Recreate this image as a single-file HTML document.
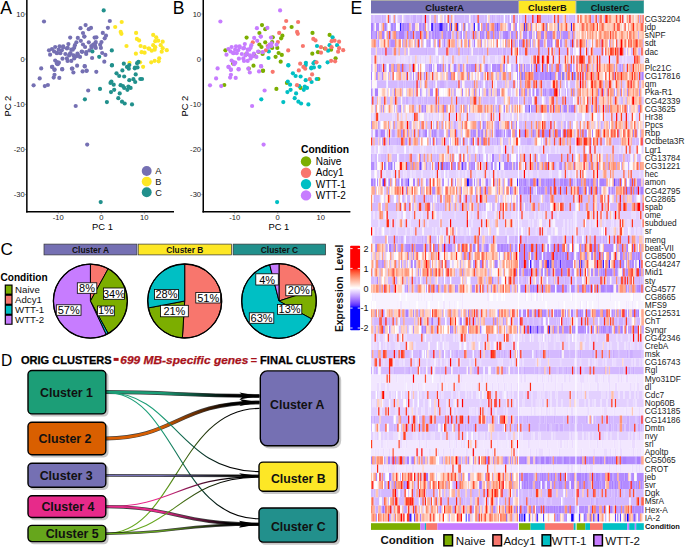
<!DOCTYPE html><html><head><meta charset="utf-8"><style>html,body{margin:0;padding:0;background:#fff;width:685px;height:547px;overflow:hidden;}svg{display:block}</style></head><body>
<svg width="685" height="547" viewBox="0 0 685 547" font-family="'Liberation Sans', sans-serif">
<rect width="685" height="547" fill="#fff"/>
<g>
<line x1="26.85" y1="0" x2="26.85" y2="212.5" stroke="#000" stroke-width="1.5"/>
<line x1="26.10" y1="211.8" x2="174.00" y2="211.8" stroke="#000" stroke-width="1.5"/>
<line x1="25.20" y1="14.00" x2="26.10" y2="14.00" stroke="#333" stroke-width="0.6"/>
<text x="24.70" y="16.70" font-size="7.6" fill="#1a1a1a" text-anchor="end">10</text>
<line x1="25.20" y1="59.10" x2="26.10" y2="59.10" stroke="#333" stroke-width="0.6"/>
<text x="24.70" y="61.80" font-size="7.6" fill="#1a1a1a" text-anchor="end">0</text>
<line x1="25.20" y1="104.30" x2="26.10" y2="104.30" stroke="#333" stroke-width="0.6"/>
<text x="24.70" y="107.00" font-size="7.6" fill="#1a1a1a" text-anchor="end">-10</text>
<line x1="25.20" y1="149.40" x2="26.10" y2="149.40" stroke="#333" stroke-width="0.6"/>
<text x="24.70" y="152.10" font-size="7.6" fill="#1a1a1a" text-anchor="end">-20</text>
<line x1="25.20" y1="194.60" x2="26.10" y2="194.60" stroke="#333" stroke-width="0.6"/>
<text x="24.70" y="197.30" font-size="7.6" fill="#1a1a1a" text-anchor="end">-30</text>
<line x1="58.30" y1="212.5" x2="58.30" y2="213.5" stroke="#333" stroke-width="0.6"/>
<text x="58.30" y="219.9" font-size="7.6" fill="#1a1a1a" text-anchor="middle">-10</text>
<line x1="101.30" y1="212.5" x2="101.30" y2="213.5" stroke="#333" stroke-width="0.6"/>
<text x="101.30" y="219.9" font-size="7.6" fill="#1a1a1a" text-anchor="middle">0</text>
<line x1="144.30" y1="212.5" x2="144.30" y2="213.5" stroke="#333" stroke-width="0.6"/>
<text x="144.30" y="219.9" font-size="7.6" fill="#1a1a1a" text-anchor="middle">10</text>
<text x="102.50" y="229.8" font-size="9.4" fill="#000" text-anchor="middle">PC 1</text>
<text transform="translate(11.40 106.1) rotate(-90)" font-size="9.4" fill="#000" text-anchor="middle">PC 2</text>
<text x="0.20" y="14" font-size="17.6" fill="#000">A</text>
</g>
<g>
<line x1="203.25" y1="0" x2="203.25" y2="212.5" stroke="#000" stroke-width="1.5"/>
<line x1="202.50" y1="211.8" x2="350.40" y2="211.8" stroke="#000" stroke-width="1.5"/>
<line x1="201.60" y1="14.00" x2="202.50" y2="14.00" stroke="#333" stroke-width="0.6"/>
<text x="201.10" y="16.70" font-size="7.6" fill="#1a1a1a" text-anchor="end">10</text>
<line x1="201.60" y1="59.10" x2="202.50" y2="59.10" stroke="#333" stroke-width="0.6"/>
<text x="201.10" y="61.80" font-size="7.6" fill="#1a1a1a" text-anchor="end">0</text>
<line x1="201.60" y1="104.30" x2="202.50" y2="104.30" stroke="#333" stroke-width="0.6"/>
<text x="201.10" y="107.00" font-size="7.6" fill="#1a1a1a" text-anchor="end">-10</text>
<line x1="201.60" y1="149.40" x2="202.50" y2="149.40" stroke="#333" stroke-width="0.6"/>
<text x="201.10" y="152.10" font-size="7.6" fill="#1a1a1a" text-anchor="end">-20</text>
<line x1="201.60" y1="194.60" x2="202.50" y2="194.60" stroke="#333" stroke-width="0.6"/>
<text x="201.10" y="197.30" font-size="7.6" fill="#1a1a1a" text-anchor="end">-30</text>
<line x1="234.70" y1="212.5" x2="234.70" y2="213.5" stroke="#333" stroke-width="0.6"/>
<text x="234.70" y="219.9" font-size="7.6" fill="#1a1a1a" text-anchor="middle">-10</text>
<line x1="277.70" y1="212.5" x2="277.70" y2="213.5" stroke="#333" stroke-width="0.6"/>
<text x="277.70" y="219.9" font-size="7.6" fill="#1a1a1a" text-anchor="middle">0</text>
<line x1="320.70" y1="212.5" x2="320.70" y2="213.5" stroke="#333" stroke-width="0.6"/>
<text x="320.70" y="219.9" font-size="7.6" fill="#1a1a1a" text-anchor="middle">10</text>
<text x="278.90" y="229.8" font-size="9.4" fill="#000" text-anchor="middle">PC 1</text>
<text transform="translate(187.80 106.1) rotate(-90)" font-size="9.4" fill="#000" text-anchor="middle">PC 2</text>
<text x="172.80" y="14" font-size="17.6" fill="#000">B</text>
</g>
<g>
<circle cx="44.0" cy="21.5" r="2.1" fill="#7570b3"/>
<circle cx="80.5" cy="28.2" r="2.1" fill="#7570b3"/>
<circle cx="85.6" cy="25.1" r="2.1" fill="#7570b3"/>
<circle cx="88.8" cy="29.2" r="2.1" fill="#7570b3"/>
<circle cx="91.0" cy="27.9" r="2.1" fill="#7570b3"/>
<circle cx="83.0" cy="33.0" r="2.1" fill="#7570b3"/>
<circle cx="84.3" cy="36.6" r="2.1" fill="#7570b3"/>
<circle cx="109.8" cy="21.0" r="2.1" fill="#7570b3"/>
<circle cx="107.9" cy="27.8" r="2.1" fill="#7570b3"/>
<circle cx="102.8" cy="32.9" r="2.1" fill="#7570b3"/>
<circle cx="106.0" cy="35.7" r="2.1" fill="#7570b3"/>
<circle cx="104.7" cy="38.3" r="2.1" fill="#7570b3"/>
<circle cx="96.4" cy="37.3" r="2.1" fill="#7570b3"/>
<circle cx="95.8" cy="42.1" r="2.1" fill="#7570b3"/>
<circle cx="101.5" cy="42.1" r="2.1" fill="#7570b3"/>
<circle cx="100.2" cy="44.7" r="2.1" fill="#7570b3"/>
<circle cx="95.1" cy="46.0" r="2.1" fill="#7570b3"/>
<circle cx="91.3" cy="46.0" r="2.1" fill="#7570b3"/>
<circle cx="100.9" cy="47.9" r="2.1" fill="#7570b3"/>
<circle cx="95.8" cy="47.9" r="2.1" fill="#7570b3"/>
<circle cx="102.2" cy="53.0" r="2.1" fill="#7570b3"/>
<circle cx="105.4" cy="54.9" r="2.1" fill="#7570b3"/>
<circle cx="92.1" cy="58.0" r="2.1" fill="#7570b3"/>
<circle cx="104.3" cy="61.7" r="2.1" fill="#7570b3"/>
<circle cx="96.3" cy="71.8" r="2.1" fill="#7570b3"/>
<circle cx="70.2" cy="37.6" r="2.1" fill="#7570b3"/>
<circle cx="77.8" cy="37.9" r="2.1" fill="#7570b3"/>
<circle cx="84.4" cy="36.5" r="2.1" fill="#7570b3"/>
<circle cx="94.6" cy="37.6" r="2.1" fill="#7570b3"/>
<circle cx="88.8" cy="42.3" r="2.1" fill="#7570b3"/>
<circle cx="76.4" cy="42.3" r="2.1" fill="#7570b3"/>
<circle cx="80.8" cy="40.8" r="2.1" fill="#7570b3"/>
<circle cx="83.0" cy="44.5" r="2.1" fill="#7570b3"/>
<circle cx="85.1" cy="47.0" r="2.1" fill="#7570b3"/>
<circle cx="74.9" cy="45.2" r="2.1" fill="#7570b3"/>
<circle cx="74.2" cy="47.8" r="2.1" fill="#7570b3"/>
<circle cx="68.4" cy="44.1" r="2.1" fill="#7570b3"/>
<circle cx="66.9" cy="48.5" r="2.1" fill="#7570b3"/>
<circle cx="55.2" cy="47.0" r="2.1" fill="#7570b3"/>
<circle cx="59.6" cy="46.3" r="2.1" fill="#7570b3"/>
<circle cx="63.2" cy="46.3" r="2.1" fill="#7570b3"/>
<circle cx="49.0" cy="50.3" r="2.1" fill="#7570b3"/>
<circle cx="54.1" cy="51.4" r="2.1" fill="#7570b3"/>
<circle cx="57.0" cy="53.2" r="2.1" fill="#7570b3"/>
<circle cx="60.3" cy="53.2" r="2.1" fill="#7570b3"/>
<circle cx="61.8" cy="50.3" r="2.1" fill="#7570b3"/>
<circle cx="65.4" cy="54.0" r="2.1" fill="#7570b3"/>
<circle cx="71.3" cy="49.6" r="2.1" fill="#7570b3"/>
<circle cx="70.5" cy="53.2" r="2.1" fill="#7570b3"/>
<circle cx="69.1" cy="55.4" r="2.1" fill="#7570b3"/>
<circle cx="73.5" cy="55.4" r="2.1" fill="#7570b3"/>
<circle cx="76.4" cy="56.2" r="2.1" fill="#7570b3"/>
<circle cx="80.0" cy="56.9" r="2.1" fill="#7570b3"/>
<circle cx="74.2" cy="58.4" r="2.1" fill="#7570b3"/>
<circle cx="82.2" cy="51.8" r="2.1" fill="#7570b3"/>
<circle cx="86.2" cy="54.0" r="2.1" fill="#7570b3"/>
<circle cx="89.5" cy="50.3" r="2.1" fill="#7570b3"/>
<circle cx="91.7" cy="47.4" r="2.1" fill="#7570b3"/>
<circle cx="93.2" cy="44.5" r="2.1" fill="#7570b3"/>
<circle cx="50.1" cy="54.7" r="2.1" fill="#7570b3"/>
<circle cx="62.5" cy="58.7" r="2.1" fill="#7570b3"/>
<circle cx="66.9" cy="58.4" r="2.1" fill="#7570b3"/>
<circle cx="67.6" cy="60.9" r="2.1" fill="#7570b3"/>
<circle cx="71.3" cy="60.9" r="2.1" fill="#7570b3"/>
<circle cx="55.2" cy="60.5" r="2.1" fill="#7570b3"/>
<circle cx="57.0" cy="62.0" r="2.1" fill="#7570b3"/>
<circle cx="58.9" cy="62.7" r="2.1" fill="#7570b3"/>
<circle cx="57.8" cy="64.2" r="2.1" fill="#7570b3"/>
<circle cx="52.3" cy="66.8" r="2.1" fill="#7570b3"/>
<circle cx="54.5" cy="69.3" r="2.1" fill="#7570b3"/>
<circle cx="62.2" cy="69.0" r="2.1" fill="#7570b3"/>
<circle cx="72.4" cy="68.6" r="2.1" fill="#7570b3"/>
<circle cx="77.1" cy="65.7" r="2.1" fill="#7570b3"/>
<circle cx="84.8" cy="66.4" r="2.1" fill="#7570b3"/>
<circle cx="58.7" cy="49.7" r="2.1" fill="#7570b3"/>
<circle cx="72.8" cy="49.7" r="2.1" fill="#7570b3"/>
<circle cx="81.7" cy="51.6" r="2.1" fill="#7570b3"/>
<circle cx="86.2" cy="52.2" r="2.1" fill="#7570b3"/>
<circle cx="56.8" cy="52.9" r="2.1" fill="#7570b3"/>
<circle cx="95.2" cy="43.3" r="2.1" fill="#7570b3"/>
<circle cx="78.1" cy="55.4" r="2.1" fill="#7570b3"/>
<circle cx="69.8" cy="54.2" r="2.1" fill="#7570b3"/>
<circle cx="57.0" cy="63.7" r="2.1" fill="#7570b3"/>
<circle cx="56.7" cy="63.1" r="2.1" fill="#7570b3"/>
<circle cx="67.7" cy="47.8" r="2.1" fill="#7570b3"/>
<circle cx="63.2" cy="47.5" r="2.1" fill="#7570b3"/>
<circle cx="52.0" cy="49.0" r="2.1" fill="#7570b3"/>
<circle cx="77.5" cy="53.5" r="2.1" fill="#7570b3"/>
<circle cx="41.2" cy="68.4" r="2.1" fill="#7570b3"/>
<circle cx="52.0" cy="66.9" r="2.1" fill="#7570b3"/>
<circle cx="54.5" cy="70.0" r="2.1" fill="#7570b3"/>
<circle cx="62.2" cy="69.4" r="2.1" fill="#7570b3"/>
<circle cx="71.9" cy="68.7" r="2.1" fill="#7570b3"/>
<circle cx="73.4" cy="72.5" r="2.1" fill="#7570b3"/>
<circle cx="82.6" cy="71.4" r="2.1" fill="#7570b3"/>
<circle cx="86.7" cy="70.7" r="2.1" fill="#7570b3"/>
<circle cx="39.7" cy="78.4" r="2.1" fill="#7570b3"/>
<circle cx="54.5" cy="74.8" r="2.1" fill="#7570b3"/>
<circle cx="53.7" cy="77.6" r="2.1" fill="#7570b3"/>
<circle cx="59.3" cy="77.9" r="2.1" fill="#7570b3"/>
<circle cx="33.6" cy="85.3" r="2.1" fill="#7570b3"/>
<circle cx="44.8" cy="86.1" r="2.1" fill="#7570b3"/>
<circle cx="47.9" cy="85.0" r="2.1" fill="#7570b3"/>
<circle cx="88.2" cy="90.5" r="2.1" fill="#7570b3"/>
<circle cx="75.7" cy="106.0" r="2.1" fill="#7570b3"/>
<circle cx="87.2" cy="144.6" r="2.1" fill="#7570b3"/>
<circle cx="84.6" cy="66.1" r="2.1" fill="#7570b3"/>
<circle cx="86.5" cy="70.8" r="2.1" fill="#7570b3"/>
<circle cx="121.7" cy="22.0" r="2.1" fill="#fde725"/>
<circle cx="115.2" cy="27.0" r="2.1" fill="#fde725"/>
<circle cx="120.7" cy="31.9" r="2.1" fill="#fde725"/>
<circle cx="121.4" cy="33.8" r="2.1" fill="#fde725"/>
<circle cx="126.5" cy="46.0" r="2.1" fill="#fde725"/>
<circle cx="136.1" cy="32.9" r="2.1" fill="#fde725"/>
<circle cx="136.9" cy="38.9" r="2.1" fill="#fde725"/>
<circle cx="139.1" cy="40.4" r="2.1" fill="#fde725"/>
<circle cx="153.2" cy="34.9" r="2.1" fill="#fde725"/>
<circle cx="156.2" cy="37.3" r="2.1" fill="#fde725"/>
<circle cx="155.2" cy="41.2" r="2.1" fill="#fde725"/>
<circle cx="158.2" cy="40.7" r="2.1" fill="#fde725"/>
<circle cx="162.7" cy="41.7" r="2.1" fill="#fde725"/>
<circle cx="140.6" cy="46.0" r="2.1" fill="#fde725"/>
<circle cx="144.6" cy="47.2" r="2.1" fill="#fde725"/>
<circle cx="149.1" cy="48.7" r="2.1" fill="#fde725"/>
<circle cx="151.7" cy="50.7" r="2.1" fill="#fde725"/>
<circle cx="153.2" cy="45.2" r="2.1" fill="#fde725"/>
<circle cx="155.2" cy="47.2" r="2.1" fill="#fde725"/>
<circle cx="154.7" cy="49.7" r="2.1" fill="#fde725"/>
<circle cx="160.7" cy="45.2" r="2.1" fill="#fde725"/>
<circle cx="162.7" cy="48.2" r="2.1" fill="#fde725"/>
<circle cx="166.8" cy="50.2" r="2.1" fill="#fde725"/>
<circle cx="161.7" cy="51.7" r="2.1" fill="#fde725"/>
<circle cx="141.6" cy="52.2" r="2.1" fill="#fde725"/>
<circle cx="144.6" cy="52.7" r="2.1" fill="#fde725"/>
<circle cx="135.9" cy="53.7" r="2.1" fill="#fde725"/>
<circle cx="129.5" cy="62.8" r="2.1" fill="#fde725"/>
<circle cx="140.1" cy="62.3" r="2.1" fill="#fde725"/>
<circle cx="143.1" cy="66.8" r="2.1" fill="#fde725"/>
<circle cx="151.2" cy="62.3" r="2.1" fill="#fde725"/>
<circle cx="154.7" cy="60.8" r="2.1" fill="#fde725"/>
<circle cx="159.2" cy="58.3" r="2.1" fill="#fde725"/>
<circle cx="158.7" cy="61.3" r="2.1" fill="#fde725"/>
<circle cx="148.5" cy="48.5" r="2.1" fill="#fde725"/>
<circle cx="103.7" cy="10.4" r="2.1" fill="#21908c"/>
<circle cx="111.8" cy="50.4" r="2.1" fill="#21908c"/>
<circle cx="92.4" cy="51.4" r="2.1" fill="#21908c"/>
<circle cx="99.2" cy="56.8" r="2.1" fill="#21908c"/>
<circle cx="100.0" cy="88.9" r="2.1" fill="#21908c"/>
<circle cx="111.9" cy="65.5" r="2.1" fill="#21908c"/>
<circle cx="123.8" cy="63.7" r="2.1" fill="#21908c"/>
<circle cx="127.0" cy="66.9" r="2.1" fill="#21908c"/>
<circle cx="129.3" cy="65.1" r="2.1" fill="#21908c"/>
<circle cx="128.8" cy="68.7" r="2.1" fill="#21908c"/>
<circle cx="122.4" cy="70.4" r="2.1" fill="#21908c"/>
<circle cx="137.1" cy="63.2" r="2.1" fill="#21908c"/>
<circle cx="138.4" cy="61.9" r="2.1" fill="#21908c"/>
<circle cx="134.8" cy="68.3" r="2.1" fill="#21908c"/>
<circle cx="137.5" cy="67.4" r="2.1" fill="#21908c"/>
<circle cx="116.5" cy="73.3" r="2.1" fill="#21908c"/>
<circle cx="119.2" cy="76.0" r="2.1" fill="#21908c"/>
<circle cx="124.2" cy="76.5" r="2.1" fill="#21908c"/>
<circle cx="135.7" cy="74.4" r="2.1" fill="#21908c"/>
<circle cx="129.3" cy="80.2" r="2.1" fill="#21908c"/>
<circle cx="133.4" cy="79.2" r="2.1" fill="#21908c"/>
<circle cx="135.2" cy="82.0" r="2.1" fill="#21908c"/>
<circle cx="140.3" cy="79.0" r="2.1" fill="#21908c"/>
<circle cx="142.0" cy="79.0" r="2.1" fill="#21908c"/>
<circle cx="111.4" cy="81.5" r="2.1" fill="#21908c"/>
<circle cx="110.5" cy="82.9" r="2.1" fill="#21908c"/>
<circle cx="113.7" cy="84.7" r="2.1" fill="#21908c"/>
<circle cx="120.6" cy="85.2" r="2.1" fill="#21908c"/>
<circle cx="122.9" cy="86.1" r="2.1" fill="#21908c"/>
<circle cx="124.2" cy="87.9" r="2.1" fill="#21908c"/>
<circle cx="128.4" cy="86.6" r="2.1" fill="#21908c"/>
<circle cx="130.6" cy="87.9" r="2.1" fill="#21908c"/>
<circle cx="127.4" cy="89.8" r="2.1" fill="#21908c"/>
<circle cx="114.2" cy="89.8" r="2.1" fill="#21908c"/>
<circle cx="111.0" cy="92.1" r="2.1" fill="#21908c"/>
<circle cx="119.7" cy="93.4" r="2.1" fill="#21908c"/>
<circle cx="118.3" cy="98.2" r="2.1" fill="#21908c"/>
<circle cx="106.9" cy="102.1" r="2.1" fill="#21908c"/>
<circle cx="122.0" cy="101.7" r="2.1" fill="#21908c"/>
<circle cx="124.7" cy="103.5" r="2.1" fill="#21908c"/>
<circle cx="132.0" cy="104.4" r="2.1" fill="#21908c"/>
<circle cx="84.9" cy="99.3" r="2.1" fill="#21908c"/>
<circle cx="100.7" cy="202.1" r="2.1" fill="#21908c"/>
<circle cx="112.0" cy="65.1" r="2.1" fill="#21908c"/>
<circle cx="135.0" cy="67.7" r="2.1" fill="#21908c"/>
</g><g>
<circle cx="262.0" cy="25.1" r="2.1" fill="#7cae00"/>
<circle cx="265.2" cy="29.2" r="2.1" fill="#7cae00"/>
<circle cx="259.4" cy="33.0" r="2.1" fill="#7cae00"/>
<circle cx="282.4" cy="35.7" r="2.1" fill="#7cae00"/>
<circle cx="281.1" cy="38.3" r="2.1" fill="#7cae00"/>
<circle cx="272.8" cy="37.3" r="2.1" fill="#7cae00"/>
<circle cx="272.2" cy="42.1" r="2.1" fill="#7cae00"/>
<circle cx="277.3" cy="47.9" r="2.1" fill="#7cae00"/>
<circle cx="272.2" cy="47.9" r="2.1" fill="#7cae00"/>
<circle cx="278.6" cy="53.0" r="2.1" fill="#7cae00"/>
<circle cx="281.8" cy="54.9" r="2.1" fill="#7cae00"/>
<circle cx="280.7" cy="61.7" r="2.1" fill="#7cae00"/>
<circle cx="246.6" cy="37.6" r="2.1" fill="#7cae00"/>
<circle cx="265.2" cy="42.3" r="2.1" fill="#7cae00"/>
<circle cx="259.4" cy="44.5" r="2.1" fill="#7cae00"/>
<circle cx="261.5" cy="47.0" r="2.1" fill="#7cae00"/>
<circle cx="225.4" cy="50.3" r="2.1" fill="#7cae00"/>
<circle cx="258.6" cy="51.8" r="2.1" fill="#7cae00"/>
<circle cx="262.6" cy="54.0" r="2.1" fill="#7cae00"/>
<circle cx="248.8" cy="68.6" r="2.1" fill="#7cae00"/>
<circle cx="253.5" cy="65.7" r="2.1" fill="#7cae00"/>
<circle cx="254.5" cy="55.4" r="2.1" fill="#7cae00"/>
<circle cx="246.2" cy="54.2" r="2.1" fill="#7cae00"/>
<circle cx="233.4" cy="63.7" r="2.1" fill="#7cae00"/>
<circle cx="233.1" cy="63.1" r="2.1" fill="#7cae00"/>
<circle cx="263.1" cy="70.7" r="2.1" fill="#7cae00"/>
<circle cx="224.3" cy="85.0" r="2.1" fill="#7cae00"/>
<circle cx="262.9" cy="70.8" r="2.1" fill="#7cae00"/>
<circle cx="275.6" cy="56.8" r="2.1" fill="#7cae00"/>
<circle cx="276.4" cy="88.9" r="2.1" fill="#7cae00"/>
<circle cx="318.4" cy="79.0" r="2.1" fill="#7cae00"/>
<circle cx="286.9" cy="82.9" r="2.1" fill="#7cae00"/>
<circle cx="300.6" cy="87.9" r="2.1" fill="#7cae00"/>
<circle cx="291.6" cy="27.0" r="2.1" fill="#7cae00"/>
<circle cx="312.5" cy="32.9" r="2.1" fill="#7cae00"/>
<circle cx="329.6" cy="34.9" r="2.1" fill="#7cae00"/>
<circle cx="331.1" cy="49.7" r="2.1" fill="#7cae00"/>
<circle cx="318.0" cy="52.2" r="2.1" fill="#7cae00"/>
<circle cx="312.3" cy="53.7" r="2.1" fill="#7cae00"/>
<circle cx="335.6" cy="58.3" r="2.1" fill="#7cae00"/>
<circle cx="324.9" cy="48.5" r="2.1" fill="#7cae00"/>
<circle cx="268.5" cy="58.0" r="2.1" fill="#00bfc4"/>
<circle cx="268.8" cy="51.4" r="2.1" fill="#00bfc4"/>
<circle cx="288.3" cy="65.5" r="2.1" fill="#00bfc4"/>
<circle cx="305.7" cy="65.1" r="2.1" fill="#00bfc4"/>
<circle cx="313.5" cy="63.2" r="2.1" fill="#00bfc4"/>
<circle cx="314.8" cy="61.9" r="2.1" fill="#00bfc4"/>
<circle cx="311.2" cy="68.3" r="2.1" fill="#00bfc4"/>
<circle cx="313.9" cy="67.4" r="2.1" fill="#00bfc4"/>
<circle cx="292.9" cy="73.3" r="2.1" fill="#00bfc4"/>
<circle cx="295.6" cy="76.0" r="2.1" fill="#00bfc4"/>
<circle cx="300.6" cy="76.5" r="2.1" fill="#00bfc4"/>
<circle cx="305.7" cy="80.2" r="2.1" fill="#00bfc4"/>
<circle cx="311.6" cy="82.0" r="2.1" fill="#00bfc4"/>
<circle cx="316.7" cy="79.0" r="2.1" fill="#00bfc4"/>
<circle cx="287.8" cy="81.5" r="2.1" fill="#00bfc4"/>
<circle cx="290.1" cy="84.7" r="2.1" fill="#00bfc4"/>
<circle cx="299.3" cy="86.1" r="2.1" fill="#00bfc4"/>
<circle cx="304.8" cy="86.6" r="2.1" fill="#00bfc4"/>
<circle cx="307.0" cy="87.9" r="2.1" fill="#00bfc4"/>
<circle cx="303.8" cy="89.8" r="2.1" fill="#00bfc4"/>
<circle cx="290.6" cy="89.8" r="2.1" fill="#00bfc4"/>
<circle cx="287.4" cy="92.1" r="2.1" fill="#00bfc4"/>
<circle cx="296.1" cy="93.4" r="2.1" fill="#00bfc4"/>
<circle cx="294.7" cy="98.2" r="2.1" fill="#00bfc4"/>
<circle cx="283.3" cy="102.1" r="2.1" fill="#00bfc4"/>
<circle cx="298.4" cy="101.7" r="2.1" fill="#00bfc4"/>
<circle cx="301.1" cy="103.5" r="2.1" fill="#00bfc4"/>
<circle cx="308.4" cy="104.4" r="2.1" fill="#00bfc4"/>
<circle cx="261.3" cy="99.3" r="2.1" fill="#00bfc4"/>
<circle cx="277.1" cy="202.1" r="2.1" fill="#00bfc4"/>
<circle cx="288.4" cy="65.1" r="2.1" fill="#00bfc4"/>
<circle cx="311.4" cy="67.7" r="2.1" fill="#00bfc4"/>
<circle cx="332.6" cy="37.3" r="2.1" fill="#00bfc4"/>
<circle cx="317.0" cy="46.0" r="2.1" fill="#00bfc4"/>
<circle cx="328.1" cy="50.7" r="2.1" fill="#00bfc4"/>
<circle cx="329.6" cy="45.2" r="2.1" fill="#00bfc4"/>
<circle cx="337.1" cy="45.2" r="2.1" fill="#00bfc4"/>
<circle cx="305.9" cy="62.8" r="2.1" fill="#00bfc4"/>
<circle cx="319.5" cy="66.8" r="2.1" fill="#00bfc4"/>
<circle cx="327.6" cy="62.3" r="2.1" fill="#00bfc4"/>
<circle cx="286.2" cy="21.0" r="2.1" fill="#f8766d"/>
<circle cx="284.3" cy="27.8" r="2.1" fill="#f8766d"/>
<circle cx="279.2" cy="32.9" r="2.1" fill="#f8766d"/>
<circle cx="277.9" cy="42.1" r="2.1" fill="#f8766d"/>
<circle cx="267.7" cy="46.0" r="2.1" fill="#f8766d"/>
<circle cx="272.7" cy="71.8" r="2.1" fill="#f8766d"/>
<circle cx="252.8" cy="42.3" r="2.1" fill="#f8766d"/>
<circle cx="265.9" cy="50.3" r="2.1" fill="#f8766d"/>
<circle cx="288.2" cy="50.4" r="2.1" fill="#f8766d"/>
<circle cx="300.2" cy="63.7" r="2.1" fill="#f8766d"/>
<circle cx="303.4" cy="66.9" r="2.1" fill="#f8766d"/>
<circle cx="305.2" cy="68.7" r="2.1" fill="#f8766d"/>
<circle cx="298.8" cy="70.4" r="2.1" fill="#f8766d"/>
<circle cx="312.1" cy="74.4" r="2.1" fill="#f8766d"/>
<circle cx="309.8" cy="79.2" r="2.1" fill="#f8766d"/>
<circle cx="297.0" cy="85.2" r="2.1" fill="#f8766d"/>
<circle cx="298.1" cy="22.0" r="2.1" fill="#f8766d"/>
<circle cx="297.1" cy="31.9" r="2.1" fill="#f8766d"/>
<circle cx="297.8" cy="33.8" r="2.1" fill="#f8766d"/>
<circle cx="302.9" cy="46.0" r="2.1" fill="#f8766d"/>
<circle cx="313.3" cy="38.9" r="2.1" fill="#f8766d"/>
<circle cx="315.5" cy="40.4" r="2.1" fill="#f8766d"/>
<circle cx="331.6" cy="41.2" r="2.1" fill="#f8766d"/>
<circle cx="334.6" cy="40.7" r="2.1" fill="#f8766d"/>
<circle cx="339.1" cy="41.7" r="2.1" fill="#f8766d"/>
<circle cx="321.0" cy="47.2" r="2.1" fill="#f8766d"/>
<circle cx="325.5" cy="48.7" r="2.1" fill="#f8766d"/>
<circle cx="331.6" cy="47.2" r="2.1" fill="#f8766d"/>
<circle cx="339.1" cy="48.2" r="2.1" fill="#f8766d"/>
<circle cx="343.2" cy="50.2" r="2.1" fill="#f8766d"/>
<circle cx="338.1" cy="51.7" r="2.1" fill="#f8766d"/>
<circle cx="321.0" cy="52.7" r="2.1" fill="#f8766d"/>
<circle cx="316.5" cy="62.3" r="2.1" fill="#f8766d"/>
<circle cx="331.1" cy="60.8" r="2.1" fill="#f8766d"/>
<circle cx="335.1" cy="61.3" r="2.1" fill="#f8766d"/>
<circle cx="220.4" cy="21.5" r="2.1" fill="#c77cff"/>
<circle cx="256.9" cy="28.2" r="2.1" fill="#c77cff"/>
<circle cx="267.4" cy="27.9" r="2.1" fill="#c77cff"/>
<circle cx="260.7" cy="36.6" r="2.1" fill="#c77cff"/>
<circle cx="276.6" cy="44.7" r="2.1" fill="#c77cff"/>
<circle cx="271.5" cy="46.0" r="2.1" fill="#c77cff"/>
<circle cx="254.2" cy="37.9" r="2.1" fill="#c77cff"/>
<circle cx="260.8" cy="36.5" r="2.1" fill="#c77cff"/>
<circle cx="271.0" cy="37.6" r="2.1" fill="#c77cff"/>
<circle cx="257.2" cy="40.8" r="2.1" fill="#c77cff"/>
<circle cx="251.3" cy="45.2" r="2.1" fill="#c77cff"/>
<circle cx="250.6" cy="47.8" r="2.1" fill="#c77cff"/>
<circle cx="244.8" cy="44.1" r="2.1" fill="#c77cff"/>
<circle cx="243.3" cy="48.5" r="2.1" fill="#c77cff"/>
<circle cx="231.6" cy="47.0" r="2.1" fill="#c77cff"/>
<circle cx="236.0" cy="46.3" r="2.1" fill="#c77cff"/>
<circle cx="239.6" cy="46.3" r="2.1" fill="#c77cff"/>
<circle cx="230.5" cy="51.4" r="2.1" fill="#c77cff"/>
<circle cx="233.4" cy="53.2" r="2.1" fill="#c77cff"/>
<circle cx="236.7" cy="53.2" r="2.1" fill="#c77cff"/>
<circle cx="238.2" cy="50.3" r="2.1" fill="#c77cff"/>
<circle cx="241.8" cy="54.0" r="2.1" fill="#c77cff"/>
<circle cx="247.7" cy="49.6" r="2.1" fill="#c77cff"/>
<circle cx="246.9" cy="53.2" r="2.1" fill="#c77cff"/>
<circle cx="245.5" cy="55.4" r="2.1" fill="#c77cff"/>
<circle cx="249.9" cy="55.4" r="2.1" fill="#c77cff"/>
<circle cx="252.8" cy="56.2" r="2.1" fill="#c77cff"/>
<circle cx="256.4" cy="56.9" r="2.1" fill="#c77cff"/>
<circle cx="250.6" cy="58.4" r="2.1" fill="#c77cff"/>
<circle cx="268.1" cy="47.4" r="2.1" fill="#c77cff"/>
<circle cx="269.6" cy="44.5" r="2.1" fill="#c77cff"/>
<circle cx="226.5" cy="54.7" r="2.1" fill="#c77cff"/>
<circle cx="238.9" cy="58.7" r="2.1" fill="#c77cff"/>
<circle cx="243.3" cy="58.4" r="2.1" fill="#c77cff"/>
<circle cx="244.0" cy="60.9" r="2.1" fill="#c77cff"/>
<circle cx="247.7" cy="60.9" r="2.1" fill="#c77cff"/>
<circle cx="231.6" cy="60.5" r="2.1" fill="#c77cff"/>
<circle cx="233.4" cy="62.0" r="2.1" fill="#c77cff"/>
<circle cx="235.3" cy="62.7" r="2.1" fill="#c77cff"/>
<circle cx="234.2" cy="64.2" r="2.1" fill="#c77cff"/>
<circle cx="228.7" cy="66.8" r="2.1" fill="#c77cff"/>
<circle cx="230.9" cy="69.3" r="2.1" fill="#c77cff"/>
<circle cx="238.6" cy="69.0" r="2.1" fill="#c77cff"/>
<circle cx="261.2" cy="66.4" r="2.1" fill="#c77cff"/>
<circle cx="235.1" cy="49.7" r="2.1" fill="#c77cff"/>
<circle cx="249.2" cy="49.7" r="2.1" fill="#c77cff"/>
<circle cx="258.1" cy="51.6" r="2.1" fill="#c77cff"/>
<circle cx="262.6" cy="52.2" r="2.1" fill="#c77cff"/>
<circle cx="233.2" cy="52.9" r="2.1" fill="#c77cff"/>
<circle cx="271.6" cy="43.3" r="2.1" fill="#c77cff"/>
<circle cx="244.1" cy="47.8" r="2.1" fill="#c77cff"/>
<circle cx="239.6" cy="47.5" r="2.1" fill="#c77cff"/>
<circle cx="228.4" cy="49.0" r="2.1" fill="#c77cff"/>
<circle cx="253.9" cy="53.5" r="2.1" fill="#c77cff"/>
<circle cx="217.6" cy="68.4" r="2.1" fill="#c77cff"/>
<circle cx="228.4" cy="66.9" r="2.1" fill="#c77cff"/>
<circle cx="230.9" cy="70.0" r="2.1" fill="#c77cff"/>
<circle cx="238.6" cy="69.4" r="2.1" fill="#c77cff"/>
<circle cx="248.3" cy="68.7" r="2.1" fill="#c77cff"/>
<circle cx="249.8" cy="72.5" r="2.1" fill="#c77cff"/>
<circle cx="259.0" cy="71.4" r="2.1" fill="#c77cff"/>
<circle cx="216.1" cy="78.4" r="2.1" fill="#c77cff"/>
<circle cx="230.9" cy="74.8" r="2.1" fill="#c77cff"/>
<circle cx="230.1" cy="77.6" r="2.1" fill="#c77cff"/>
<circle cx="235.7" cy="77.9" r="2.1" fill="#c77cff"/>
<circle cx="210.0" cy="85.3" r="2.1" fill="#c77cff"/>
<circle cx="221.2" cy="86.1" r="2.1" fill="#c77cff"/>
<circle cx="264.6" cy="90.5" r="2.1" fill="#c77cff"/>
<circle cx="252.1" cy="106.0" r="2.1" fill="#c77cff"/>
<circle cx="263.6" cy="144.6" r="2.1" fill="#c77cff"/>
<circle cx="261.0" cy="66.1" r="2.1" fill="#c77cff"/>
<circle cx="280.1" cy="10.4" r="2.1" fill="#c77cff"/>
</g>
<circle cx="146.7" cy="171.0" r="4.95" fill="#7570b3"/>
<text x="155.3" y="174.3" font-size="9.2" fill="#111">A</text>
<circle cx="146.7" cy="181.6" r="4.95" fill="#fde725"/>
<text x="155.3" y="184.9" font-size="9.2" fill="#111">B</text>
<circle cx="146.7" cy="192.2" r="4.95" fill="#21908c"/>
<text x="155.3" y="195.5" font-size="9.2" fill="#111">C</text>
<text x="301" y="152.6" font-size="10.3" font-weight="bold" fill="#000">Condition</text>
<circle cx="306" cy="161.4" r="5.2" fill="#7cae00"/>
<text x="315.8" y="165.0" font-size="10" fill="#000">Naive</text>
<circle cx="306" cy="172.7" r="5.2" fill="#f8766d"/>
<text x="315.8" y="176.3" font-size="10" fill="#000">Adcy1</text>
<circle cx="306" cy="184.1" r="5.2" fill="#00bfc4"/>
<text x="315.8" y="187.7" font-size="10" fill="#000">WTT-1</text>
<circle cx="306" cy="195.4" r="5.2" fill="#c77cff"/>
<text x="315.8" y="199.0" font-size="10" fill="#000">WTT-2</text>
<text x="0.5" y="255" font-size="17.2" fill="#000">C</text>
<rect x="44.0" y="244.1" width="92.9" height="10.8" fill="#7570b3" stroke="#333" stroke-width="0.7"/>
<text x="90.5" y="252.6" font-size="8.4" font-weight="bold" text-anchor="middle" fill="#111">Cluster A</text>
<rect x="138.2" y="244.1" width="93.3" height="10.8" fill="#fde725" stroke="#333" stroke-width="0.7"/>
<text x="184.8" y="252.6" font-size="8.4" font-weight="bold" text-anchor="middle" fill="#111">Cluster B</text>
<rect x="233.1" y="244.1" width="92.5" height="10.8" fill="#21908c" stroke="#333" stroke-width="0.7"/>
<text x="279.4" y="252.6" font-size="8.4" font-weight="bold" text-anchor="middle" fill="#111">Cluster C</text>
<text x="0.5" y="281" font-size="10.1" font-weight="bold" fill="#000">Condition</text>
<rect x="4.7" y="284.5" width="7.9" height="40.3" fill="#000"/>
<rect x="5.9" y="285.7" width="5.5" height="7.9" fill="#7cae00"/>
<text x="15" y="293.2" font-size="9.7" fill="#111">Naive</text>
<rect x="5.9" y="295.8" width="5.5" height="7.9" fill="#f8766d"/>
<text x="15" y="303.2" font-size="9.7" fill="#111">Adcy1</text>
<rect x="5.9" y="305.8" width="5.5" height="7.9" fill="#00bfc4"/>
<text x="15" y="313.3" font-size="9.7" fill="#111">WTT-1</text>
<rect x="5.9" y="315.8" width="5.5" height="7.9" fill="#c77cff"/>
<text x="15" y="323.3" font-size="9.7" fill="#111">WTT-2</text>
<path d="M90.40 301.10 L90.40 264.10 A37.00 37.00 0 0 1 108.22 268.68 Z" fill="#f8766d" stroke="#000" stroke-width="1" stroke-linejoin="round"/>
<path d="M90.40 301.10 L108.22 268.68 A37.00 37.00 0 0 1 108.22 333.52 Z" fill="#7cae00" stroke="#000" stroke-width="1" stroke-linejoin="round"/>
<path d="M90.40 301.10 L108.22 333.52 A37.00 37.00 0 0 1 106.15 334.58 Z" fill="#00bfc4" stroke="#000" stroke-width="1" stroke-linejoin="round"/>
<path d="M90.40 301.10 L106.15 334.58 A37.00 37.00 0 1 1 90.40 264.10 Z" fill="#c77cff" stroke="#000" stroke-width="1" stroke-linejoin="round"/>
<circle cx="90.40" cy="301.10" r="37.00" fill="none" stroke="#000" stroke-width="1.3"/>
<rect x="77.3" y="282.8" width="19.5" height="10.5" fill="#fff" stroke="#000" stroke-width="0.8"/>
<text x="87.0" y="291.8" font-size="11" text-anchor="middle" fill="#000">8%</text>
<rect x="103.5" y="288.0" width="21.0" height="11.3" fill="#fff" stroke="#000" stroke-width="0.8"/>
<text x="114.0" y="297.8" font-size="11" text-anchor="middle" fill="#000">34%</text>
<rect x="97.5" y="306.0" width="16.8" height="9.8" fill="#fff" stroke="#000" stroke-width="0.8"/>
<text x="105.9" y="314.3" font-size="11" text-anchor="middle" fill="#000">1%</text>
<rect x="56.3" y="304.8" width="24.7" height="10.5" fill="#fff" stroke="#000" stroke-width="0.8"/>
<text x="68.7" y="313.8" font-size="11" text-anchor="middle" fill="#000">57%</text>
<path d="M184.70 301.00 L184.70 264.00 A37.00 37.00 0 1 1 182.38 337.93 Z" fill="#f8766d" stroke="#000" stroke-width="1" stroke-linejoin="round"/>
<path d="M184.70 301.00 L182.38 337.93 A37.00 37.00 0 0 1 148.36 307.93 Z" fill="#7cae00" stroke="#000" stroke-width="1" stroke-linejoin="round"/>
<path d="M184.70 301.00 L148.36 307.93 A37.00 37.00 0 0 1 184.70 264.00 Z" fill="#00bfc4" stroke="#000" stroke-width="1" stroke-linejoin="round"/>
<circle cx="184.70" cy="301.00" r="37.00" fill="none" stroke="#000" stroke-width="1.3"/>
<rect x="154.5" y="289.5" width="24.0" height="9.8" fill="#fff" stroke="#000" stroke-width="0.8"/>
<text x="166.5" y="297.8" font-size="11" text-anchor="middle" fill="#000">28%</text>
<rect x="195.8" y="292.5" width="24.7" height="10.5" fill="#fff" stroke="#000" stroke-width="0.8"/>
<text x="208.2" y="301.5" font-size="11" text-anchor="middle" fill="#000">51%</text>
<rect x="160.5" y="305.3" width="27.8" height="11.5" fill="#fff" stroke="#000" stroke-width="0.8"/>
<text x="174.4" y="315.3" font-size="11" text-anchor="middle" fill="#000">21%</text>
<path d="M279.00 301.00 L279.00 263.70 A37.30 37.30 0 0 1 314.47 289.47 Z" fill="#f8766d" stroke="#000" stroke-width="1" stroke-linejoin="round"/>
<path d="M279.00 301.00 L314.47 289.47 A37.30 37.30 0 0 1 311.69 318.97 Z" fill="#7cae00" stroke="#000" stroke-width="1" stroke-linejoin="round"/>
<path d="M279.00 301.00 L311.69 318.97 A37.30 37.30 0 1 1 269.72 264.87 Z" fill="#00bfc4" stroke="#000" stroke-width="1" stroke-linejoin="round"/>
<path d="M279.00 301.00 L269.72 264.87 A37.30 37.30 0 0 1 279.00 263.70 Z" fill="#c77cff" stroke="#000" stroke-width="1" stroke-linejoin="round"/>
<circle cx="279.00" cy="301.00" r="37.30" fill="none" stroke="#000" stroke-width="1.3"/>
<rect x="255.8" y="273.8" width="22.5" height="11.2" fill="#fff" stroke="#000" stroke-width="0.8"/>
<text x="267.1" y="283.5" font-size="11" text-anchor="middle" fill="#000">4%</text>
<rect x="285.8" y="285.0" width="25.9" height="10.8" fill="#fff" stroke="#000" stroke-width="0.8"/>
<text x="298.8" y="294.3" font-size="11" text-anchor="middle" fill="#000">20%</text>
<rect x="277.5" y="304.5" width="24.3" height="9.8" fill="#fff" stroke="#000" stroke-width="0.8"/>
<text x="289.6" y="312.8" font-size="11" text-anchor="middle" fill="#000">13%</text>
<rect x="249.3" y="312.8" width="24.5" height="10.5" fill="#fff" stroke="#000" stroke-width="0.8"/>
<text x="261.6" y="321.8" font-size="11" text-anchor="middle" fill="#000">63%</text>
<defs><linearGradient id="cbar" x1="0" y1="245.8" x2="0" y2="330.3" gradientUnits="userSpaceOnUse">
<stop offset="0" stop-color="#ff0000"/>
<stop offset="0.2675" stop-color="#ff0000"/>
<stop offset="0.2907" stop-color="#ff3e22"/>
<stop offset="0.3138" stop-color="#ff5b3a"/>
<stop offset="0.3370" stop-color="#ff7352"/>
<stop offset="0.3602" stop-color="#ff8969"/>
<stop offset="0.3834" stop-color="#ff9e81"/>
<stop offset="0.4066" stop-color="#ffb299"/>
<stop offset="0.4298" stop-color="#ffc6b2"/>
<stop offset="0.4530" stop-color="#ffd9cb"/>
<stop offset="0.4762" stop-color="#ffece5"/>
<stop offset="0.4994" stop-color="#ffffff"/>
<stop offset="0.5226" stop-color="#f2e7ff"/>
<stop offset="0.5458" stop-color="#e3d0ff"/>
<stop offset="0.5690" stop-color="#d4b9ff"/>
<stop offset="0.5922" stop-color="#c4a2ff"/>
<stop offset="0.6154" stop-color="#b38bff"/>
<stop offset="0.6386" stop-color="#a074ff"/>
<stop offset="0.6618" stop-color="#8a5dff"/>
<stop offset="0.6850" stop-color="#7145ff"/>
<stop offset="0.7082" stop-color="#502bff"/>
<stop offset="0.7314" stop-color="#0000ff"/>
<stop offset="1" stop-color="#0000ff"/>
</linearGradient></defs>
<rect x="350.2" y="245.8" width="9.9" height="84.5" rx="0.8" fill="url(#cbar)"/>
<line x1="350.2" y1="248.6" x2="352.6" y2="248.6" stroke="#fff" stroke-width="0.9"/>
<line x1="357.7" y1="248.6" x2="360.1" y2="248.6" stroke="#fff" stroke-width="0.9"/>
<text x="368.6" y="251.8" font-size="9" fill="#111" text-anchor="end">2</text>
<line x1="350.2" y1="268.4" x2="352.6" y2="268.4" stroke="#fff" stroke-width="0.9"/>
<line x1="357.7" y1="268.4" x2="360.1" y2="268.4" stroke="#fff" stroke-width="0.9"/>
<text x="368.6" y="271.6" font-size="9" fill="#111" text-anchor="end">1</text>
<line x1="350.2" y1="288.3" x2="352.6" y2="288.3" stroke="#fff" stroke-width="0.9"/>
<line x1="357.7" y1="288.3" x2="360.1" y2="288.3" stroke="#fff" stroke-width="0.9"/>
<text x="368.6" y="291.5" font-size="9" fill="#111" text-anchor="end">0</text>
<line x1="350.2" y1="308.1" x2="352.6" y2="308.1" stroke="#fff" stroke-width="0.9"/>
<line x1="357.7" y1="308.1" x2="360.1" y2="308.1" stroke="#fff" stroke-width="0.9"/>
<text x="368.6" y="311.3" font-size="9" fill="#111" text-anchor="end">-1</text>
<line x1="350.2" y1="328.0" x2="352.6" y2="328.0" stroke="#fff" stroke-width="0.9"/>
<line x1="357.7" y1="328.0" x2="360.1" y2="328.0" stroke="#fff" stroke-width="0.9"/>
<text x="368.6" y="331.2" font-size="9" fill="#111" text-anchor="end">-2</text>
<text transform="translate(342.6 288.3) rotate(-90)" font-size="10.3" font-weight="bold" text-anchor="middle" fill="#111" xml:space="preserve">Expression  Level</text>
<text x="1" y="365.6" font-size="15.6" fill="#000">D</text>
<text x="21" y="363.6" font-size="10.2" font-weight="bold" fill="#000" stroke="#000" stroke-width="0.25" textLength="90.7" lengthAdjust="spacingAndGlyphs">ORIG CLUSTERS</text>
<rect x="113.6" y="357.9" width="5" height="3" fill="#a8121a"/>
<text x="120.3" y="363.6" font-size="10.2" font-weight="bold" font-style="italic" fill="#a8121a" stroke="#a8121a" stroke-width="0.25" textLength="128.1" lengthAdjust="spacingAndGlyphs">699 MB-specific genes</text>
<text x="250.6" y="363.8" font-size="11.5" font-weight="bold" fill="#a8121a">=</text>
<text x="260.1" y="363.6" font-size="10.2" font-weight="bold" fill="#000" stroke="#000" stroke-width="0.25" textLength="95.4" lengthAdjust="spacingAndGlyphs">FINAL CLUSTERS</text>
<defs><filter id="sh" x="-10%" y="-10%" width="130%" height="140%"><feGaussianBlur in="SourceAlpha" stdDeviation="0.7"/><feOffset dx="1.5" dy="1.5"/><feComponentTransfer><feFuncA type="linear" slope="0.22"/></feComponentTransfer><feMerge><feMergeNode/><feMergeNode in="SourceGraphic"/></feMerge></filter></defs>
<defs>
<linearGradient id="g0" x1="106.0" y1="0" x2="259.5" y2="0" gradientUnits="userSpaceOnUse"><stop offset="0" stop-color="#1b9e77"/><stop offset="0.35" stop-color="#1b9e77"/><stop offset="0.8" stop-color="#000"/><stop offset="1" stop-color="#000"/></linearGradient>
<linearGradient id="g1" x1="106.0" y1="0" x2="259.5" y2="0" gradientUnits="userSpaceOnUse"><stop offset="0" stop-color="#d95f02"/><stop offset="0.35" stop-color="#d95f02"/><stop offset="0.8" stop-color="#000"/><stop offset="1" stop-color="#000"/></linearGradient>
<linearGradient id="g2" x1="106.0" y1="0" x2="259.5" y2="0" gradientUnits="userSpaceOnUse"><stop offset="0" stop-color="#66a61e"/><stop offset="0.35" stop-color="#66a61e"/><stop offset="0.8" stop-color="#000"/><stop offset="1" stop-color="#000"/></linearGradient>
<linearGradient id="g3" x1="106.0" y1="0" x2="259.0" y2="0" gradientUnits="userSpaceOnUse"><stop offset="0" stop-color="#1b9e77"/><stop offset="0.35" stop-color="#1b9e77"/><stop offset="0.8" stop-color="#000"/><stop offset="1" stop-color="#000"/></linearGradient>
<linearGradient id="g4" x1="106.0" y1="0" x2="259.0" y2="0" gradientUnits="userSpaceOnUse"><stop offset="0" stop-color="#1b9e77"/><stop offset="0.35" stop-color="#1b9e77"/><stop offset="0.8" stop-color="#000"/><stop offset="1" stop-color="#000"/></linearGradient>
<linearGradient id="g5" x1="106.0" y1="0" x2="259.0" y2="0" gradientUnits="userSpaceOnUse"><stop offset="0" stop-color="#7570b3"/><stop offset="0.35" stop-color="#7570b3"/><stop offset="0.8" stop-color="#000"/><stop offset="1" stop-color="#000"/></linearGradient>
<linearGradient id="g6" x1="106.0" y1="0" x2="259.0" y2="0" gradientUnits="userSpaceOnUse"><stop offset="0" stop-color="#e7298a"/><stop offset="0.35" stop-color="#e7298a"/><stop offset="0.8" stop-color="#000"/><stop offset="1" stop-color="#000"/></linearGradient>
<linearGradient id="g7" x1="106.0" y1="0" x2="259.0" y2="0" gradientUnits="userSpaceOnUse"><stop offset="0" stop-color="#e7298a"/><stop offset="0.35" stop-color="#e7298a"/><stop offset="0.8" stop-color="#000"/><stop offset="1" stop-color="#000"/></linearGradient>
<linearGradient id="g8" x1="106.0" y1="0" x2="259.0" y2="0" gradientUnits="userSpaceOnUse"><stop offset="0" stop-color="#66a61e"/><stop offset="0.35" stop-color="#66a61e"/><stop offset="0.8" stop-color="#000"/><stop offset="1" stop-color="#000"/></linearGradient>
<linearGradient id="g9" x1="106.0" y1="0" x2="259.0" y2="0" gradientUnits="userSpaceOnUse"><stop offset="0" stop-color="#66a61e"/><stop offset="0.35" stop-color="#66a61e"/><stop offset="0.8" stop-color="#000"/><stop offset="1" stop-color="#000"/></linearGradient>
</defs>
<path d="M106.0 392.0 C175.1 392.0 178.1 396.0 259.5 396.0" fill="none" stroke="#000" stroke-opacity="0.75" stroke-width="4.0"/>
<path d="M106.0 392.0 C175.1 392.0 178.1 396.0 259.5 396.0" fill="none" stroke="url(#g0)" stroke-width="2.6"/>
<path d="M259.5 396.0 L239.5 392.5 L243.5 396.0 L239.5 399.5 Z" fill="#000"/>
<path d="M106.0 438.4 C175.1 438.4 178.1 402.4 259.5 402.4" fill="none" stroke="#000" stroke-opacity="0.75" stroke-width="4.0"/>
<path d="M106.0 438.4 C175.1 438.4 178.1 402.4 259.5 402.4" fill="none" stroke="url(#g1)" stroke-width="2.6"/>
<path d="M259.5 402.4 L239.5 398.9 L243.5 402.4 L239.5 405.9 Z" fill="#000"/>
<path d="M106.0 533.6 C175.1 533.6 178.1 408.4 259.5 408.4" fill="none" stroke="url(#g2)" stroke-width="1.1"/>
<path d="M106.0 392.5 C174.9 392.5 177.9 471.6 259.0 471.6" fill="none" stroke="url(#g3)" stroke-width="1.1"/>
<path d="M106.0 392.5 C174.9 392.5 177.9 518.8 259.0 518.8" fill="none" stroke="url(#g4)" stroke-width="1.1"/>
<path d="M106.0 475.4 C174.9 475.4 177.9 475.9 259.0 475.9" fill="none" stroke="#000" stroke-opacity="0.75" stroke-width="2.8"/>
<path d="M106.0 475.4 C174.9 475.4 177.9 475.9 259.0 475.9" fill="none" stroke="url(#g5)" stroke-width="1.4"/>
<path d="M259.0 475.9 L239.0 473.3 L243.0 475.9 L239.0 478.5 Z" fill="#000"/>
<path d="M106.0 506.6 C174.9 506.6 177.9 476.6 259.0 476.6" fill="none" stroke="url(#g6)" stroke-width="1.1"/>
<path d="M106.0 506.6 C174.9 506.6 177.9 524.2 259.0 524.2" fill="none" stroke="#000" stroke-opacity="0.75" stroke-width="3.4"/>
<path d="M106.0 506.6 C174.9 506.6 177.9 524.2 259.0 524.2" fill="none" stroke="url(#g7)" stroke-width="2.0"/>
<path d="M259.0 524.2 L239.0 520.7 L243.0 524.2 L239.0 527.7 Z" fill="#000"/>
<path d="M106.0 533.6 C174.9 533.6 177.9 477.2 259.0 477.2" fill="none" stroke="url(#g8)" stroke-width="1.1"/>
<path d="M106.0 533.6 C174.9 533.6 177.9 524.4 259.0 524.4" fill="none" stroke="#000" stroke-opacity="0.75" stroke-width="2.6"/>
<path d="M106.0 533.6 C174.9 533.6 177.9 524.4 259.0 524.4" fill="none" stroke="url(#g9)" stroke-width="1.2"/>
<path d="M259.0 524.4 L239.0 521.8 L243.0 524.4 L239.0 527.0 Z" fill="#000"/>
<rect x="28" y="370.5" width="77.8" height="43.4" rx="4" fill="#1b9e77" stroke="#000" stroke-width="1.4" filter="url(#sh)"/>
<text x="66.5" y="396.6" font-size="12.4" font-weight="bold" text-anchor="middle" fill="#111">Cluster 1</text>
<rect x="28" y="422.2" width="77.8" height="32.6" rx="4" fill="#d95f02" stroke="#000" stroke-width="1.4" filter="url(#sh)"/>
<text x="65.0" y="442.9" font-size="12.4" font-weight="bold" text-anchor="middle" fill="#111">Cluster 2</text>
<rect x="28" y="463.2" width="77.8" height="24.1" rx="4" fill="#7570b3" stroke="#000" stroke-width="1.4" filter="url(#sh)"/>
<text x="66.2" y="479.6" font-size="12.4" font-weight="bold" text-anchor="middle" fill="#111">Cluster 3</text>
<rect x="28" y="495.8" width="77.8" height="21.7" rx="4" fill="#e7298a" stroke="#000" stroke-width="1.4" filter="url(#sh)"/>
<text x="67.9" y="511.0" font-size="12.4" font-weight="bold" text-anchor="middle" fill="#111">Cluster 4</text>
<rect x="28" y="525.4" width="77.8" height="16.2" rx="4" fill="#66a61e" stroke="#000" stroke-width="1.4" filter="url(#sh)"/>
<text x="72.2" y="537.9" font-size="12.4" font-weight="bold" text-anchor="middle" fill="#111">Cluster 5</text>
<rect x="260.3" y="370.9" width="78.2" height="74.9" rx="7" fill="#7570b3" stroke="#000" stroke-width="1.4" filter="url(#sh)"/>
<text x="297.2" y="408.6" font-size="12.3" font-weight="bold" text-anchor="middle" fill="#111">Cluster A</text>
<rect x="259.0" y="462.1" width="78.2" height="29.1" rx="4" fill="#fde725" stroke="#000" stroke-width="1.4" filter="url(#sh)"/>
<text x="298.3" y="482.7" font-size="12.3" font-weight="bold" text-anchor="middle" fill="#111">Cluster B</text>
<rect x="259.0" y="508.0" width="78.2" height="34.1" rx="4" fill="#21908c" stroke="#000" stroke-width="1.4" filter="url(#sh)"/>
<text x="298.3" y="531.0" font-size="12.3" font-weight="bold" text-anchor="middle" fill="#111">Cluster C</text>
<text x="350.6" y="13.7" font-size="17.6" fill="#000">E</text>
<rect x="371" y="0" width="273" height="1.1" fill="#aaa"/>
<rect x="371.0" y="1" width="147.2" height="12.4" fill="#7570b3"/>
<text x="444.6" y="10.9" font-size="9.3" font-weight="bold" text-anchor="middle" fill="#111">ClusterA</text>
<rect x="519.0" y="1" width="56.6" height="12.4" fill="#fde725"/>
<text x="547.3" y="10.9" font-size="9.3" font-weight="bold" text-anchor="middle" fill="#111">ClusterB</text>
<rect x="576.2" y="1" width="67.6" height="12.4" fill="#21908c"/>
<text x="610.0" y="10.9" font-size="9.3" font-weight="bold" text-anchor="middle" fill="#111">ClusterC</text>
<rect x="518.2" y="0" width="0.8" height="13.4" fill="#999"/><rect x="575.6" y="0" width="0.6" height="13.4" fill="#999"/>
<svg x="371.00" y="14.7" width="147.20" height="507.1" viewBox="0 0 123 62" preserveAspectRatio="none">
<path fill="#0000ff" d="M24 1h1v1h-1zM67 1h1v1h-1zM72 1h1v1h-1zM58 18h1v1h-1zM80 20h1v1h-1zM79 61h1v1h-1z"/>
<path fill="#381bff" d="M51 1h1v1h-1zM57 1h3v1h-3zM78 1h1v1h-1zM86 1h1v1h-1zM89 1h1v1h-1zM107 18h1v1h-1zM81 20h1v1h-1zM32 61h2v1h-2z"/>
<path fill="#502bff" d="M17 1h1v1h-1zM63 1h1v1h-1zM17 18h1v1h-1zM119 18h1v1h-1zM31 20h1v1h-1zM122 20h1v1h-1zM36 61h1v1h-1z"/>
<path fill="#6239ff" d="M12 1h1v1h-1zM27 1h1v1h-1zM50 1h1v1h-1zM105 1h1v1h-1zM11 18h1v1h-1zM41 18h1v1h-1zM76 18h1v1h-1zM10 20h1v1h-1zM113 61h1v1h-1z"/>
<path fill="#a074ff" d="M37 3h1v1h-1zM120 3h1v1h-1zM44 7h1v1h-1zM48 7h1v1h-1zM100 9h1v1h-1zM105 9h1v1h-1zM8 11h1v1h-1zM24 11h1v1h-1zM18 13h1v1h-1zM54 15h1v1h-1zM102 17h1v1h-1zM29 21h1v1h-1zM75 21h1v1h-1zM116 21h1v1h-1zM74 30h1v1h-1zM92 30h1v1h-1zM39 31h1v1h-1zM121 31h1v1h-1zM7 33h1v1h-1zM28 33h1v1h-1zM100 33h1v1h-1zM29 36h1v1h-1zM73 36h1v1h-1zM42 37h1v1h-1zM51 37h1v1h-1zM53 38h1v1h-1zM19 54h1v1h-1zM38 54h1v1h-1zM74 54h1v1h-1zM85 54h1v1h-1zM97 54h1v1h-1zM114 54h1v1h-1zM118 54h1v1h-1zM46 56h2v1h-2zM117 56h1v1h-1zM63 57h1v1h-1zM91 57h1v1h-1zM10 60h1v1h-1zM68 60h1v1h-1zM112 60h1v1h-1zM122 60h1v1h-1zM41 61h1v1h-1zM82 61h1v1h-1zM89 61h1v1h-1z"/>
<path fill="#aa80ff" d="M0 1h2v1h-2zM11 1h1v1h-1zM18 1h1v1h-1zM30 1h2v1h-2zM36 1h1v1h-1zM41 1h1v1h-1zM43 1h2v1h-2zM53 1h2v1h-2zM62 1h1v1h-1zM65 1h1v1h-1zM90 1h1v1h-1zM97 1h2v1h-2zM103 1h2v1h-2zM115 1h1v1h-1zM0 2h1v1h-1zM2 2h1v1h-1zM4 2h1v1h-1zM9 2h2v1h-2zM16 2h1v1h-1zM21 2h1v1h-1zM23 2h5v1h-5zM31 2h1v1h-1zM44 2h2v1h-2zM53 2h2v1h-2zM57 2h1v1h-1zM63 2h1v1h-1zM66 2h1v1h-1zM75 2h1v1h-1zM77 2h1v1h-1zM91 2h1v1h-1zM96 2h1v1h-1zM100 2h1v1h-1zM105 2h1v1h-1zM112 2h3v1h-3zM119 2h1v1h-1zM6 3h1v1h-1zM40 3h1v1h-1zM47 3h1v1h-1zM56 3h1v1h-1zM81 3h1v1h-1zM86 3h1v1h-1zM92 3h1v1h-1zM113 3h1v1h-1zM118 3h1v1h-1zM5 6h1v1h-1zM8 6h1v1h-1zM12 6h1v1h-1zM19 6h1v1h-1zM25 6h1v1h-1zM27 6h1v1h-1zM34 6h1v1h-1zM50 6h1v1h-1zM55 6h1v1h-1zM57 6h2v1h-2zM62 6h1v1h-1zM65 6h1v1h-1zM69 6h2v1h-2zM80 6h1v1h-1zM82 6h1v1h-1zM96 6h1v1h-1zM99 6h1v1h-1zM105 6h1v1h-1zM107 6h1v1h-1zM121 6h2v1h-2zM0 7h1v1h-1zM9 7h1v1h-1zM33 7h1v1h-1zM66 7h1v1h-1zM80 7h1v1h-1zM82 7h1v1h-1zM93 7h1v1h-1zM99 7h1v1h-1zM104 7h1v1h-1zM114 7h1v1h-1zM3 9h3v1h-3zM19 9h1v1h-1zM76 9h1v1h-1zM82 9h1v1h-1zM86 9h1v1h-1zM90 9h1v1h-1zM97 9h1v1h-1zM23 11h1v1h-1zM27 11h1v1h-1zM42 11h2v1h-2zM45 11h1v1h-1zM61 11h2v1h-2zM78 11h1v1h-1zM104 11h1v1h-1zM111 11h1v1h-1zM118 11h1v1h-1zM6 13h1v1h-1zM32 13h1v1h-1zM89 13h1v1h-1zM93 13h2v1h-2zM104 13h1v1h-1zM106 13h1v1h-1zM118 13h1v1h-1zM121 13h1v1h-1zM4 14h1v1h-1zM8 14h2v1h-2zM18 14h1v1h-1zM25 14h1v1h-1zM33 14h1v1h-1zM43 14h1v1h-1zM45 14h2v1h-2zM48 14h1v1h-1zM51 14h1v1h-1zM58 14h1v1h-1zM64 14h1v1h-1zM71 14h1v1h-1zM85 14h1v1h-1zM87 14h1v1h-1zM89 14h2v1h-2zM92 14h2v1h-2zM95 14h1v1h-1zM104 14h3v1h-3zM109 14h1v1h-1zM113 14h1v1h-1zM7 15h1v1h-1zM15 15h1v1h-1zM29 15h1v1h-1zM49 15h1v1h-1zM74 15h1v1h-1zM83 15h2v1h-2zM92 15h2v1h-2zM41 17h1v1h-1zM90 17h1v1h-1zM101 17h1v1h-1zM110 17h1v1h-1zM14 18h1v1h-1zM16 18h1v1h-1zM19 18h1v1h-1zM30 18h1v1h-1zM32 18h1v1h-1zM34 18h1v1h-1zM37 18h1v1h-1zM40 18h1v1h-1zM42 18h1v1h-1zM60 18h1v1h-1zM62 18h3v1h-3zM78 18h2v1h-2zM82 18h1v1h-1zM86 18h1v1h-1zM104 18h1v1h-1zM112 18h3v1h-3zM0 20h2v1h-2zM17 20h1v1h-1zM21 20h1v1h-1zM29 20h1v1h-1zM35 20h2v1h-2zM38 20h1v1h-1zM46 20h1v1h-1zM59 20h1v1h-1zM64 20h1v1h-1zM68 20h1v1h-1zM82 20h3v1h-3zM91 20h1v1h-1zM96 20h2v1h-2zM99 20h1v1h-1zM105 20h1v1h-1zM114 20h2v1h-2zM92 21h1v1h-1zM4 28h1v1h-1zM12 28h1v1h-1zM15 28h2v1h-2zM18 28h1v1h-1zM20 28h1v1h-1zM23 28h1v1h-1zM28 28h1v1h-1zM31 28h2v1h-2zM35 28h1v1h-1zM46 28h1v1h-1zM53 28h2v1h-2zM59 28h1v1h-1zM62 28h1v1h-1zM64 28h2v1h-2zM85 28h2v1h-2zM94 28h1v1h-1zM96 28h2v1h-2zM106 28h1v1h-1zM108 28h3v1h-3zM113 28h2v1h-2zM118 28h1v1h-1zM31 29h1v1h-1zM77 29h1v1h-1zM7 30h1v1h-1zM28 30h1v1h-1zM33 30h2v1h-2zM63 30h1v1h-1zM83 30h1v1h-1zM91 30h1v1h-1zM103 30h3v1h-3zM7 32h1v1h-1zM101 32h1v1h-1zM17 33h1v1h-1zM38 33h1v1h-1zM49 33h1v1h-1zM55 33h1v1h-1zM59 33h1v1h-1zM70 33h1v1h-1zM72 33h1v1h-1zM3 36h1v1h-1zM7 36h1v1h-1zM30 36h1v1h-1zM37 36h1v1h-1zM81 36h1v1h-1zM83 36h1v1h-1zM74 37h2v1h-2zM110 37h1v1h-1zM10 38h1v1h-1zM42 38h2v1h-2zM45 38h1v1h-1zM66 38h1v1h-1zM91 38h1v1h-1zM0 54h1v1h-1zM11 54h1v1h-1zM14 54h2v1h-2zM17 54h1v1h-1zM22 54h1v1h-1zM26 54h1v1h-1zM30 54h2v1h-2zM34 54h2v1h-2zM44 54h1v1h-1zM59 54h1v1h-1zM81 54h1v1h-1zM89 54h1v1h-1zM96 54h1v1h-1zM102 54h1v1h-1zM112 54h2v1h-2zM4 56h1v1h-1zM15 56h2v1h-2zM73 56h1v1h-1zM75 56h1v1h-1zM82 56h1v1h-1zM12 57h1v1h-1zM15 57h1v1h-1zM17 57h1v1h-1zM20 57h1v1h-1zM27 57h2v1h-2zM48 57h1v1h-1zM73 57h1v1h-1zM90 57h1v1h-1zM92 57h1v1h-1zM118 57h1v1h-1zM28 60h1v1h-1zM84 60h1v1h-1zM99 60h1v1h-1zM15 61h1v1h-1zM81 61h1v1h-1z"/>
<path fill="#b38bff" d="M2 1h1v1h-1zM4 1h3v1h-3zM19 1h2v1h-2zM25 1h2v1h-2zM28 1h2v1h-2zM34 1h2v1h-2zM40 1h1v1h-1zM42 1h1v1h-1zM52 1h1v1h-1zM55 1h2v1h-2zM60 1h2v1h-2zM85 1h1v1h-1zM93 1h3v1h-3zM106 1h2v1h-2zM114 1h1v1h-1zM116 1h1v1h-1zM120 1h2v1h-2zM1 2h1v1h-1zM3 2h1v1h-1zM6 2h1v1h-1zM14 2h1v1h-1zM22 2h1v1h-1zM28 2h1v1h-1zM32 2h3v1h-3zM37 2h4v1h-4zM43 2h1v1h-1zM48 2h2v1h-2zM51 2h2v1h-2zM55 2h2v1h-2zM58 2h1v1h-1zM60 2h3v1h-3zM64 2h2v1h-2zM71 2h1v1h-1zM74 2h1v1h-1zM78 2h1v1h-1zM86 2h1v1h-1zM88 2h1v1h-1zM92 2h3v1h-3zM99 2h1v1h-1zM101 2h1v1h-1zM103 2h2v1h-2zM106 2h1v1h-1zM108 2h1v1h-1zM110 2h2v1h-2zM115 2h1v1h-1zM117 2h2v1h-2zM120 2h1v1h-1zM122 2h1v1h-1zM16 3h4v1h-4zM26 3h1v1h-1zM28 3h1v1h-1zM43 3h1v1h-1zM52 3h1v1h-1zM61 3h1v1h-1zM6 6h2v1h-2zM11 6h1v1h-1zM15 6h2v1h-2zM21 6h1v1h-1zM24 6h1v1h-1zM28 6h1v1h-1zM39 6h1v1h-1zM48 6h2v1h-2zM52 6h1v1h-1zM56 6h1v1h-1zM59 6h1v1h-1zM64 6h1v1h-1zM74 6h2v1h-2zM79 6h1v1h-1zM83 6h4v1h-4zM90 6h1v1h-1zM95 6h1v1h-1zM97 6h1v1h-1zM101 6h4v1h-4zM106 6h1v1h-1zM110 6h2v1h-2zM113 6h1v1h-1zM4 7h1v1h-1zM29 7h1v1h-1zM35 7h1v1h-1zM64 7h1v1h-1zM73 7h1v1h-1zM108 7h1v1h-1zM122 7h1v1h-1zM0 9h1v1h-1zM41 9h1v1h-1zM49 9h3v1h-3zM56 9h1v1h-1zM69 9h1v1h-1zM93 9h1v1h-1zM107 9h1v1h-1zM3 11h1v1h-1zM10 11h1v1h-1zM22 11h1v1h-1zM56 11h1v1h-1zM71 11h1v1h-1zM73 11h1v1h-1zM79 11h1v1h-1zM82 11h1v1h-1zM94 11h1v1h-1zM102 11h1v1h-1zM0 13h1v1h-1zM33 13h1v1h-1zM54 13h1v1h-1zM57 13h1v1h-1zM90 13h1v1h-1zM95 13h1v1h-1zM105 13h1v1h-1zM115 13h1v1h-1zM3 14h1v1h-1zM5 14h1v1h-1zM7 14h1v1h-1zM10 14h2v1h-2zM13 14h1v1h-1zM17 14h1v1h-1zM26 14h1v1h-1zM30 14h1v1h-1zM40 14h1v1h-1zM44 14h1v1h-1zM52 14h3v1h-3zM57 14h1v1h-1zM59 14h1v1h-1zM65 14h1v1h-1zM83 14h2v1h-2zM86 14h1v1h-1zM103 14h1v1h-1zM107 14h2v1h-2zM111 14h1v1h-1zM114 14h3v1h-3zM120 14h2v1h-2zM23 15h1v1h-1zM28 15h1v1h-1zM78 15h1v1h-1zM105 15h1v1h-1zM0 18h3v1h-3zM12 18h1v1h-1zM15 18h1v1h-1zM31 18h1v1h-1zM46 18h1v1h-1zM49 18h1v1h-1zM53 18h3v1h-3zM61 18h1v1h-1zM65 18h1v1h-1zM68 18h3v1h-3zM72 18h1v1h-1zM75 18h1v1h-1zM77 18h1v1h-1zM83 18h3v1h-3zM94 18h1v1h-1zM97 18h1v1h-1zM100 18h2v1h-2zM103 18h1v1h-1zM111 18h1v1h-1zM115 18h3v1h-3zM121 18h2v1h-2zM2 20h2v1h-2zM5 20h1v1h-1zM9 20h1v1h-1zM12 20h1v1h-1zM15 20h1v1h-1zM22 20h2v1h-2zM25 20h2v1h-2zM28 20h1v1h-1zM30 20h1v1h-1zM40 20h1v1h-1zM47 20h1v1h-1zM60 20h1v1h-1zM70 20h1v1h-1zM86 20h1v1h-1zM88 20h1v1h-1zM90 20h1v1h-1zM103 20h1v1h-1zM110 20h1v1h-1zM3 21h1v1h-1zM41 21h1v1h-1zM43 21h1v1h-1zM51 21h3v1h-3zM87 21h1v1h-1zM93 21h1v1h-1zM96 21h2v1h-2zM105 21h1v1h-1zM110 21h1v1h-1zM118 21h1v1h-1zM3 28h1v1h-1zM13 28h1v1h-1zM17 28h1v1h-1zM22 28h1v1h-1zM24 28h1v1h-1zM29 28h2v1h-2zM33 28h1v1h-1zM37 28h7v1h-7zM47 28h1v1h-1zM55 28h1v1h-1zM60 28h1v1h-1zM63 28h1v1h-1zM66 28h2v1h-2zM69 28h1v1h-1zM72 28h1v1h-1zM75 28h1v1h-1zM82 28h1v1h-1zM90 28h2v1h-2zM95 28h1v1h-1zM98 28h1v1h-1zM105 28h1v1h-1zM107 28h1v1h-1zM111 28h2v1h-2zM115 28h1v1h-1zM117 28h1v1h-1zM120 28h2v1h-2zM33 29h1v1h-1zM35 29h1v1h-1zM81 29h1v1h-1zM6 30h1v1h-1zM9 30h1v1h-1zM36 30h2v1h-2zM49 30h1v1h-1zM58 30h1v1h-1zM64 30h1v1h-1zM85 30h1v1h-1zM7 31h1v1h-1zM51 31h1v1h-1zM76 31h1v1h-1zM98 31h1v1h-1zM5 32h1v1h-1zM21 32h1v1h-1zM30 33h1v1h-1zM37 33h1v1h-1zM46 33h1v1h-1zM54 33h1v1h-1zM64 33h1v1h-1zM84 33h3v1h-3zM90 33h1v1h-1zM94 33h1v1h-1zM35 36h1v1h-1zM59 36h1v1h-1zM79 36h1v1h-1zM106 36h1v1h-1zM115 36h1v1h-1zM89 37h1v1h-1zM103 37h2v1h-2zM3 38h1v1h-1zM11 38h1v1h-1zM15 38h1v1h-1zM35 38h1v1h-1zM44 38h1v1h-1zM67 38h2v1h-2zM81 38h1v1h-1zM113 38h1v1h-1zM3 54h1v1h-1zM21 54h1v1h-1zM33 54h1v1h-1zM43 54h1v1h-1zM47 54h1v1h-1zM73 54h1v1h-1zM110 54h1v1h-1zM116 54h1v1h-1zM42 56h1v1h-1zM81 56h1v1h-1zM95 56h1v1h-1zM11 57h1v1h-1zM18 57h1v1h-1zM29 57h1v1h-1zM68 57h1v1h-1zM99 57h1v1h-1zM9 60h1v1h-1zM36 60h1v1h-1zM57 60h2v1h-2zM69 60h1v1h-1zM74 60h1v1h-1zM85 60h1v1h-1zM90 60h1v1h-1zM93 60h1v1h-1zM102 60h2v1h-2zM119 60h2v1h-2zM4 61h1v1h-1z"/>
<path fill="#bc97ff" d="M48 3h2v1h-2zM5 7h1v1h-1zM65 7h1v1h-1zM67 9h1v1h-1zM96 9h1v1h-1zM106 9h1v1h-1zM44 11h1v1h-1zM53 11h1v1h-1zM106 11h1v1h-1zM115 11h1v1h-1zM52 13h1v1h-1zM103 13h1v1h-1zM119 13h1v1h-1zM9 15h1v1h-1zM64 15h1v1h-1zM110 15h1v1h-1zM14 21h1v1h-1zM117 21h1v1h-1zM3 29h1v1h-1zM80 29h1v1h-1zM84 29h1v1h-1zM107 29h1v1h-1zM116 29h1v1h-1zM8 30h1v1h-1zM10 30h1v1h-1zM25 30h1v1h-1zM68 30h1v1h-1zM86 30h1v1h-1zM88 32h1v1h-1zM18 33h1v1h-1zM58 33h1v1h-1zM71 33h1v1h-1zM105 33h1v1h-1zM119 33h1v1h-1zM122 33h1v1h-1zM10 36h1v1h-1zM28 36h1v1h-1zM40 36h1v1h-1zM89 36h1v1h-1zM50 37h1v1h-1zM6 38h1v1h-1zM122 38h1v1h-1zM28 54h1v1h-1zM111 54h1v1h-1zM38 56h1v1h-1zM36 57h1v1h-1zM47 57h1v1h-1zM72 57h1v1h-1zM11 60h1v1h-1zM27 60h1v1h-1zM29 60h1v1h-1zM79 60h1v1h-1zM104 60h1v1h-1z"/>
<path fill="#c4a2ff" d="M69 1h1v1h-1zM82 1h1v1h-1zM80 2h1v1h-1zM118 6h1v1h-1zM48 13h1v1h-1zM19 14h1v1h-1zM100 14h1v1h-1zM12 30h1v1h-1zM67 36h1v1h-1zM24 56h1v1h-1zM16 61h1v1h-1z"/>
<path fill="#ccadff" d="M2 0h1v1h-1zM9 0h1v1h-1zM15 0h1v1h-1zM23 0h1v1h-1zM28 0h1v1h-1zM32 0h1v1h-1zM35 0h3v1h-3zM41 0h2v1h-2zM44 0h1v1h-1zM54 0h1v1h-1zM62 0h1v1h-1zM65 0h1v1h-1zM70 0h1v1h-1zM77 0h1v1h-1zM85 0h2v1h-2zM95 0h1v1h-1zM101 0h1v1h-1zM104 0h1v1h-1zM107 0h1v1h-1zM114 0h2v1h-2zM122 0h1v1h-1zM81 1h1v1h-1zM11 2h1v1h-1zM29 2h1v1h-1zM36 2h1v1h-1zM69 2h1v1h-1zM73 2h1v1h-1zM81 2h2v1h-2zM15 3h1v1h-1zM31 3h1v1h-1zM55 3h1v1h-1zM63 3h1v1h-1zM71 3h1v1h-1zM104 3h1v1h-1zM108 3h1v1h-1zM122 3h1v1h-1zM9 4h1v1h-1zM13 4h5v1h-5zM22 4h1v1h-1zM29 4h1v1h-1zM46 4h1v1h-1zM69 4h1v1h-1zM71 4h2v1h-2zM76 4h1v1h-1zM81 4h1v1h-1zM83 4h1v1h-1zM90 4h1v1h-1zM92 4h2v1h-2zM106 4h1v1h-1zM110 4h3v1h-3zM0 6h1v1h-1zM20 6h1v1h-1zM29 6h1v1h-1zM46 6h2v1h-2zM71 6h1v1h-1zM81 6h1v1h-1zM94 6h1v1h-1zM7 7h1v1h-1zM14 7h1v1h-1zM16 7h1v1h-1zM32 7h1v1h-1zM37 7h2v1h-2zM42 7h1v1h-1zM52 7h1v1h-1zM92 7h1v1h-1zM107 7h1v1h-1zM113 7h1v1h-1zM22 8h1v1h-1zM26 8h1v1h-1zM29 8h1v1h-1zM35 8h1v1h-1zM37 8h1v1h-1zM40 8h1v1h-1zM47 8h1v1h-1zM51 8h1v1h-1zM57 8h4v1h-4zM62 8h1v1h-1zM64 8h1v1h-1zM71 8h1v1h-1zM75 8h1v1h-1zM84 8h2v1h-2zM91 8h1v1h-1zM93 8h1v1h-1zM96 8h2v1h-2zM110 8h1v1h-1zM113 8h1v1h-1zM120 8h1v1h-1zM1 9h1v1h-1zM16 9h1v1h-1zM26 9h1v1h-1zM35 9h1v1h-1zM37 9h1v1h-1zM42 9h1v1h-1zM46 9h1v1h-1zM70 9h1v1h-1zM88 9h1v1h-1zM98 9h1v1h-1zM0 10h1v1h-1zM2 10h1v1h-1zM29 10h2v1h-2zM32 10h1v1h-1zM34 10h2v1h-2zM37 10h1v1h-1zM39 10h1v1h-1zM41 10h1v1h-1zM44 10h1v1h-1zM46 10h1v1h-1zM60 10h1v1h-1zM69 10h1v1h-1zM75 10h1v1h-1zM78 10h1v1h-1zM80 10h1v1h-1zM88 10h1v1h-1zM92 10h1v1h-1zM98 10h1v1h-1zM105 10h1v1h-1zM109 10h1v1h-1zM117 10h2v1h-2zM19 11h1v1h-1zM7 13h1v1h-1zM41 13h1v1h-1zM47 13h1v1h-1zM49 13h1v1h-1zM58 13h1v1h-1zM69 13h2v1h-2zM88 13h1v1h-1zM1 14h1v1h-1zM35 14h1v1h-1zM41 14h1v1h-1zM60 14h1v1h-1zM72 14h1v1h-1zM91 14h1v1h-1zM1 15h1v1h-1zM21 15h2v1h-2zM51 15h1v1h-1zM55 15h1v1h-1zM101 15h1v1h-1zM0 17h1v1h-1zM2 17h1v1h-1zM7 17h1v1h-1zM11 17h2v1h-2zM21 17h1v1h-1zM23 17h1v1h-1zM28 17h1v1h-1zM31 17h1v1h-1zM38 17h1v1h-1zM55 17h1v1h-1zM73 17h1v1h-1zM78 17h1v1h-1zM80 17h1v1h-1zM99 17h1v1h-1zM109 17h1v1h-1zM112 17h1v1h-1zM116 17h1v1h-1zM122 17h1v1h-1zM4 18h1v1h-1zM48 18h1v1h-1zM93 18h1v1h-1zM98 18h1v1h-1zM14 20h1v1h-1zM12 21h1v1h-1zM59 21h1v1h-1zM2 22h2v1h-2zM7 22h1v1h-1zM16 22h1v1h-1zM18 22h1v1h-1zM26 22h2v1h-2zM37 22h1v1h-1zM39 22h1v1h-1zM46 22h1v1h-1zM49 22h1v1h-1zM53 22h1v1h-1zM55 22h1v1h-1zM57 22h1v1h-1zM84 22h1v1h-1zM93 22h1v1h-1zM109 22h1v1h-1zM122 22h1v1h-1zM53 23h1v1h-1zM56 23h1v1h-1zM60 23h1v1h-1zM66 23h1v1h-1zM69 23h1v1h-1zM74 23h2v1h-2zM78 23h1v1h-1zM90 23h2v1h-2zM94 23h2v1h-2zM99 23h1v1h-1zM102 23h1v1h-1zM107 23h1v1h-1zM114 23h1v1h-1zM2 27h1v1h-1zM14 27h1v1h-1zM20 27h3v1h-3zM25 27h2v1h-2zM32 27h1v1h-1zM34 27h1v1h-1zM37 27h1v1h-1zM42 27h2v1h-2zM45 27h2v1h-2zM56 27h1v1h-1zM61 27h1v1h-1zM68 27h1v1h-1zM71 27h1v1h-1zM77 27h1v1h-1zM79 27h1v1h-1zM82 27h1v1h-1zM90 27h1v1h-1zM97 27h1v1h-1zM100 27h2v1h-2zM105 27h1v1h-1zM112 27h2v1h-2zM115 27h1v1h-1zM120 27h2v1h-2zM27 28h1v1h-1zM68 28h1v1h-1zM87 28h1v1h-1zM92 28h1v1h-1zM7 29h1v1h-1zM17 29h1v1h-1zM57 29h1v1h-1zM76 29h1v1h-1zM110 29h1v1h-1zM16 30h1v1h-1zM21 30h1v1h-1zM27 30h1v1h-1zM96 30h2v1h-2zM41 31h1v1h-1zM78 31h1v1h-1zM110 31h1v1h-1zM3 32h1v1h-1zM27 32h1v1h-1zM33 32h1v1h-1zM36 32h2v1h-2zM39 32h2v1h-2zM43 32h2v1h-2zM48 32h1v1h-1zM52 32h1v1h-1zM57 32h1v1h-1zM59 32h1v1h-1zM62 32h1v1h-1zM79 32h1v1h-1zM102 32h1v1h-1zM105 32h1v1h-1zM108 32h1v1h-1zM10 33h1v1h-1zM16 33h1v1h-1zM29 33h1v1h-1zM32 33h1v1h-1zM53 33h1v1h-1zM60 33h1v1h-1zM116 33h1v1h-1zM18 36h1v1h-1zM31 36h1v1h-1zM39 36h1v1h-1zM44 36h1v1h-1zM49 36h1v1h-1zM1 37h1v1h-1zM10 37h2v1h-2zM15 37h1v1h-1zM24 37h1v1h-1zM26 37h1v1h-1zM37 37h1v1h-1zM53 37h1v1h-1zM55 37h1v1h-1zM86 37h2v1h-2zM101 37h1v1h-1zM112 37h1v1h-1zM49 38h1v1h-1zM106 38h1v1h-1zM5 41h1v1h-1zM8 41h1v1h-1zM21 41h1v1h-1zM32 41h1v1h-1zM40 41h2v1h-2zM49 41h1v1h-1zM54 41h1v1h-1zM59 41h2v1h-2zM63 41h1v1h-1zM69 41h1v1h-1zM71 41h2v1h-2zM88 41h1v1h-1zM93 41h1v1h-1zM98 41h1v1h-1zM104 41h1v1h-1zM107 41h1v1h-1zM111 41h1v1h-1zM113 41h1v1h-1zM117 41h1v1h-1zM0 43h1v1h-1zM4 43h1v1h-1zM8 43h1v1h-1zM17 43h1v1h-1zM19 43h1v1h-1zM28 43h1v1h-1zM31 43h2v1h-2zM34 43h1v1h-1zM43 43h1v1h-1zM51 43h1v1h-1zM54 43h1v1h-1zM57 43h1v1h-1zM66 43h1v1h-1zM72 43h1v1h-1zM81 43h1v1h-1zM84 43h1v1h-1zM86 43h3v1h-3zM95 43h1v1h-1zM102 43h2v1h-2zM107 43h1v1h-1zM110 43h3v1h-3zM119 43h1v1h-1zM0 49h1v1h-1zM2 49h2v1h-2zM22 49h1v1h-1zM25 49h1v1h-1zM33 49h1v1h-1zM38 49h1v1h-1zM45 49h1v1h-1zM63 49h1v1h-1zM66 49h1v1h-1zM70 49h1v1h-1zM77 49h1v1h-1zM80 49h1v1h-1zM82 49h1v1h-1zM88 49h1v1h-1zM97 49h1v1h-1zM105 49h1v1h-1zM107 49h1v1h-1zM120 49h1v1h-1zM122 49h1v1h-1zM11 50h1v1h-1zM19 50h1v1h-1zM21 50h1v1h-1zM28 50h1v1h-1zM31 50h1v1h-1zM38 50h1v1h-1zM41 50h2v1h-2zM54 50h1v1h-1zM64 50h1v1h-1zM70 50h1v1h-1zM78 50h2v1h-2zM81 50h1v1h-1zM85 50h2v1h-2zM89 50h1v1h-1zM110 50h1v1h-1zM115 50h1v1h-1zM119 50h3v1h-3zM29 54h1v1h-1zM57 54h1v1h-1zM76 54h1v1h-1zM80 54h1v1h-1zM104 54h1v1h-1zM121 54h1v1h-1zM10 56h2v1h-2zM17 56h1v1h-1zM69 57h2v1h-2zM1 58h1v1h-1zM8 58h1v1h-1zM17 58h1v1h-1zM25 58h1v1h-1zM35 58h2v1h-2zM46 58h1v1h-1zM53 58h1v1h-1zM64 58h1v1h-1zM71 58h1v1h-1zM75 58h1v1h-1zM84 58h2v1h-2zM96 58h1v1h-1zM114 58h1v1h-1zM119 58h1v1h-1zM121 58h2v1h-2zM3 59h1v1h-1zM59 59h1v1h-1zM73 59h1v1h-1zM75 59h2v1h-2zM79 59h1v1h-1zM82 59h1v1h-1zM85 59h1v1h-1zM93 59h1v1h-1zM98 59h1v1h-1zM104 59h2v1h-2zM109 59h1v1h-1zM116 59h1v1h-1zM4 60h2v1h-2zM8 60h1v1h-1zM17 60h1v1h-1zM33 60h1v1h-1zM43 60h1v1h-1zM19 61h1v1h-1zM65 61h1v1h-1zM118 61h1v1h-1z"/>
<path fill="#d4b9ff" d="M0 0h2v1h-2zM3 0h6v1h-6zM10 0h3v1h-3zM16 0h1v1h-1zM18 0h1v1h-1zM20 0h1v1h-1zM22 0h1v1h-1zM24 0h2v1h-2zM27 0h1v1h-1zM29 0h3v1h-3zM33 0h2v1h-2zM38 0h3v1h-3zM43 0h1v1h-1zM46 0h3v1h-3zM50 0h3v1h-3zM55 0h1v1h-1zM59 0h1v1h-1zM61 0h1v1h-1zM66 0h1v1h-1zM69 0h1v1h-1zM71 0h6v1h-6zM78 0h4v1h-4zM83 0h2v1h-2zM87 0h2v1h-2zM90 0h5v1h-5zM96 0h1v1h-1zM99 0h2v1h-2zM102 0h2v1h-2zM105 0h2v1h-2zM108 0h3v1h-3zM112 0h2v1h-2zM117 0h2v1h-2zM120 0h2v1h-2zM8 1h1v1h-1zM13 1h1v1h-1zM16 1h1v1h-1zM47 1h2v1h-2zM73 1h1v1h-1zM75 1h1v1h-1zM50 2h1v1h-1zM70 2h1v1h-1zM83 2h2v1h-2zM89 2h1v1h-1zM109 2h1v1h-1zM4 3h2v1h-2zM46 3h1v1h-1zM59 3h2v1h-2zM62 3h1v1h-1zM70 3h1v1h-1zM73 3h1v1h-1zM76 3h1v1h-1zM97 3h1v1h-1zM121 3h1v1h-1zM0 4h4v1h-4zM5 4h4v1h-4zM10 4h2v1h-2zM18 4h1v1h-1zM21 4h1v1h-1zM24 4h4v1h-4zM30 4h1v1h-1zM32 4h14v1h-14zM47 4h7v1h-7zM56 4h7v1h-7zM65 4h4v1h-4zM70 4h1v1h-1zM74 4h2v1h-2zM77 4h4v1h-4zM82 4h1v1h-1zM85 4h5v1h-5zM91 4h1v1h-1zM94 4h3v1h-3zM98 4h8v1h-8zM107 4h3v1h-3zM113 4h4v1h-4zM118 4h1v1h-1zM30 6h2v1h-2zM33 6h1v1h-1zM45 6h1v1h-1zM72 6h1v1h-1zM76 6h1v1h-1zM98 6h1v1h-1zM117 6h1v1h-1zM120 6h1v1h-1zM8 7h1v1h-1zM45 7h1v1h-1zM59 7h1v1h-1zM87 7h1v1h-1zM118 7h1v1h-1zM0 8h1v1h-1zM5 8h8v1h-8zM14 8h8v1h-8zM23 8h3v1h-3zM27 8h2v1h-2zM30 8h5v1h-5zM36 8h1v1h-1zM39 8h1v1h-1zM42 8h1v1h-1zM44 8h1v1h-1zM48 8h3v1h-3zM52 8h2v1h-2zM55 8h2v1h-2zM61 8h1v1h-1zM63 8h1v1h-1zM65 8h6v1h-6zM72 8h1v1h-1zM74 8h1v1h-1zM78 8h6v1h-6zM87 8h1v1h-1zM89 8h2v1h-2zM92 8h1v1h-1zM95 8h1v1h-1zM98 8h3v1h-3zM103 8h1v1h-1zM105 8h5v1h-5zM111 8h1v1h-1zM115 8h4v1h-4zM122 8h1v1h-1zM13 9h1v1h-1zM17 9h1v1h-1zM103 9h1v1h-1zM114 9h2v1h-2zM118 9h1v1h-1zM3 10h2v1h-2zM8 10h3v1h-3zM13 10h3v1h-3zM18 10h2v1h-2zM22 10h3v1h-3zM26 10h3v1h-3zM31 10h1v1h-1zM33 10h1v1h-1zM36 10h1v1h-1zM38 10h1v1h-1zM40 10h1v1h-1zM42 10h2v1h-2zM45 10h1v1h-1zM47 10h7v1h-7zM55 10h1v1h-1zM57 10h3v1h-3zM61 10h6v1h-6zM68 10h1v1h-1zM70 10h1v1h-1zM72 10h3v1h-3zM76 10h2v1h-2zM79 10h1v1h-1zM81 10h2v1h-2zM84 10h1v1h-1zM89 10h1v1h-1zM93 10h5v1h-5zM99 10h5v1h-5zM106 10h3v1h-3zM110 10h1v1h-1zM116 10h1v1h-1zM119 10h4v1h-4zM36 11h2v1h-2zM70 11h1v1h-1zM105 11h1v1h-1zM15 13h1v1h-1zM20 13h2v1h-2zM28 13h1v1h-1zM37 13h1v1h-1zM60 13h1v1h-1zM66 13h1v1h-1zM68 13h1v1h-1zM75 13h1v1h-1zM108 13h1v1h-1zM6 14h1v1h-1zM37 14h1v1h-1zM42 14h1v1h-1zM50 14h1v1h-1zM74 14h1v1h-1zM98 14h1v1h-1zM110 14h1v1h-1zM3 15h3v1h-3zM12 15h2v1h-2zM16 15h5v1h-5zM24 15h1v1h-1zM30 15h1v1h-1zM33 15h2v1h-2zM39 15h2v1h-2zM48 15h1v1h-1zM56 15h3v1h-3zM62 15h2v1h-2zM66 15h1v1h-1zM73 15h1v1h-1zM76 15h1v1h-1zM79 15h2v1h-2zM82 15h1v1h-1zM87 15h2v1h-2zM90 15h1v1h-1zM97 15h1v1h-1zM99 15h2v1h-2zM102 15h3v1h-3zM106 15h2v1h-2zM111 15h4v1h-4zM116 15h1v1h-1zM1 17h1v1h-1zM3 17h2v1h-2zM6 17h1v1h-1zM8 17h3v1h-3zM13 17h1v1h-1zM17 17h4v1h-4zM24 17h4v1h-4zM29 17h2v1h-2zM34 17h4v1h-4zM42 17h2v1h-2zM45 17h2v1h-2zM48 17h1v1h-1zM51 17h4v1h-4zM56 17h1v1h-1zM62 17h1v1h-1zM64 17h1v1h-1zM67 17h1v1h-1zM69 17h1v1h-1zM75 17h1v1h-1zM81 17h1v1h-1zM83 17h4v1h-4zM88 17h2v1h-2zM91 17h3v1h-3zM96 17h2v1h-2zM103 17h4v1h-4zM108 17h1v1h-1zM111 17h1v1h-1zM113 17h1v1h-1zM115 17h1v1h-1zM121 17h1v1h-1zM3 18h1v1h-1zM47 18h1v1h-1zM88 18h1v1h-1zM99 18h1v1h-1zM27 20h1v1h-1zM48 20h1v1h-1zM95 20h1v1h-1zM109 20h1v1h-1zM11 21h1v1h-1zM72 21h1v1h-1zM4 22h3v1h-3zM11 22h1v1h-1zM17 22h1v1h-1zM21 22h2v1h-2zM28 22h1v1h-1zM30 22h3v1h-3zM35 22h1v1h-1zM38 22h1v1h-1zM40 22h4v1h-4zM45 22h1v1h-1zM47 22h2v1h-2zM50 22h2v1h-2zM56 22h1v1h-1zM60 22h2v1h-2zM67 22h2v1h-2zM72 22h2v1h-2zM75 22h1v1h-1zM77 22h2v1h-2zM80 22h3v1h-3zM85 22h3v1h-3zM90 22h1v1h-1zM97 22h7v1h-7zM106 22h1v1h-1zM108 22h1v1h-1zM114 22h1v1h-1zM117 22h1v1h-1zM121 22h1v1h-1zM1 23h5v1h-5zM9 23h3v1h-3zM14 23h7v1h-7zM22 23h1v1h-1zM25 23h1v1h-1zM29 23h3v1h-3zM34 23h2v1h-2zM38 23h2v1h-2zM42 23h3v1h-3zM49 23h1v1h-1zM51 23h1v1h-1zM54 23h2v1h-2zM57 23h3v1h-3zM61 23h1v1h-1zM63 23h1v1h-1zM68 23h1v1h-1zM71 23h1v1h-1zM73 23h1v1h-1zM80 23h2v1h-2zM86 23h3v1h-3zM92 23h2v1h-2zM101 23h1v1h-1zM103 23h1v1h-1zM105 23h2v1h-2zM115 23h1v1h-1zM117 23h2v1h-2zM121 23h2v1h-2zM1 27h1v1h-1zM3 27h9v1h-9zM15 27h4v1h-4zM23 27h2v1h-2zM27 27h1v1h-1zM29 27h3v1h-3zM33 27h1v1h-1zM35 27h2v1h-2zM38 27h4v1h-4zM44 27h1v1h-1zM50 27h5v1h-5zM62 27h1v1h-1zM64 27h1v1h-1zM66 27h2v1h-2zM70 27h1v1h-1zM72 27h5v1h-5zM78 27h1v1h-1zM80 27h2v1h-2zM83 27h3v1h-3zM88 27h1v1h-1zM91 27h2v1h-2zM95 27h2v1h-2zM98 27h2v1h-2zM104 27h1v1h-1zM106 27h6v1h-6zM116 27h4v1h-4zM122 27h1v1h-1zM48 28h1v1h-1zM50 28h1v1h-1zM10 29h1v1h-1zM12 29h1v1h-1zM53 29h1v1h-1zM3 30h1v1h-1zM30 30h1v1h-1zM42 30h1v1h-1zM54 30h1v1h-1zM65 30h1v1h-1zM77 30h1v1h-1zM108 30h1v1h-1zM1 31h1v1h-1zM37 31h1v1h-1zM71 31h1v1h-1zM73 31h1v1h-1zM87 31h1v1h-1zM0 32h3v1h-3zM4 32h1v1h-1zM12 32h1v1h-1zM14 32h4v1h-4zM20 32h1v1h-1zM29 32h2v1h-2zM32 32h1v1h-1zM35 32h1v1h-1zM38 32h1v1h-1zM42 32h1v1h-1zM45 32h1v1h-1zM47 32h1v1h-1zM50 32h2v1h-2zM53 32h1v1h-1zM56 32h1v1h-1zM58 32h1v1h-1zM60 32h1v1h-1zM63 32h3v1h-3zM67 32h8v1h-8zM77 32h1v1h-1zM83 32h5v1h-5zM94 32h2v1h-2zM97 32h1v1h-1zM103 32h2v1h-2zM107 32h1v1h-1zM114 32h1v1h-1zM118 32h1v1h-1zM120 32h3v1h-3zM33 33h1v1h-1zM36 33h1v1h-1zM96 33h1v1h-1zM98 33h1v1h-1zM117 33h1v1h-1zM11 36h1v1h-1zM25 36h1v1h-1zM62 36h1v1h-1zM74 36h1v1h-1zM87 36h1v1h-1zM91 36h1v1h-1zM105 36h1v1h-1zM2 37h5v1h-5zM9 37h1v1h-1zM13 37h2v1h-2zM16 37h2v1h-2zM19 37h2v1h-2zM22 37h1v1h-1zM25 37h1v1h-1zM28 37h8v1h-8zM38 37h1v1h-1zM43 37h1v1h-1zM48 37h2v1h-2zM52 37h1v1h-1zM54 37h1v1h-1zM58 37h4v1h-4zM63 37h3v1h-3zM73 37h1v1h-1zM77 37h2v1h-2zM81 37h1v1h-1zM83 37h2v1h-2zM91 37h1v1h-1zM95 37h6v1h-6zM106 37h1v1h-1zM108 37h1v1h-1zM111 37h1v1h-1zM116 37h1v1h-1zM119 37h4v1h-4zM2 38h1v1h-1zM16 38h1v1h-1zM23 38h2v1h-2zM30 38h1v1h-1zM54 38h1v1h-1zM71 38h1v1h-1zM0 41h1v1h-1zM2 41h3v1h-3zM9 41h1v1h-1zM13 41h6v1h-6zM20 41h1v1h-1zM22 41h1v1h-1zM24 41h1v1h-1zM28 41h4v1h-4zM33 41h1v1h-1zM35 41h5v1h-5zM42 41h1v1h-1zM44 41h1v1h-1zM46 41h1v1h-1zM48 41h1v1h-1zM50 41h2v1h-2zM53 41h1v1h-1zM55 41h2v1h-2zM58 41h1v1h-1zM62 41h1v1h-1zM64 41h2v1h-2zM67 41h2v1h-2zM70 41h1v1h-1zM73 41h5v1h-5zM80 41h5v1h-5zM86 41h2v1h-2zM89 41h2v1h-2zM92 41h1v1h-1zM95 41h3v1h-3zM99 41h1v1h-1zM105 41h2v1h-2zM108 41h3v1h-3zM112 41h1v1h-1zM114 41h2v1h-2zM118 41h2v1h-2zM122 41h1v1h-1zM2 43h2v1h-2zM5 43h1v1h-1zM9 43h6v1h-6zM16 43h1v1h-1zM18 43h1v1h-1zM20 43h8v1h-8zM29 43h2v1h-2zM33 43h1v1h-1zM35 43h4v1h-4zM41 43h2v1h-2zM44 43h2v1h-2zM47 43h3v1h-3zM53 43h1v1h-1zM55 43h2v1h-2zM58 43h4v1h-4zM63 43h3v1h-3zM68 43h4v1h-4zM73 43h7v1h-7zM82 43h1v1h-1zM85 43h1v1h-1zM90 43h4v1h-4zM96 43h2v1h-2zM100 43h2v1h-2zM104 43h1v1h-1zM113 43h2v1h-2zM116 43h3v1h-3zM120 43h3v1h-3zM1 49h1v1h-1zM4 49h3v1h-3zM8 49h11v1h-11zM21 49h1v1h-1zM26 49h5v1h-5zM34 49h1v1h-1zM37 49h1v1h-1zM40 49h3v1h-3zM46 49h3v1h-3zM52 49h1v1h-1zM54 49h8v1h-8zM65 49h1v1h-1zM68 49h2v1h-2zM72 49h2v1h-2zM78 49h2v1h-2zM83 49h5v1h-5zM89 49h1v1h-1zM96 49h1v1h-1zM98 49h3v1h-3zM103 49h2v1h-2zM114 49h3v1h-3zM119 49h1v1h-1zM121 49h1v1h-1zM0 50h1v1h-1zM3 50h1v1h-1zM7 50h4v1h-4zM15 50h4v1h-4zM20 50h1v1h-1zM25 50h1v1h-1zM32 50h2v1h-2zM37 50h1v1h-1zM39 50h1v1h-1zM45 50h1v1h-1zM48 50h6v1h-6zM55 50h1v1h-1zM58 50h2v1h-2zM63 50h1v1h-1zM65 50h3v1h-3zM71 50h2v1h-2zM74 50h4v1h-4zM80 50h1v1h-1zM82 50h3v1h-3zM88 50h1v1h-1zM90 50h8v1h-8zM103 50h7v1h-7zM113 50h2v1h-2zM117 50h2v1h-2zM12 54h1v1h-1zM16 54h1v1h-1zM58 54h1v1h-1zM61 54h1v1h-1zM66 54h1v1h-1zM77 54h2v1h-2zM8 56h1v1h-1zM54 56h1v1h-1zM102 56h1v1h-1zM38 57h1v1h-1zM96 57h1v1h-1zM0 58h1v1h-1zM2 58h2v1h-2zM6 58h2v1h-2zM9 58h8v1h-8zM21 58h2v1h-2zM24 58h1v1h-1zM26 58h2v1h-2zM31 58h1v1h-1zM37 58h1v1h-1zM39 58h1v1h-1zM47 58h5v1h-5zM54 58h2v1h-2zM59 58h2v1h-2zM62 58h2v1h-2zM70 58h1v1h-1zM74 58h1v1h-1zM76 58h3v1h-3zM80 58h3v1h-3zM86 58h4v1h-4zM91 58h3v1h-3zM95 58h1v1h-1zM110 58h4v1h-4zM118 58h1v1h-1zM2 59h1v1h-1zM4 59h3v1h-3zM9 59h2v1h-2zM14 59h1v1h-1zM19 59h1v1h-1zM23 59h5v1h-5zM36 59h4v1h-4zM41 59h2v1h-2zM44 59h1v1h-1zM49 59h1v1h-1zM52 59h1v1h-1zM55 59h1v1h-1zM60 59h4v1h-4zM65 59h6v1h-6zM72 59h1v1h-1zM77 59h2v1h-2zM80 59h2v1h-2zM84 59h1v1h-1zM86 59h1v1h-1zM90 59h3v1h-3zM94 59h1v1h-1zM97 59h1v1h-1zM103 59h1v1h-1zM107 59h2v1h-2zM110 59h2v1h-2zM113 59h2v1h-2zM117 59h2v1h-2zM3 60h1v1h-1zM39 60h1v1h-1zM49 60h1v1h-1zM56 60h1v1h-1zM84 61h1v1h-1zM119 61h1v1h-1z"/>
<path fill="#dcc4ff" d="M33 1h1v1h-1zM76 1h1v1h-1zM83 1h1v1h-1zM17 2h1v1h-1zM67 2h1v1h-1zM95 2h1v1h-1zM84 3h2v1h-2zM94 3h1v1h-1zM1 6h1v1h-1zM61 6h1v1h-1zM68 6h1v1h-1zM88 6h1v1h-1zM119 6h1v1h-1zM17 7h1v1h-1zM25 7h1v1h-1zM91 7h1v1h-1zM117 7h1v1h-1zM29 9h1v1h-1zM47 9h1v1h-1zM116 9h1v1h-1zM119 9h1v1h-1zM39 11h1v1h-1zM72 11h1v1h-1zM110 11h1v1h-1zM45 13h1v1h-1zM71 13h2v1h-2zM0 14h1v1h-1zM20 14h2v1h-2zM32 14h1v1h-1zM38 14h1v1h-1zM55 14h2v1h-2zM73 14h1v1h-1zM76 14h1v1h-1zM108 18h1v1h-1zM120 18h1v1h-1zM41 20h1v1h-1zM43 20h1v1h-1zM74 20h1v1h-1zM98 20h1v1h-1zM118 20h1v1h-1zM27 21h1v1h-1zM57 28h1v1h-1zM84 28h1v1h-1zM119 28h1v1h-1zM122 28h1v1h-1zM0 29h1v1h-1zM49 29h1v1h-1zM22 30h1v1h-1zM13 31h1v1h-1zM60 31h1v1h-1zM70 31h1v1h-1zM72 31h1v1h-1zM97 31h1v1h-1zM100 31h1v1h-1zM95 33h1v1h-1zM63 36h1v1h-1zM97 36h2v1h-2zM120 36h1v1h-1zM28 38h1v1h-1zM31 38h1v1h-1zM92 38h1v1h-1zM41 54h1v1h-1zM100 54h1v1h-1zM111 56h1v1h-1zM115 56h1v1h-1zM37 57h1v1h-1zM18 60h1v1h-1z"/>
<path fill="#e3d0ff" d="M0 5h2v1h-2zM5 5h1v1h-1zM7 5h2v1h-2zM10 5h11v1h-11zM22 5h1v1h-1zM24 5h1v1h-1zM28 5h1v1h-1zM31 5h2v1h-2zM34 5h3v1h-3zM38 5h2v1h-2zM41 5h1v1h-1zM43 5h1v1h-1zM45 5h1v1h-1zM50 5h2v1h-2zM54 5h3v1h-3zM59 5h1v1h-1zM62 5h1v1h-1zM64 5h3v1h-3zM69 5h2v1h-2zM72 5h3v1h-3zM76 5h4v1h-4zM81 5h8v1h-8zM90 5h3v1h-3zM95 5h3v1h-3zM99 5h5v1h-5zM106 5h3v1h-3zM112 5h2v1h-2zM115 5h1v1h-1zM117 5h4v1h-4zM122 5h1v1h-1zM0 12h1v1h-1zM2 12h2v1h-2zM7 12h11v1h-11zM20 12h2v1h-2zM24 12h1v1h-1zM26 12h1v1h-1zM28 12h1v1h-1zM32 12h1v1h-1zM34 12h2v1h-2zM44 12h3v1h-3zM48 12h2v1h-2zM51 12h1v1h-1zM53 12h1v1h-1zM56 12h1v1h-1zM58 12h1v1h-1zM61 12h3v1h-3zM66 12h5v1h-5zM75 12h3v1h-3zM79 12h1v1h-1zM81 12h6v1h-6zM88 12h1v1h-1zM90 12h1v1h-1zM92 12h3v1h-3zM97 12h3v1h-3zM101 12h1v1h-1zM104 12h3v1h-3zM108 12h1v1h-1zM110 12h2v1h-2zM113 12h1v1h-1zM116 12h2v1h-2zM119 12h3v1h-3zM0 16h3v1h-3zM4 16h2v1h-2zM8 16h1v1h-1zM10 16h4v1h-4zM15 16h4v1h-4zM21 16h7v1h-7zM29 16h3v1h-3zM33 16h1v1h-1zM35 16h6v1h-6zM42 16h1v1h-1zM44 16h1v1h-1zM46 16h5v1h-5zM52 16h2v1h-2zM55 16h8v1h-8zM65 16h4v1h-4zM71 16h2v1h-2zM74 16h6v1h-6zM81 16h3v1h-3zM85 16h2v1h-2zM89 16h4v1h-4zM95 16h8v1h-8zM104 16h1v1h-1zM106 16h3v1h-3zM110 16h2v1h-2zM113 16h3v1h-3zM117 16h1v1h-1zM119 16h4v1h-4zM0 19h3v1h-3zM5 19h2v1h-2zM9 19h1v1h-1zM12 19h5v1h-5zM18 19h2v1h-2zM21 19h1v1h-1zM24 19h3v1h-3zM30 19h3v1h-3zM34 19h1v1h-1zM37 19h5v1h-5zM43 19h7v1h-7zM51 19h1v1h-1zM53 19h2v1h-2zM58 19h3v1h-3zM62 19h2v1h-2zM65 19h6v1h-6zM72 19h1v1h-1zM74 19h2v1h-2zM77 19h2v1h-2zM80 19h3v1h-3zM84 19h4v1h-4zM89 19h1v1h-1zM93 19h2v1h-2zM96 19h1v1h-1zM98 19h2v1h-2zM101 19h1v1h-1zM103 19h1v1h-1zM105 19h2v1h-2zM108 19h3v1h-3zM112 19h11v1h-11zM0 24h2v1h-2zM3 24h2v1h-2zM6 24h1v1h-1zM10 24h1v1h-1zM14 24h8v1h-8zM23 24h1v1h-1zM25 24h2v1h-2zM29 24h4v1h-4zM34 24h2v1h-2zM41 24h1v1h-1zM43 24h4v1h-4zM48 24h1v1h-1zM50 24h1v1h-1zM55 24h2v1h-2zM59 24h11v1h-11zM71 24h9v1h-9zM83 24h2v1h-2zM86 24h3v1h-3zM90 24h3v1h-3zM94 24h1v1h-1zM97 24h6v1h-6zM104 24h1v1h-1zM106 24h1v1h-1zM108 24h2v1h-2zM112 24h5v1h-5zM121 24h1v1h-1zM0 25h6v1h-6zM7 25h6v1h-6zM15 25h2v1h-2zM19 25h2v1h-2zM22 25h1v1h-1zM27 25h2v1h-2zM30 25h1v1h-1zM33 25h7v1h-7zM42 25h2v1h-2zM45 25h2v1h-2zM48 25h9v1h-9zM59 25h6v1h-6zM67 25h13v1h-13zM82 25h2v1h-2zM85 25h7v1h-7zM94 25h2v1h-2zM99 25h2v1h-2zM102 25h2v1h-2zM107 25h5v1h-5zM118 25h1v1h-1zM120 25h1v1h-1zM122 25h1v1h-1zM3 26h2v1h-2zM6 26h3v1h-3zM11 26h4v1h-4zM16 26h5v1h-5zM22 26h7v1h-7zM30 26h3v1h-3zM35 26h2v1h-2zM38 26h5v1h-5zM44 26h7v1h-7zM52 26h2v1h-2zM55 26h3v1h-3zM59 26h1v1h-1zM62 26h1v1h-1zM64 26h1v1h-1zM69 26h2v1h-2zM72 26h3v1h-3zM77 26h3v1h-3zM81 26h1v1h-1zM83 26h7v1h-7zM92 26h3v1h-3zM97 26h1v1h-1zM100 26h5v1h-5zM107 26h5v1h-5zM113 26h7v1h-7zM121 26h2v1h-2zM1 39h1v1h-1zM4 39h2v1h-2zM7 39h3v1h-3zM15 39h4v1h-4zM20 39h2v1h-2zM27 39h1v1h-1zM30 39h12v1h-12zM43 39h2v1h-2zM46 39h4v1h-4zM51 39h7v1h-7zM59 39h2v1h-2zM62 39h7v1h-7zM70 39h1v1h-1zM72 39h1v1h-1zM74 39h1v1h-1zM79 39h2v1h-2zM82 39h1v1h-1zM84 39h2v1h-2zM87 39h2v1h-2zM92 39h5v1h-5zM98 39h7v1h-7zM106 39h5v1h-5zM115 39h2v1h-2zM118 39h1v1h-1zM120 39h1v1h-1zM1 40h1v1h-1zM5 40h2v1h-2zM8 40h2v1h-2zM11 40h1v1h-1zM13 40h2v1h-2zM16 40h4v1h-4zM22 40h1v1h-1zM24 40h5v1h-5zM35 40h1v1h-1zM37 40h11v1h-11zM49 40h6v1h-6zM57 40h3v1h-3zM63 40h1v1h-1zM65 40h9v1h-9zM76 40h1v1h-1zM80 40h2v1h-2zM83 40h1v1h-1zM87 40h3v1h-3zM91 40h3v1h-3zM96 40h1v1h-1zM100 40h2v1h-2zM106 40h1v1h-1zM112 40h6v1h-6zM120 40h1v1h-1zM1 42h2v1h-2zM5 42h2v1h-2zM8 42h2v1h-2zM11 42h4v1h-4zM20 42h4v1h-4zM26 42h1v1h-1zM28 42h5v1h-5zM34 42h3v1h-3zM38 42h2v1h-2zM41 42h5v1h-5zM47 42h3v1h-3zM52 42h1v1h-1zM54 42h1v1h-1zM56 42h2v1h-2zM59 42h2v1h-2zM62 42h1v1h-1zM64 42h2v1h-2zM67 42h4v1h-4zM72 42h1v1h-1zM75 42h7v1h-7zM83 42h3v1h-3zM88 42h3v1h-3zM92 42h14v1h-14zM110 42h6v1h-6zM117 42h1v1h-1zM119 42h2v1h-2zM0 46h4v1h-4zM5 46h1v1h-1zM7 46h2v1h-2zM11 46h1v1h-1zM15 46h2v1h-2zM20 46h1v1h-1zM22 46h3v1h-3zM26 46h1v1h-1zM28 46h3v1h-3zM33 46h2v1h-2zM36 46h3v1h-3zM40 46h1v1h-1zM42 46h3v1h-3zM46 46h1v1h-1zM48 46h7v1h-7zM57 46h2v1h-2zM61 46h6v1h-6zM68 46h3v1h-3zM72 46h1v1h-1zM74 46h5v1h-5zM80 46h1v1h-1zM82 46h2v1h-2zM85 46h3v1h-3zM89 46h1v1h-1zM91 46h2v1h-2zM94 46h1v1h-1zM100 46h2v1h-2zM103 46h1v1h-1zM105 46h1v1h-1zM107 46h3v1h-3zM113 46h2v1h-2zM117 46h1v1h-1zM119 46h3v1h-3zM0 47h1v1h-1zM2 47h1v1h-1zM4 47h1v1h-1zM7 47h1v1h-1zM11 47h4v1h-4zM16 47h3v1h-3zM20 47h2v1h-2zM23 47h4v1h-4zM29 47h1v1h-1zM32 47h3v1h-3zM36 47h3v1h-3zM40 47h4v1h-4zM45 47h3v1h-3zM50 47h3v1h-3zM54 47h2v1h-2zM57 47h6v1h-6zM64 47h1v1h-1zM66 47h3v1h-3zM71 47h1v1h-1zM75 47h1v1h-1zM77 47h14v1h-14zM92 47h5v1h-5zM99 47h1v1h-1zM101 47h1v1h-1zM105 47h2v1h-2zM108 47h5v1h-5zM115 47h2v1h-2zM118 47h2v1h-2zM121 47h2v1h-2zM0 48h5v1h-5zM7 48h1v1h-1zM9 48h3v1h-3zM16 48h4v1h-4zM24 48h5v1h-5zM30 48h2v1h-2zM33 48h1v1h-1zM36 48h2v1h-2zM39 48h3v1h-3zM43 48h1v1h-1zM45 48h3v1h-3zM50 48h3v1h-3zM55 48h2v1h-2zM58 48h5v1h-5zM65 48h1v1h-1zM67 48h1v1h-1zM69 48h2v1h-2zM72 48h10v1h-10zM83 48h1v1h-1zM87 48h1v1h-1zM89 48h2v1h-2zM94 48h2v1h-2zM97 48h3v1h-3zM101 48h3v1h-3zM105 48h6v1h-6zM112 48h1v1h-1zM114 48h9v1h-9zM0 51h2v1h-2zM3 51h1v1h-1zM5 51h1v1h-1zM8 51h2v1h-2zM11 51h3v1h-3zM15 51h4v1h-4zM22 51h1v1h-1zM25 51h2v1h-2zM29 51h6v1h-6zM37 51h1v1h-1zM39 51h2v1h-2zM42 51h3v1h-3zM46 51h4v1h-4zM53 51h5v1h-5zM59 51h4v1h-4zM64 51h2v1h-2zM68 51h1v1h-1zM70 51h3v1h-3zM74 51h2v1h-2zM77 51h3v1h-3zM81 51h3v1h-3zM85 51h1v1h-1zM87 51h1v1h-1zM89 51h2v1h-2zM95 51h2v1h-2zM98 51h2v1h-2zM101 51h5v1h-5zM107 51h6v1h-6zM114 51h3v1h-3zM118 51h1v1h-1zM120 51h1v1h-1z"/>
<path fill="#ebdcff" d="M2 5h1v1h-1zM6 5h1v1h-1zM9 5h1v1h-1zM21 5h1v1h-1zM23 5h1v1h-1zM25 5h3v1h-3zM29 5h2v1h-2zM33 5h1v1h-1zM40 5h1v1h-1zM42 5h1v1h-1zM44 5h1v1h-1zM46 5h3v1h-3zM52 5h2v1h-2zM58 5h1v1h-1zM61 5h1v1h-1zM63 5h1v1h-1zM67 5h1v1h-1zM71 5h1v1h-1zM75 5h1v1h-1zM89 5h1v1h-1zM93 5h1v1h-1zM98 5h1v1h-1zM104 5h2v1h-2zM116 5h1v1h-1zM1 12h1v1h-1zM6 12h1v1h-1zM18 12h2v1h-2zM23 12h1v1h-1zM27 12h1v1h-1zM30 12h2v1h-2zM33 12h1v1h-1zM39 12h2v1h-2zM47 12h1v1h-1zM50 12h1v1h-1zM52 12h1v1h-1zM54 12h2v1h-2zM59 12h1v1h-1zM64 12h1v1h-1zM78 12h1v1h-1zM87 12h1v1h-1zM89 12h1v1h-1zM95 12h1v1h-1zM103 12h1v1h-1zM109 12h1v1h-1zM112 12h1v1h-1zM114 12h2v1h-2zM3 16h1v1h-1zM7 16h1v1h-1zM9 16h1v1h-1zM14 16h1v1h-1zM19 16h2v1h-2zM32 16h1v1h-1zM34 16h1v1h-1zM41 16h1v1h-1zM43 16h1v1h-1zM45 16h1v1h-1zM51 16h1v1h-1zM54 16h1v1h-1zM69 16h2v1h-2zM84 16h1v1h-1zM93 16h1v1h-1zM103 16h1v1h-1zM105 16h1v1h-1zM116 16h1v1h-1zM7 19h1v1h-1zM10 19h2v1h-2zM17 19h1v1h-1zM22 19h1v1h-1zM27 19h3v1h-3zM33 19h1v1h-1zM35 19h2v1h-2zM42 19h1v1h-1zM50 19h1v1h-1zM52 19h1v1h-1zM56 19h2v1h-2zM64 19h1v1h-1zM71 19h1v1h-1zM73 19h1v1h-1zM76 19h1v1h-1zM79 19h1v1h-1zM88 19h1v1h-1zM90 19h3v1h-3zM97 19h1v1h-1zM100 19h1v1h-1zM104 19h1v1h-1zM107 19h1v1h-1zM111 19h1v1h-1zM2 24h1v1h-1zM5 24h1v1h-1zM11 24h1v1h-1zM22 24h1v1h-1zM24 24h1v1h-1zM33 24h1v1h-1zM37 24h4v1h-4zM42 24h1v1h-1zM49 24h1v1h-1zM54 24h1v1h-1zM57 24h2v1h-2zM70 24h1v1h-1zM82 24h1v1h-1zM85 24h1v1h-1zM93 24h1v1h-1zM95 24h1v1h-1zM103 24h1v1h-1zM111 24h1v1h-1zM117 24h4v1h-4zM122 24h1v1h-1zM6 25h1v1h-1zM17 25h1v1h-1zM21 25h1v1h-1zM23 25h1v1h-1zM26 25h1v1h-1zM31 25h2v1h-2zM41 25h1v1h-1zM47 25h1v1h-1zM57 25h1v1h-1zM65 25h1v1h-1zM81 25h1v1h-1zM84 25h1v1h-1zM93 25h1v1h-1zM101 25h1v1h-1zM106 25h1v1h-1zM113 25h1v1h-1zM115 25h1v1h-1zM119 25h1v1h-1zM121 25h1v1h-1zM2 26h1v1h-1zM5 26h1v1h-1zM15 26h1v1h-1zM21 26h1v1h-1zM29 26h1v1h-1zM33 26h2v1h-2zM51 26h1v1h-1zM54 26h1v1h-1zM58 26h1v1h-1zM60 26h2v1h-2zM75 26h2v1h-2zM80 26h1v1h-1zM95 26h2v1h-2zM112 26h1v1h-1zM120 26h1v1h-1zM0 39h1v1h-1zM2 39h1v1h-1zM6 39h1v1h-1zM10 39h2v1h-2zM13 39h1v1h-1zM19 39h1v1h-1zM23 39h2v1h-2zM28 39h2v1h-2zM50 39h1v1h-1zM58 39h1v1h-1zM61 39h1v1h-1zM69 39h1v1h-1zM71 39h1v1h-1zM73 39h1v1h-1zM77 39h1v1h-1zM81 39h1v1h-1zM83 39h1v1h-1zM86 39h1v1h-1zM89 39h3v1h-3zM105 39h1v1h-1zM117 39h1v1h-1zM121 39h2v1h-2zM0 40h1v1h-1zM2 40h3v1h-3zM10 40h1v1h-1zM12 40h1v1h-1zM15 40h1v1h-1zM20 40h2v1h-2zM23 40h1v1h-1zM30 40h1v1h-1zM36 40h1v1h-1zM56 40h1v1h-1zM61 40h2v1h-2zM64 40h1v1h-1zM75 40h1v1h-1zM77 40h1v1h-1zM79 40h1v1h-1zM82 40h1v1h-1zM94 40h1v1h-1zM99 40h1v1h-1zM102 40h1v1h-1zM109 40h3v1h-3zM118 40h1v1h-1zM121 40h1v1h-1zM0 42h1v1h-1zM10 42h1v1h-1zM18 42h2v1h-2zM24 42h2v1h-2zM27 42h1v1h-1zM37 42h1v1h-1zM46 42h1v1h-1zM50 42h2v1h-2zM55 42h1v1h-1zM58 42h1v1h-1zM61 42h1v1h-1zM63 42h1v1h-1zM71 42h1v1h-1zM74 42h1v1h-1zM82 42h1v1h-1zM86 42h1v1h-1zM91 42h1v1h-1zM106 42h4v1h-4zM116 42h1v1h-1zM118 42h1v1h-1zM122 42h1v1h-1zM8 44h1v1h-1zM21 44h1v1h-1zM28 44h1v1h-1zM48 44h1v1h-1zM53 44h1v1h-1zM57 44h2v1h-2zM61 44h1v1h-1zM69 44h1v1h-1zM72 44h1v1h-1zM75 44h1v1h-1zM92 44h2v1h-2zM95 44h1v1h-1zM97 44h1v1h-1zM105 44h1v1h-1zM110 44h1v1h-1zM5 45h2v1h-2zM8 45h4v1h-4zM13 45h2v1h-2zM28 45h1v1h-1zM34 45h1v1h-1zM39 45h1v1h-1zM42 45h1v1h-1zM55 45h2v1h-2zM62 45h1v1h-1zM64 45h1v1h-1zM68 45h1v1h-1zM71 45h4v1h-4zM79 45h1v1h-1zM84 45h1v1h-1zM88 45h2v1h-2zM97 45h1v1h-1zM99 45h1v1h-1zM101 45h1v1h-1zM106 45h1v1h-1zM111 45h1v1h-1zM113 45h1v1h-1zM117 45h1v1h-1zM122 45h1v1h-1zM6 46h1v1h-1zM12 46h3v1h-3zM17 46h3v1h-3zM27 46h1v1h-1zM41 46h1v1h-1zM45 46h1v1h-1zM56 46h1v1h-1zM59 46h2v1h-2zM67 46h1v1h-1zM71 46h1v1h-1zM73 46h1v1h-1zM79 46h1v1h-1zM81 46h1v1h-1zM84 46h1v1h-1zM88 46h1v1h-1zM95 46h2v1h-2zM102 46h1v1h-1zM106 46h1v1h-1zM110 46h1v1h-1zM115 46h2v1h-2zM118 46h1v1h-1zM122 46h1v1h-1zM1 47h1v1h-1zM3 47h1v1h-1zM10 47h1v1h-1zM30 47h1v1h-1zM44 47h1v1h-1zM48 47h1v1h-1zM63 47h1v1h-1zM69 47h1v1h-1zM73 47h2v1h-2zM91 47h1v1h-1zM97 47h1v1h-1zM102 47h1v1h-1zM113 47h1v1h-1zM120 47h1v1h-1zM5 48h1v1h-1zM8 48h1v1h-1zM13 48h1v1h-1zM15 48h1v1h-1zM20 48h3v1h-3zM32 48h1v1h-1zM35 48h1v1h-1zM38 48h1v1h-1zM42 48h1v1h-1zM44 48h1v1h-1zM48 48h2v1h-2zM54 48h1v1h-1zM63 48h2v1h-2zM68 48h1v1h-1zM71 48h1v1h-1zM82 48h1v1h-1zM84 48h3v1h-3zM88 48h1v1h-1zM92 48h1v1h-1zM96 48h1v1h-1zM104 48h1v1h-1zM111 48h1v1h-1zM113 48h1v1h-1zM2 51h1v1h-1zM4 51h1v1h-1zM6 51h1v1h-1zM10 51h1v1h-1zM14 51h1v1h-1zM19 51h3v1h-3zM24 51h1v1h-1zM35 51h2v1h-2zM38 51h1v1h-1zM41 51h1v1h-1zM45 51h1v1h-1zM50 51h3v1h-3zM58 51h1v1h-1zM66 51h2v1h-2zM69 51h1v1h-1zM86 51h1v1h-1zM88 51h1v1h-1zM91 51h4v1h-4zM97 51h1v1h-1zM106 51h1v1h-1zM113 51h1v1h-1zM117 51h1v1h-1zM121 51h2v1h-2zM8 52h2v1h-2zM13 52h1v1h-1zM24 52h2v1h-2zM29 52h1v1h-1zM38 52h1v1h-1zM40 52h1v1h-1zM43 52h1v1h-1zM46 52h1v1h-1zM65 52h1v1h-1zM69 52h1v1h-1zM71 52h1v1h-1zM75 52h1v1h-1zM77 52h2v1h-2zM88 52h2v1h-2zM94 52h1v1h-1zM105 52h1v1h-1zM109 52h1v1h-1zM113 52h1v1h-1zM115 52h1v1h-1zM119 52h1v1h-1zM3 53h1v1h-1zM6 53h1v1h-1zM10 53h1v1h-1zM15 53h1v1h-1zM27 53h1v1h-1zM39 53h1v1h-1zM43 53h1v1h-1zM48 53h2v1h-2zM52 53h1v1h-1zM56 53h1v1h-1zM60 53h1v1h-1zM66 53h1v1h-1zM68 53h2v1h-2zM79 53h2v1h-2zM86 53h1v1h-1zM95 53h1v1h-1zM97 53h2v1h-2zM101 53h1v1h-1zM105 53h1v1h-1zM121 53h1v1h-1zM0 55h1v1h-1zM2 55h1v1h-1zM7 55h1v1h-1zM10 55h1v1h-1zM14 55h1v1h-1zM16 55h4v1h-4zM21 55h1v1h-1zM27 55h1v1h-1zM29 55h1v1h-1zM34 55h2v1h-2zM54 55h1v1h-1zM61 55h2v1h-2zM66 55h1v1h-1zM84 55h2v1h-2zM89 55h1v1h-1zM110 55h1v1h-1zM113 55h1v1h-1zM117 55h1v1h-1z"/>
<path fill="#f2e7ff" d="M1 34h1v1h-1zM3 34h1v1h-1zM39 34h1v1h-1zM42 34h1v1h-1zM44 34h1v1h-1zM51 34h1v1h-1zM74 34h1v1h-1zM76 34h1v1h-1zM97 34h2v1h-2zM22 35h1v1h-1zM24 35h2v1h-2zM32 35h1v1h-1zM46 35h1v1h-1zM60 35h2v1h-2zM65 35h1v1h-1zM69 35h1v1h-1zM76 35h1v1h-1zM98 35h1v1h-1zM0 44h8v1h-8zM9 44h4v1h-4zM14 44h1v1h-1zM16 44h5v1h-5zM22 44h6v1h-6zM29 44h6v1h-6zM36 44h9v1h-9zM46 44h2v1h-2zM49 44h2v1h-2zM52 44h1v1h-1zM54 44h3v1h-3zM59 44h2v1h-2zM62 44h7v1h-7zM70 44h2v1h-2zM74 44h1v1h-1zM76 44h16v1h-16zM94 44h1v1h-1zM96 44h1v1h-1zM98 44h7v1h-7zM106 44h4v1h-4zM111 44h12v1h-12zM0 45h5v1h-5zM7 45h1v1h-1zM12 45h1v1h-1zM15 45h13v1h-13zM30 45h4v1h-4zM35 45h4v1h-4zM40 45h2v1h-2zM43 45h1v1h-1zM45 45h10v1h-10zM57 45h2v1h-2zM60 45h2v1h-2zM63 45h1v1h-1zM65 45h3v1h-3zM70 45h1v1h-1zM75 45h4v1h-4zM80 45h4v1h-4zM85 45h3v1h-3zM91 45h5v1h-5zM98 45h1v1h-1zM100 45h1v1h-1zM102 45h4v1h-4zM107 45h4v1h-4zM112 45h1v1h-1zM114 45h3v1h-3zM118 45h4v1h-4zM1 52h7v1h-7zM10 52h3v1h-3zM14 52h9v1h-9zM26 52h3v1h-3zM30 52h8v1h-8zM39 52h1v1h-1zM41 52h2v1h-2zM44 52h2v1h-2zM47 52h18v1h-18zM66 52h3v1h-3zM70 52h1v1h-1zM72 52h3v1h-3zM76 52h1v1h-1zM79 52h2v1h-2zM82 52h1v1h-1zM84 52h3v1h-3zM90 52h4v1h-4zM95 52h5v1h-5zM101 52h4v1h-4zM106 52h3v1h-3zM110 52h3v1h-3zM114 52h1v1h-1zM116 52h1v1h-1zM120 52h2v1h-2zM0 53h3v1h-3zM4 53h2v1h-2zM7 53h3v1h-3zM11 53h4v1h-4zM16 53h2v1h-2zM19 53h8v1h-8zM28 53h10v1h-10zM40 53h2v1h-2zM44 53h4v1h-4zM50 53h2v1h-2zM53 53h1v1h-1zM55 53h1v1h-1zM57 53h3v1h-3zM61 53h5v1h-5zM67 53h1v1h-1zM70 53h9v1h-9zM81 53h4v1h-4zM87 53h8v1h-8zM96 53h1v1h-1zM99 53h2v1h-2zM102 53h1v1h-1zM104 53h1v1h-1zM106 53h11v1h-11zM118 53h1v1h-1zM120 53h1v1h-1zM122 53h1v1h-1zM1 55h1v1h-1zM3 55h2v1h-2zM6 55h1v1h-1zM8 55h2v1h-2zM11 55h3v1h-3zM15 55h1v1h-1zM20 55h1v1h-1zM22 55h5v1h-5zM28 55h1v1h-1zM30 55h4v1h-4zM36 55h7v1h-7zM44 55h10v1h-10zM55 55h6v1h-6zM63 55h3v1h-3zM67 55h1v1h-1zM69 55h4v1h-4zM75 55h9v1h-9zM86 55h3v1h-3zM90 55h7v1h-7zM98 55h5v1h-5zM104 55h6v1h-6zM111 55h1v1h-1zM114 55h3v1h-3zM118 55h5v1h-5z"/>
<path fill="#f8f3ff" d="M17 0h1v1h-1zM21 0h1v1h-1zM57 0h1v1h-1zM63 0h1v1h-1zM68 0h1v1h-1zM97 0h1v1h-1zM22 1h2v1h-2zM80 1h1v1h-1zM118 1h1v1h-1zM7 3h1v1h-1zM35 3h1v1h-1zM41 3h1v1h-1zM51 3h1v1h-1zM58 3h1v1h-1zM74 3h1v1h-1zM77 3h1v1h-1zM87 3h1v1h-1zM99 3h1v1h-1zM116 3h1v1h-1zM54 4h2v1h-2zM14 6h1v1h-1zM40 6h1v1h-1zM51 6h1v1h-1zM67 6h1v1h-1zM78 6h1v1h-1zM31 7h1v1h-1zM56 7h1v1h-1zM83 7h1v1h-1zM86 7h1v1h-1zM96 7h1v1h-1zM103 7h1v1h-1zM2 8h1v1h-1zM4 8h1v1h-1zM13 8h1v1h-1zM43 8h1v1h-1zM102 8h1v1h-1zM104 8h1v1h-1zM7 9h1v1h-1zM45 9h1v1h-1zM53 9h1v1h-1zM60 9h1v1h-1zM63 9h1v1h-1zM72 9h2v1h-2zM77 9h2v1h-2zM83 9h1v1h-1zM89 9h1v1h-1zM92 9h1v1h-1zM108 9h1v1h-1zM113 9h1v1h-1zM117 9h1v1h-1zM120 9h1v1h-1zM6 10h1v1h-1zM104 10h1v1h-1zM113 10h1v1h-1zM5 11h1v1h-1zM12 11h2v1h-2zM20 11h1v1h-1zM26 11h1v1h-1zM31 11h1v1h-1zM64 11h1v1h-1zM41 12h2v1h-2zM13 13h1v1h-1zM39 13h1v1h-1zM92 13h1v1h-1zM102 13h1v1h-1zM116 13h1v1h-1zM16 14h1v1h-1zM61 14h2v1h-2zM78 14h1v1h-1zM102 14h1v1h-1zM112 14h1v1h-1zM122 14h1v1h-1zM43 15h1v1h-1zM50 15h1v1h-1zM69 15h1v1h-1zM81 15h1v1h-1zM118 15h1v1h-1zM120 15h1v1h-1zM87 16h1v1h-1zM94 16h1v1h-1zM71 17h1v1h-1zM94 17h1v1h-1zM100 17h1v1h-1zM117 17h1v1h-1zM119 17h1v1h-1zM18 18h1v1h-1zM20 18h1v1h-1zM28 18h1v1h-1zM50 18h1v1h-1zM66 18h1v1h-1zM106 18h1v1h-1zM6 20h1v1h-1zM8 20h1v1h-1zM32 20h1v1h-1zM45 20h1v1h-1zM54 20h1v1h-1zM65 20h2v1h-2zM69 20h1v1h-1zM71 20h1v1h-1zM87 20h1v1h-1zM92 20h1v1h-1zM100 20h1v1h-1zM119 20h2v1h-2zM10 21h1v1h-1zM39 21h1v1h-1zM60 21h1v1h-1zM81 21h1v1h-1zM86 21h1v1h-1zM89 21h1v1h-1zM102 21h1v1h-1zM115 21h1v1h-1zM24 22h1v1h-1zM52 22h1v1h-1zM76 22h1v1h-1zM107 22h1v1h-1zM111 22h1v1h-1zM113 22h1v1h-1zM115 22h2v1h-2zM83 23h1v1h-1zM28 24h1v1h-1zM81 24h1v1h-1zM1 26h1v1h-1zM82 26h1v1h-1zM55 27h1v1h-1zM60 27h1v1h-1zM114 27h1v1h-1zM19 29h2v1h-2zM40 29h1v1h-1zM46 29h1v1h-1zM58 29h2v1h-2zM64 29h2v1h-2zM85 29h1v1h-1zM106 29h1v1h-1zM2 30h1v1h-1zM14 30h1v1h-1zM18 30h1v1h-1zM24 30h1v1h-1zM31 30h1v1h-1zM50 30h1v1h-1zM67 30h1v1h-1zM79 30h1v1h-1zM94 30h1v1h-1zM106 30h1v1h-1zM2 31h1v1h-1zM35 31h2v1h-2zM42 31h1v1h-1zM103 31h2v1h-2zM113 31h1v1h-1zM23 32h1v1h-1zM41 32h1v1h-1zM55 32h1v1h-1zM109 32h1v1h-1zM26 33h2v1h-2zM45 33h1v1h-1zM82 33h1v1h-1zM2 34h1v1h-1zM4 34h20v1h-20zM25 34h4v1h-4zM30 34h9v1h-9zM40 34h2v1h-2zM43 34h1v1h-1zM45 34h6v1h-6zM52 34h8v1h-8zM61 34h13v1h-13zM75 34h1v1h-1zM77 34h20v1h-20zM102 34h3v1h-3zM106 34h3v1h-3zM110 34h1v1h-1zM112 34h11v1h-11zM0 35h1v1h-1zM2 35h1v1h-1zM4 35h18v1h-18zM23 35h1v1h-1zM26 35h6v1h-6zM33 35h5v1h-5zM39 35h7v1h-7zM47 35h1v1h-1zM49 35h7v1h-7zM57 35h3v1h-3zM62 35h3v1h-3zM66 35h3v1h-3zM70 35h2v1h-2zM73 35h3v1h-3zM77 35h21v1h-21zM99 35h24v1h-24zM5 36h1v1h-1zM12 36h1v1h-1zM76 36h1v1h-1zM23 37h1v1h-1zM115 37h1v1h-1zM22 38h1v1h-1zM32 38h2v1h-2zM73 38h1v1h-1zM93 38h2v1h-2zM110 38h1v1h-1zM45 39h1v1h-1zM119 39h1v1h-1zM7 40h1v1h-1zM60 40h1v1h-1zM74 40h1v1h-1zM103 40h2v1h-2zM34 41h1v1h-1zM66 41h1v1h-1zM85 41h1v1h-1zM53 42h1v1h-1zM1 43h1v1h-1zM6 43h1v1h-1zM40 43h1v1h-1zM94 43h1v1h-1zM98 43h1v1h-1zM29 45h1v1h-1zM44 45h1v1h-1zM25 46h1v1h-1zM39 46h1v1h-1zM90 46h1v1h-1zM111 46h2v1h-2zM9 47h1v1h-1zM15 47h1v1h-1zM35 47h1v1h-1zM32 49h1v1h-1zM106 49h1v1h-1zM2 50h1v1h-1zM6 50h1v1h-1zM14 50h1v1h-1zM23 50h2v1h-2zM57 50h1v1h-1zM54 54h2v1h-2zM5 56h1v1h-1zM12 56h1v1h-1zM57 56h1v1h-1zM78 56h1v1h-1zM86 56h1v1h-1zM94 56h1v1h-1zM2 57h1v1h-1zM5 57h1v1h-1zM40 57h1v1h-1zM55 57h1v1h-1zM80 57h1v1h-1zM82 57h1v1h-1zM107 58h1v1h-1zM117 58h1v1h-1zM8 59h1v1h-1zM46 59h1v1h-1zM25 60h1v1h-1zM44 60h1v1h-1zM86 60h1v1h-1zM94 60h1v1h-1zM108 60h1v1h-1zM28 61h1v1h-1zM34 61h2v1h-2zM58 61h1v1h-1zM62 61h1v1h-1zM80 61h1v1h-1zM85 61h1v1h-1zM107 61h1v1h-1z"/>
<path fill="#ffffff" d="M56 0h1v1h-1zM111 0h1v1h-1zM116 0h1v1h-1zM14 1h1v1h-1zM21 1h1v1h-1zM49 1h1v1h-1zM74 1h1v1h-1zM87 1h1v1h-1zM91 1h1v1h-1zM122 1h1v1h-1zM12 2h1v1h-1zM76 2h1v1h-1zM12 3h1v1h-1zM25 3h1v1h-1zM44 3h2v1h-2zM50 3h1v1h-1zM54 3h1v1h-1zM83 3h1v1h-1zM101 3h1v1h-1zM103 3h1v1h-1zM106 3h2v1h-2zM109 3h1v1h-1zM111 3h1v1h-1zM57 5h1v1h-1zM2 6h1v1h-1zM13 6h1v1h-1zM38 6h1v1h-1zM42 6h3v1h-3zM93 6h1v1h-1zM100 6h1v1h-1zM114 6h3v1h-3zM1 7h2v1h-2zM13 7h1v1h-1zM19 7h2v1h-2zM62 7h1v1h-1zM71 7h1v1h-1zM78 7h1v1h-1zM90 7h1v1h-1zM121 7h1v1h-1zM94 8h1v1h-1zM15 9h1v1h-1zM28 9h1v1h-1zM52 9h1v1h-1zM58 9h2v1h-2zM61 9h1v1h-1zM91 9h1v1h-1zM6 11h1v1h-1zM29 11h1v1h-1zM76 11h1v1h-1zM81 11h1v1h-1zM109 11h1v1h-1zM72 12h1v1h-1zM8 13h2v1h-2zM17 13h1v1h-1zM53 13h1v1h-1zM61 13h1v1h-1zM63 13h1v1h-1zM122 13h1v1h-1zM2 14h1v1h-1zM47 14h1v1h-1zM77 14h1v1h-1zM117 14h1v1h-1zM44 15h3v1h-3zM65 15h1v1h-1zM67 15h1v1h-1zM6 16h1v1h-1zM28 16h1v1h-1zM88 16h1v1h-1zM5 17h1v1h-1zM22 17h1v1h-1zM70 17h1v1h-1zM72 17h1v1h-1zM95 17h1v1h-1zM120 17h1v1h-1zM6 18h1v1h-1zM23 18h1v1h-1zM52 18h1v1h-1zM57 18h1v1h-1zM71 18h1v1h-1zM80 18h1v1h-1zM87 18h1v1h-1zM102 18h1v1h-1zM3 19h1v1h-1zM61 19h1v1h-1zM4 20h1v1h-1zM13 20h1v1h-1zM18 20h2v1h-2zM24 20h1v1h-1zM50 20h1v1h-1zM53 20h1v1h-1zM61 20h1v1h-1zM76 20h2v1h-2zM101 20h1v1h-1zM112 20h2v1h-2zM5 21h1v1h-1zM16 21h1v1h-1zM40 21h1v1h-1zM45 21h1v1h-1zM61 21h1v1h-1zM85 21h1v1h-1zM108 21h1v1h-1zM112 21h1v1h-1zM1 22h1v1h-1zM9 22h1v1h-1zM13 22h1v1h-1zM19 22h2v1h-2zM25 22h1v1h-1zM69 22h1v1h-1zM8 23h1v1h-1zM33 23h1v1h-1zM96 23h1v1h-1zM98 23h1v1h-1zM111 23h1v1h-1zM27 24h1v1h-1zM96 24h1v1h-1zM10 26h1v1h-1zM98 26h1v1h-1zM105 26h1v1h-1zM13 27h1v1h-1zM28 27h1v1h-1zM2 28h1v1h-1zM51 28h1v1h-1zM71 28h1v1h-1zM88 28h1v1h-1zM99 28h1v1h-1zM104 28h1v1h-1zM13 29h2v1h-2zM21 29h2v1h-2zM41 29h1v1h-1zM47 29h1v1h-1zM72 29h1v1h-1zM108 29h1v1h-1zM118 29h1v1h-1zM35 30h1v1h-1zM52 30h1v1h-1zM60 30h1v1h-1zM73 30h1v1h-1zM84 30h1v1h-1zM89 30h1v1h-1zM101 30h1v1h-1zM112 30h1v1h-1zM10 31h1v1h-1zM33 31h1v1h-1zM48 31h1v1h-1zM61 31h1v1h-1zM114 31h1v1h-1zM9 32h2v1h-2zM61 32h1v1h-1zM66 32h1v1h-1zM75 32h1v1h-1zM80 32h3v1h-3zM110 32h1v1h-1zM113 32h1v1h-1zM47 33h1v1h-1zM78 33h1v1h-1zM0 34h1v1h-1zM24 34h1v1h-1zM29 34h1v1h-1zM60 34h1v1h-1zM99 34h3v1h-3zM105 34h1v1h-1zM109 34h1v1h-1zM111 34h1v1h-1zM1 35h1v1h-1zM3 35h1v1h-1zM38 35h1v1h-1zM48 35h1v1h-1zM56 35h1v1h-1zM72 35h1v1h-1zM50 36h1v1h-1zM61 36h1v1h-1zM104 36h1v1h-1zM62 37h1v1h-1zM72 37h1v1h-1zM76 37h1v1h-1zM14 38h1v1h-1zM20 38h1v1h-1zM40 38h2v1h-2zM59 38h1v1h-1zM61 38h3v1h-3zM80 38h1v1h-1zM95 38h1v1h-1zM103 38h2v1h-2zM118 38h1v1h-1zM112 39h1v1h-1zM55 40h1v1h-1zM78 40h1v1h-1zM90 40h1v1h-1zM122 40h1v1h-1zM43 41h1v1h-1zM45 41h1v1h-1zM61 41h1v1h-1zM51 44h1v1h-1zM4 46h1v1h-1zM21 46h1v1h-1zM32 46h1v1h-1zM28 47h1v1h-1zM39 47h1v1h-1zM49 47h1v1h-1zM19 49h1v1h-1zM1 50h1v1h-1zM13 50h1v1h-1zM60 50h1v1h-1zM68 50h1v1h-1zM111 50h1v1h-1zM80 51h1v1h-1zM84 51h1v1h-1zM56 54h1v1h-1zM91 54h1v1h-1zM1 56h1v1h-1zM6 56h1v1h-1zM13 56h2v1h-2zM23 56h1v1h-1zM25 56h1v1h-1zM35 56h1v1h-1zM48 56h1v1h-1zM53 56h1v1h-1zM79 56h1v1h-1zM100 56h1v1h-1zM119 56h2v1h-2zM3 57h2v1h-2zM10 57h1v1h-1zM33 57h1v1h-1zM50 57h1v1h-1zM66 57h1v1h-1zM89 57h1v1h-1zM111 57h1v1h-1zM114 57h1v1h-1zM30 58h1v1h-1zM66 58h1v1h-1zM15 59h1v1h-1zM51 59h1v1h-1zM99 59h1v1h-1zM106 59h1v1h-1zM54 60h1v1h-1zM60 60h1v1h-1zM5 61h1v1h-1zM54 61h1v1h-1zM61 61h1v1h-1zM70 61h1v1h-1zM76 61h3v1h-3zM93 61h1v1h-1z"/>
<path fill="#fff5f2" d="M13 0h1v1h-1zM26 0h1v1h-1zM49 0h1v1h-1zM60 0h1v1h-1zM82 0h1v1h-1zM3 1h1v1h-1zM7 1h1v1h-1zM15 1h1v1h-1zM39 1h1v1h-1zM46 1h1v1h-1zM64 1h1v1h-1zM68 1h1v1h-1zM79 1h1v1h-1zM88 1h1v1h-1zM113 1h1v1h-1zM117 1h1v1h-1zM88 3h1v1h-1zM93 3h1v1h-1zM96 3h1v1h-1zM31 4h1v1h-1zM84 4h1v1h-1zM119 4h1v1h-1zM37 6h1v1h-1zM53 6h2v1h-2zM63 6h1v1h-1zM112 6h1v1h-1zM34 7h1v1h-1zM36 7h1v1h-1zM57 7h1v1h-1zM70 7h1v1h-1zM85 7h1v1h-1zM88 7h1v1h-1zM119 7h2v1h-2zM1 8h1v1h-1zM3 8h1v1h-1zM54 8h1v1h-1zM76 8h2v1h-2zM121 8h1v1h-1zM2 9h1v1h-1zM6 9h1v1h-1zM8 9h1v1h-1zM12 9h1v1h-1zM27 9h1v1h-1zM39 9h2v1h-2zM43 9h2v1h-2zM57 9h1v1h-1zM62 9h1v1h-1zM71 9h1v1h-1zM74 9h1v1h-1zM80 9h1v1h-1zM112 9h1v1h-1zM25 10h1v1h-1zM112 10h1v1h-1zM2 11h1v1h-1zM18 11h1v1h-1zM30 11h1v1h-1zM48 11h1v1h-1zM65 11h1v1h-1zM112 11h1v1h-1zM116 11h1v1h-1zM43 12h1v1h-1zM57 12h1v1h-1zM91 12h1v1h-1zM96 12h1v1h-1zM118 12h1v1h-1zM34 13h1v1h-1zM51 13h1v1h-1zM77 13h1v1h-1zM81 13h2v1h-2zM12 14h1v1h-1zM8 15h1v1h-1zM41 15h1v1h-1zM53 15h1v1h-1zM75 15h1v1h-1zM86 15h1v1h-1zM109 15h1v1h-1zM117 15h1v1h-1zM73 16h1v1h-1zM109 16h1v1h-1zM39 17h1v1h-1zM61 17h1v1h-1zM76 17h1v1h-1zM79 17h1v1h-1zM98 17h1v1h-1zM118 17h1v1h-1zM5 18h1v1h-1zM7 18h1v1h-1zM10 18h1v1h-1zM13 18h1v1h-1zM21 18h2v1h-2zM43 18h1v1h-1zM90 18h1v1h-1zM105 18h1v1h-1zM109 18h2v1h-2zM4 19h1v1h-1zM33 20h2v1h-2zM37 20h1v1h-1zM44 20h1v1h-1zM58 20h1v1h-1zM62 20h2v1h-2zM85 20h1v1h-1zM94 20h1v1h-1zM108 20h1v1h-1zM121 20h1v1h-1zM18 21h1v1h-1zM35 21h1v1h-1zM70 21h1v1h-1zM76 21h1v1h-1zM101 21h1v1h-1zM103 21h1v1h-1zM8 22h1v1h-1zM10 22h1v1h-1zM29 22h1v1h-1zM33 22h1v1h-1zM54 22h1v1h-1zM59 22h1v1h-1zM89 22h1v1h-1zM118 22h1v1h-1zM120 22h1v1h-1zM26 23h1v1h-1zM50 23h1v1h-1zM97 23h1v1h-1zM100 23h1v1h-1zM104 23h1v1h-1zM12 24h1v1h-1zM53 24h1v1h-1zM9 26h1v1h-1zM43 26h1v1h-1zM65 26h1v1h-1zM71 26h1v1h-1zM91 26h1v1h-1zM106 26h1v1h-1zM0 27h1v1h-1zM57 27h1v1h-1zM14 28h1v1h-1zM81 28h1v1h-1zM8 29h1v1h-1zM15 29h1v1h-1zM27 29h1v1h-1zM42 29h1v1h-1zM44 29h1v1h-1zM60 29h1v1h-1zM62 29h1v1h-1zM73 29h2v1h-2zM91 29h1v1h-1zM109 29h1v1h-1zM55 30h1v1h-1zM66 30h1v1h-1zM69 30h3v1h-3zM80 30h1v1h-1zM98 30h1v1h-1zM11 31h1v1h-1zM32 31h1v1h-1zM58 31h1v1h-1zM68 31h1v1h-1zM83 31h1v1h-1zM101 31h2v1h-2zM105 31h1v1h-1zM109 31h1v1h-1zM112 31h1v1h-1zM111 32h1v1h-1zM21 33h1v1h-1zM43 33h1v1h-1zM81 33h1v1h-1zM92 33h1v1h-1zM111 33h1v1h-1zM69 37h1v1h-1zM71 37h1v1h-1zM114 37h1v1h-1zM21 38h1v1h-1zM57 38h1v1h-1zM65 38h1v1h-1zM112 38h1v1h-1zM12 39h1v1h-1zM25 39h1v1h-1zM31 40h1v1h-1zM48 40h1v1h-1zM121 41h1v1h-1zM7 43h1v1h-1zM46 43h1v1h-1zM52 43h1v1h-1zM67 43h1v1h-1zM80 43h1v1h-1zM99 43h1v1h-1zM115 43h1v1h-1zM93 46h1v1h-1zM27 47h1v1h-1zM70 47h1v1h-1zM20 49h1v1h-1zM39 49h1v1h-1zM92 49h1v1h-1zM56 50h1v1h-1zM98 50h1v1h-1zM7 51h1v1h-1zM23 51h1v1h-1zM10 54h1v1h-1zM32 54h1v1h-1zM37 54h1v1h-1zM48 54h1v1h-1zM69 54h1v1h-1zM83 54h2v1h-2zM88 54h1v1h-1zM55 56h2v1h-2zM80 56h1v1h-1zM87 56h1v1h-1zM99 56h1v1h-1zM67 57h1v1h-1zM95 57h1v1h-1zM23 58h1v1h-1zM29 58h1v1h-1zM32 58h2v1h-2zM56 58h1v1h-1zM58 58h1v1h-1zM7 59h1v1h-1zM40 59h1v1h-1zM95 59h1v1h-1zM119 59h1v1h-1zM24 60h1v1h-1zM41 60h1v1h-1zM98 60h1v1h-1zM106 60h1v1h-1zM21 61h1v1h-1zM29 61h1v1h-1zM48 61h1v1h-1zM55 61h2v1h-2zM63 61h1v1h-1zM66 61h1v1h-1zM86 61h1v1h-1z"/>
<path fill="#ffd9cb" d="M37 1h1v1h-1zM111 1h1v1h-1zM47 2h1v1h-1zM116 2h1v1h-1zM9 3h1v1h-1zM80 3h1v1h-1zM4 4h1v1h-1zM9 6h1v1h-1zM11 7h2v1h-2zM50 7h1v1h-1zM61 7h1v1h-1zM94 7h1v1h-1zM14 9h1v1h-1zM66 9h1v1h-1zM101 9h1v1h-1zM0 11h2v1h-2zM25 11h1v1h-1zM38 11h1v1h-1zM46 11h1v1h-1zM84 11h1v1h-1zM86 11h1v1h-1zM121 11h1v1h-1zM25 12h1v1h-1zM5 13h1v1h-1zM10 13h1v1h-1zM44 13h1v1h-1zM110 13h2v1h-2zM58 17h1v1h-1zM93 20h1v1h-1zM7 21h1v1h-1zM12 22h1v1h-1zM105 22h1v1h-1zM110 22h1v1h-1zM36 23h1v1h-1zM114 25h1v1h-1zM47 27h1v1h-1zM8 28h1v1h-1zM1 29h1v1h-1zM39 29h1v1h-1zM66 29h1v1h-1zM113 29h1v1h-1zM76 30h1v1h-1zM107 30h1v1h-1zM109 30h1v1h-1zM40 31h1v1h-1zM55 31h1v1h-1zM90 31h1v1h-1zM13 32h1v1h-1zM24 32h1v1h-1zM36 36h1v1h-1zM71 36h1v1h-1zM80 36h1v1h-1zM90 36h1v1h-1zM94 36h1v1h-1zM117 36h1v1h-1zM40 37h1v1h-1zM18 38h1v1h-1zM34 38h1v1h-1zM47 38h1v1h-1zM47 41h1v1h-1zM34 48h1v1h-1zM43 56h1v1h-1zM72 56h1v1h-1zM42 57h1v1h-1zM46 57h1v1h-1zM21 60h1v1h-1zM30 60h1v1h-1zM45 60h1v1h-1zM91 60h1v1h-1zM71 61h1v1h-1zM97 61h1v1h-1zM102 61h1v1h-1zM114 61h1v1h-1z"/>
<path fill="#ffcfbf" d="M38 1h1v1h-1zM5 2h1v1h-1zM90 2h1v1h-1zM107 2h1v1h-1zM0 3h1v1h-1zM22 3h1v1h-1zM30 3h1v1h-1zM33 3h2v1h-2zM38 3h1v1h-1zM66 3h1v1h-1zM98 3h1v1h-1zM109 5h1v1h-1zM4 6h1v1h-1zM66 6h1v1h-1zM26 7h3v1h-3zM40 7h1v1h-1zM43 7h1v1h-1zM49 7h1v1h-1zM53 7h1v1h-1zM60 7h1v1h-1zM72 7h1v1h-1zM102 7h1v1h-1zM109 7h1v1h-1zM114 8h1v1h-1zM9 9h1v1h-1zM18 9h1v1h-1zM21 9h3v1h-3zM30 9h1v1h-1zM36 9h1v1h-1zM68 9h1v1h-1zM84 9h1v1h-1zM102 9h1v1h-1zM122 9h1v1h-1zM7 10h1v1h-1zM14 11h1v1h-1zM17 11h1v1h-1zM33 11h1v1h-1zM47 11h1v1h-1zM52 11h1v1h-1zM67 11h1v1h-1zM69 11h1v1h-1zM83 11h1v1h-1zM88 11h1v1h-1zM96 11h1v1h-1zM119 11h1v1h-1zM29 12h1v1h-1zM122 12h1v1h-1zM16 13h1v1h-1zM23 13h1v1h-1zM27 13h1v1h-1zM56 13h1v1h-1zM64 13h1v1h-1zM73 13h1v1h-1zM80 13h1v1h-1zM96 13h1v1h-1zM107 13h1v1h-1zM109 13h1v1h-1zM14 14h1v1h-1zM28 14h1v1h-1zM34 14h1v1h-1zM67 14h2v1h-2zM88 14h1v1h-1zM94 14h1v1h-1zM97 14h1v1h-1zM6 15h1v1h-1zM14 15h1v1h-1zM60 15h1v1h-1zM115 15h1v1h-1zM63 16h1v1h-1zM15 17h2v1h-2zM49 17h1v1h-1zM63 17h1v1h-1zM65 17h1v1h-1zM26 18h1v1h-1zM44 18h1v1h-1zM74 18h1v1h-1zM81 18h1v1h-1zM92 18h1v1h-1zM118 18h1v1h-1zM51 20h1v1h-1zM73 20h1v1h-1zM4 21h1v1h-1zM25 21h1v1h-1zM28 21h1v1h-1zM31 21h2v1h-2zM54 21h1v1h-1zM64 21h2v1h-2zM73 21h1v1h-1zM77 21h1v1h-1zM79 21h1v1h-1zM82 21h1v1h-1zM100 21h1v1h-1zM121 21h2v1h-2zM34 22h1v1h-1zM70 22h1v1h-1zM112 22h1v1h-1zM119 22h1v1h-1zM27 23h1v1h-1zM52 23h1v1h-1zM64 23h1v1h-1zM67 23h1v1h-1zM72 23h1v1h-1zM82 23h1v1h-1zM109 23h1v1h-1zM97 25h2v1h-2zM67 26h1v1h-1zM63 27h1v1h-1zM1 28h1v1h-1zM11 28h1v1h-1zM21 28h1v1h-1zM74 28h1v1h-1zM5 29h1v1h-1zM26 29h1v1h-1zM28 29h2v1h-2zM32 29h1v1h-1zM48 29h1v1h-1zM55 29h1v1h-1zM68 29h1v1h-1zM70 29h1v1h-1zM86 29h1v1h-1zM95 29h1v1h-1zM97 29h1v1h-1zM100 29h1v1h-1zM103 29h1v1h-1zM13 30h1v1h-1zM17 30h1v1h-1zM29 30h1v1h-1zM32 30h1v1h-1zM41 30h1v1h-1zM43 30h1v1h-1zM61 30h1v1h-1zM75 30h1v1h-1zM78 30h1v1h-1zM90 30h1v1h-1zM102 30h1v1h-1zM116 30h1v1h-1zM118 30h1v1h-1zM6 31h1v1h-1zM20 31h1v1h-1zM27 31h1v1h-1zM107 31h1v1h-1zM8 32h1v1h-1zM22 32h1v1h-1zM25 32h1v1h-1zM54 32h1v1h-1zM13 33h2v1h-2zM22 33h4v1h-4zM42 33h1v1h-1zM63 33h1v1h-1zM68 33h2v1h-2zM73 33h1v1h-1zM79 33h2v1h-2zM87 33h1v1h-1zM89 33h1v1h-1zM99 33h1v1h-1zM101 33h1v1h-1zM106 33h2v1h-2zM118 33h1v1h-1zM121 33h1v1h-1zM19 36h2v1h-2zM22 36h1v1h-1zM32 36h1v1h-1zM34 36h1v1h-1zM45 36h2v1h-2zM48 36h1v1h-1zM72 36h1v1h-1zM95 36h1v1h-1zM100 36h1v1h-1zM102 36h2v1h-2zM110 36h1v1h-1zM113 36h1v1h-1zM121 36h1v1h-1zM0 37h1v1h-1zM46 37h1v1h-1zM118 37h1v1h-1zM4 38h1v1h-1zM17 38h1v1h-1zM19 38h1v1h-1zM26 38h1v1h-1zM36 38h1v1h-1zM39 38h1v1h-1zM109 38h1v1h-1zM114 38h1v1h-1zM32 40h1v1h-1zM84 40h1v1h-1zM97 40h1v1h-1zM83 43h1v1h-1zM108 43h1v1h-1zM5 47h1v1h-1zM8 47h1v1h-1zM112 49h2v1h-2zM100 50h1v1h-1zM60 54h1v1h-1zM64 54h1v1h-1zM75 54h1v1h-1zM82 54h1v1h-1zM99 54h1v1h-1zM101 54h1v1h-1zM107 54h1v1h-1zM119 54h1v1h-1zM43 55h1v1h-1zM103 55h1v1h-1zM19 56h2v1h-2zM27 56h1v1h-1zM37 56h1v1h-1zM58 56h2v1h-2zM71 56h1v1h-1zM84 56h2v1h-2zM88 56h1v1h-1zM93 56h1v1h-1zM103 56h1v1h-1zM109 56h1v1h-1zM6 57h1v1h-1zM13 57h1v1h-1zM16 57h1v1h-1zM61 57h1v1h-1zM79 57h1v1h-1zM83 57h2v1h-2zM87 57h1v1h-1zM93 57h1v1h-1zM112 57h1v1h-1zM61 58h1v1h-1zM65 58h1v1h-1zM67 58h1v1h-1zM106 58h1v1h-1zM120 58h1v1h-1zM13 59h1v1h-1zM56 59h2v1h-2zM120 59h1v1h-1zM32 60h1v1h-1zM34 60h1v1h-1zM48 60h1v1h-1zM59 60h1v1h-1zM111 60h1v1h-1zM118 60h1v1h-1zM9 61h1v1h-1zM13 61h1v1h-1zM17 61h1v1h-1zM40 61h1v1h-1zM45 61h1v1h-1zM51 61h1v1h-1zM53 61h1v1h-1zM67 61h1v1h-1zM69 61h1v1h-1zM91 61h1v1h-1zM96 61h1v1h-1zM98 61h1v1h-1zM120 61h1v1h-1z"/>
<path fill="#ffc6b2" d="M58 0h1v1h-1zM98 0h1v1h-1zM84 1h1v1h-1zM99 1h1v1h-1zM110 1h1v1h-1zM8 3h1v1h-1zM10 3h1v1h-1zM13 3h1v1h-1zM72 3h1v1h-1zM90 3h1v1h-1zM95 3h1v1h-1zM100 3h1v1h-1zM110 3h1v1h-1zM60 5h1v1h-1zM80 5h1v1h-1zM89 6h1v1h-1zM92 6h1v1h-1zM3 7h1v1h-1zM6 7h1v1h-1zM10 7h1v1h-1zM15 7h1v1h-1zM21 7h2v1h-2zM47 7h1v1h-1zM54 7h2v1h-2zM74 7h1v1h-1zM79 7h1v1h-1zM106 7h1v1h-1zM41 8h1v1h-1zM112 8h1v1h-1zM10 9h2v1h-2zM31 9h1v1h-1zM34 9h1v1h-1zM48 9h1v1h-1zM75 9h1v1h-1zM94 9h2v1h-2zM99 9h1v1h-1zM111 9h1v1h-1zM16 10h1v1h-1zM91 10h1v1h-1zM111 10h1v1h-1zM114 10h1v1h-1zM7 11h1v1h-1zM9 11h1v1h-1zM11 11h1v1h-1zM16 11h1v1h-1zM21 11h1v1h-1zM28 11h1v1h-1zM41 11h1v1h-1zM49 11h1v1h-1zM55 11h1v1h-1zM58 11h1v1h-1zM74 11h1v1h-1zM87 11h1v1h-1zM93 11h1v1h-1zM99 11h1v1h-1zM101 11h1v1h-1zM103 11h1v1h-1zM108 11h1v1h-1zM114 11h1v1h-1zM117 11h1v1h-1zM73 12h1v1h-1zM3 13h1v1h-1zM29 13h1v1h-1zM31 13h1v1h-1zM35 13h2v1h-2zM38 13h1v1h-1zM40 13h1v1h-1zM67 13h1v1h-1zM74 13h1v1h-1zM83 13h1v1h-1zM100 13h1v1h-1zM120 13h1v1h-1zM29 14h1v1h-1zM49 14h1v1h-1zM66 14h1v1h-1zM69 14h1v1h-1zM75 14h1v1h-1zM82 14h1v1h-1zM31 15h1v1h-1zM35 15h1v1h-1zM68 15h1v1h-1zM91 15h1v1h-1zM108 15h1v1h-1zM82 17h1v1h-1zM107 17h1v1h-1zM45 18h1v1h-1zM95 18h1v1h-1zM56 20h1v1h-1zM72 20h1v1h-1zM75 20h1v1h-1zM89 20h1v1h-1zM106 20h1v1h-1zM111 20h1v1h-1zM0 21h1v1h-1zM6 21h1v1h-1zM9 21h1v1h-1zM17 21h1v1h-1zM19 21h1v1h-1zM33 21h1v1h-1zM48 21h1v1h-1zM50 21h1v1h-1zM58 21h1v1h-1zM67 21h1v1h-1zM78 21h1v1h-1zM90 21h1v1h-1zM106 21h1v1h-1zM111 21h1v1h-1zM71 22h1v1h-1zM94 22h2v1h-2zM37 23h1v1h-1zM85 23h1v1h-1zM120 23h1v1h-1zM66 26h1v1h-1zM99 26h1v1h-1zM48 27h1v1h-1zM58 27h1v1h-1zM93 27h2v1h-2zM10 28h1v1h-1zM44 28h1v1h-1zM58 28h1v1h-1zM70 28h1v1h-1zM93 28h1v1h-1zM11 29h1v1h-1zM18 29h1v1h-1zM24 29h1v1h-1zM36 29h2v1h-2zM69 29h1v1h-1zM75 29h1v1h-1zM99 29h1v1h-1zM105 29h1v1h-1zM112 29h1v1h-1zM0 30h1v1h-1zM15 30h1v1h-1zM26 30h1v1h-1zM38 30h1v1h-1zM53 30h1v1h-1zM99 30h2v1h-2zM114 30h1v1h-1zM5 31h1v1h-1zM23 31h2v1h-2zM62 31h1v1h-1zM65 31h1v1h-1zM79 31h1v1h-1zM82 31h1v1h-1zM84 31h1v1h-1zM89 31h1v1h-1zM94 31h1v1h-1zM108 31h1v1h-1zM118 31h1v1h-1zM122 31h1v1h-1zM6 32h1v1h-1zM11 32h1v1h-1zM31 32h1v1h-1zM78 32h1v1h-1zM89 32h1v1h-1zM96 32h1v1h-1zM1 33h1v1h-1zM3 33h1v1h-1zM31 33h1v1h-1zM35 33h1v1h-1zM44 33h1v1h-1zM57 33h1v1h-1zM13 36h2v1h-2zM21 36h1v1h-1zM42 36h1v1h-1zM47 36h1v1h-1zM57 36h2v1h-2zM60 36h1v1h-1zM75 36h1v1h-1zM93 36h1v1h-1zM101 36h1v1h-1zM108 36h1v1h-1zM116 36h1v1h-1zM36 37h1v1h-1zM44 37h2v1h-2zM88 37h1v1h-1zM90 37h1v1h-1zM92 37h1v1h-1zM107 37h1v1h-1zM109 37h1v1h-1zM5 38h1v1h-1zM13 38h1v1h-1zM25 38h1v1h-1zM29 38h1v1h-1zM37 38h1v1h-1zM52 38h1v1h-1zM60 38h1v1h-1zM69 38h1v1h-1zM72 38h1v1h-1zM74 38h1v1h-1zM89 38h1v1h-1zM102 38h1v1h-1zM121 38h1v1h-1zM33 40h1v1h-1zM86 40h1v1h-1zM57 41h1v1h-1zM94 41h1v1h-1zM35 46h1v1h-1zM6 47h1v1h-1zM22 47h1v1h-1zM53 47h1v1h-1zM53 48h1v1h-1zM7 49h1v1h-1zM51 49h1v1h-1zM95 49h1v1h-1zM118 49h1v1h-1zM99 50h1v1h-1zM100 51h1v1h-1zM45 54h2v1h-2zM86 54h1v1h-1zM108 54h1v1h-1zM115 54h1v1h-1zM22 56h1v1h-1zM29 56h1v1h-1zM40 56h1v1h-1zM62 56h1v1h-1zM83 56h1v1h-1zM92 56h1v1h-1zM104 56h2v1h-2zM113 56h2v1h-2zM121 56h2v1h-2zM32 57h1v1h-1zM35 57h1v1h-1zM78 57h1v1h-1zM81 57h1v1h-1zM100 57h1v1h-1zM106 57h1v1h-1zM108 57h1v1h-1zM120 57h3v1h-3zM4 58h2v1h-2zM45 58h1v1h-1zM79 58h1v1h-1zM99 58h1v1h-1zM102 58h1v1h-1zM87 59h1v1h-1zM102 59h1v1h-1zM121 59h2v1h-2zM20 60h1v1h-1zM52 60h1v1h-1zM67 60h1v1h-1zM72 60h1v1h-1zM75 60h2v1h-2zM81 60h1v1h-1zM92 60h1v1h-1zM105 60h1v1h-1zM26 61h1v1h-1zM39 61h1v1h-1zM42 61h1v1h-1zM46 61h1v1h-1zM59 61h1v1h-1zM68 61h1v1h-1zM83 61h1v1h-1zM105 61h1v1h-1zM115 61h1v1h-1zM121 61h1v1h-1z"/>
<path fill="#ffbca6" d="M9 1h1v1h-1zM112 1h1v1h-1zM21 3h1v1h-1zM36 3h1v1h-1zM102 3h1v1h-1zM28 4h1v1h-1zM4 5h1v1h-1zM37 5h1v1h-1zM49 5h1v1h-1zM110 5h1v1h-1zM3 6h1v1h-1zM109 6h1v1h-1zM58 7h1v1h-1zM84 7h1v1h-1zM89 7h1v1h-1zM105 7h1v1h-1zM25 9h1v1h-1zM33 9h1v1h-1zM64 9h1v1h-1zM79 9h1v1h-1zM81 9h1v1h-1zM85 9h1v1h-1zM104 9h1v1h-1zM121 9h1v1h-1zM5 10h1v1h-1zM12 10h1v1h-1zM17 10h1v1h-1zM51 11h1v1h-1zM57 11h1v1h-1zM80 11h1v1h-1zM98 11h1v1h-1zM60 12h1v1h-1zM4 13h1v1h-1zM22 13h1v1h-1zM46 13h1v1h-1zM98 13h2v1h-2zM119 15h1v1h-1zM57 17h1v1h-1zM8 18h1v1h-1zM27 18h1v1h-1zM39 18h1v1h-1zM104 20h1v1h-1zM15 21h1v1h-1zM38 21h1v1h-1zM44 21h1v1h-1zM80 21h1v1h-1zM94 21h1v1h-1zM104 21h1v1h-1zM109 21h1v1h-1zM119 21h1v1h-1zM66 22h1v1h-1zM6 23h1v1h-1zM52 24h1v1h-1zM105 24h1v1h-1zM59 27h1v1h-1zM103 27h1v1h-1zM103 28h1v1h-1zM2 29h1v1h-1zM4 29h1v1h-1zM6 29h1v1h-1zM34 29h1v1h-1zM63 29h1v1h-1zM83 29h1v1h-1zM98 29h1v1h-1zM122 29h1v1h-1zM56 30h1v1h-1zM72 30h1v1h-1zM95 30h1v1h-1zM111 30h1v1h-1zM9 31h1v1h-1zM12 31h1v1h-1zM15 31h2v1h-2zM25 31h1v1h-1zM38 31h1v1h-1zM80 31h2v1h-2zM91 31h3v1h-3zM96 31h1v1h-1zM99 31h1v1h-1zM28 32h1v1h-1zM49 32h1v1h-1zM76 32h1v1h-1zM93 32h1v1h-1zM0 33h1v1h-1zM83 33h1v1h-1zM104 33h1v1h-1zM109 33h1v1h-1zM1 36h1v1h-1zM16 36h1v1h-1zM24 36h1v1h-1zM41 36h1v1h-1zM52 36h1v1h-1zM55 36h2v1h-2zM68 36h1v1h-1zM70 36h1v1h-1zM77 36h1v1h-1zM85 36h1v1h-1zM93 37h1v1h-1zM0 38h2v1h-2zM12 38h1v1h-1zM27 38h1v1h-1zM38 38h1v1h-1zM46 38h1v1h-1zM48 38h1v1h-1zM75 38h1v1h-1zM86 38h1v1h-1zM90 38h1v1h-1zM34 40h1v1h-1zM85 40h1v1h-1zM98 40h1v1h-1zM4 50h1v1h-1zM26 50h1v1h-1zM35 50h1v1h-1zM101 50h2v1h-2zM119 51h1v1h-1zM83 52h1v1h-1zM118 52h1v1h-1zM117 53h1v1h-1zM4 54h1v1h-1zM13 54h1v1h-1zM39 54h1v1h-1zM117 54h1v1h-1zM0 56h1v1h-1zM30 56h1v1h-1zM34 56h1v1h-1zM61 56h1v1h-1zM63 56h1v1h-1zM65 56h2v1h-2zM76 56h1v1h-1zM108 56h1v1h-1zM43 57h1v1h-1zM51 57h1v1h-1zM77 57h1v1h-1zM88 57h1v1h-1zM101 57h1v1h-1zM113 57h1v1h-1zM72 58h1v1h-1zM90 58h1v1h-1zM115 58h1v1h-1zM22 59h1v1h-1zM83 59h1v1h-1zM88 59h1v1h-1zM6 60h1v1h-1zM13 60h1v1h-1zM26 60h1v1h-1zM38 60h1v1h-1zM40 60h1v1h-1zM42 60h1v1h-1zM62 60h1v1h-1zM71 60h1v1h-1zM78 60h1v1h-1zM80 60h1v1h-1zM0 61h1v1h-1zM11 61h1v1h-1zM18 61h1v1h-1zM44 61h1v1h-1zM47 61h1v1h-1zM50 61h1v1h-1zM64 61h1v1h-1z"/>
<path fill="#ff9e81" d="M32 1h1v1h-1zM96 1h1v1h-1zM108 1h2v1h-2zM42 2h1v1h-1zM46 2h1v1h-1zM59 2h1v1h-1zM68 2h1v1h-1zM79 2h1v1h-1zM1 3h1v1h-1zM27 3h1v1h-1zM42 3h1v1h-1zM67 3h1v1h-1zM69 3h1v1h-1zM89 3h1v1h-1zM91 3h1v1h-1zM23 4h1v1h-1zM64 4h1v1h-1zM17 6h1v1h-1zM32 6h1v1h-1zM41 6h1v1h-1zM73 6h1v1h-1zM63 7h1v1h-1zM115 7h1v1h-1zM83 10h1v1h-1zM4 11h1v1h-1zM59 11h1v1h-1zM85 11h1v1h-1zM2 13h1v1h-1zM11 13h1v1h-1zM19 13h1v1h-1zM24 13h1v1h-1zM84 13h1v1h-1zM86 13h2v1h-2zM91 13h1v1h-1zM101 13h1v1h-1zM24 14h1v1h-1zM31 14h1v1h-1zM63 14h1v1h-1zM79 14h1v1h-1zM96 14h1v1h-1zM99 14h1v1h-1zM2 15h1v1h-1zM59 15h1v1h-1zM71 15h1v1h-1zM80 16h1v1h-1zM32 17h1v1h-1zM59 17h2v1h-2zM36 18h1v1h-1zM20 20h1v1h-1zM57 20h1v1h-1zM78 20h1v1h-1zM8 21h1v1h-1zM23 21h1v1h-1zM37 21h1v1h-1zM42 21h1v1h-1zM66 21h1v1h-1zM68 21h2v1h-2zM88 21h1v1h-1zM98 21h1v1h-1zM23 22h1v1h-1zM23 23h1v1h-1zM70 23h1v1h-1zM9 24h1v1h-1zM24 25h1v1h-1zM104 25h1v1h-1zM7 28h1v1h-1zM9 28h1v1h-1zM101 28h1v1h-1zM9 29h1v1h-1zM51 29h1v1h-1zM79 29h1v1h-1zM92 29h1v1h-1zM101 29h1v1h-1zM104 29h1v1h-1zM115 29h1v1h-1zM117 29h1v1h-1zM120 29h1v1h-1zM19 30h1v1h-1zM39 30h1v1h-1zM51 30h1v1h-1zM81 30h2v1h-2zM88 30h1v1h-1zM8 31h1v1h-1zM14 31h1v1h-1zM26 31h1v1h-1zM30 31h2v1h-2zM45 31h1v1h-1zM52 31h1v1h-1zM69 31h1v1h-1zM75 31h1v1h-1zM77 31h1v1h-1zM85 31h1v1h-1zM88 31h1v1h-1zM111 31h1v1h-1zM115 31h1v1h-1zM106 32h1v1h-1zM117 32h1v1h-1zM6 33h1v1h-1zM8 33h1v1h-1zM61 33h2v1h-2zM67 33h1v1h-1zM76 33h1v1h-1zM114 33h1v1h-1zM2 36h1v1h-1zM15 36h1v1h-1zM26 36h2v1h-2zM33 36h1v1h-1zM64 36h1v1h-1zM96 36h1v1h-1zM114 36h1v1h-1zM67 37h1v1h-1zM105 37h1v1h-1zM113 37h1v1h-1zM56 38h1v1h-1zM79 38h1v1h-1zM85 38h1v1h-1zM105 38h1v1h-1zM107 38h2v1h-2zM111 38h1v1h-1zM115 38h1v1h-1zM120 38h1v1h-1zM6 41h1v1h-1zM120 41h1v1h-1zM23 49h1v1h-1zM52 54h1v1h-1zM62 54h2v1h-2zM67 54h1v1h-1zM87 54h1v1h-1zM109 54h1v1h-1zM2 56h1v1h-1zM49 56h2v1h-2zM52 56h1v1h-1zM68 56h1v1h-1zM74 56h1v1h-1zM101 56h1v1h-1zM112 56h1v1h-1zM118 56h1v1h-1zM54 57h1v1h-1zM58 57h1v1h-1zM64 57h1v1h-1zM75 57h1v1h-1zM103 57h1v1h-1zM119 57h1v1h-1zM69 58h1v1h-1zM100 58h1v1h-1zM0 59h1v1h-1zM16 59h2v1h-2zM28 59h1v1h-1zM47 59h1v1h-1zM1 60h1v1h-1zM7 60h1v1h-1zM53 60h1v1h-1zM82 60h1v1h-1zM89 60h1v1h-1zM95 60h1v1h-1zM97 60h1v1h-1zM100 60h1v1h-1zM109 60h1v1h-1zM7 61h2v1h-2zM37 61h1v1h-1zM101 61h1v1h-1zM104 61h1v1h-1zM106 61h1v1h-1zM116 61h1v1h-1z"/>
<path fill="#ff9475" d="M19 0h1v1h-1zM67 0h1v1h-1zM92 1h1v1h-1zM100 1h1v1h-1zM8 2h1v1h-1zM18 2h1v1h-1zM20 2h1v1h-1zM72 2h1v1h-1zM87 2h1v1h-1zM20 3h1v1h-1zM53 3h1v1h-1zM79 3h1v1h-1zM82 3h1v1h-1zM112 3h1v1h-1zM114 3h1v1h-1zM119 3h1v1h-1zM121 4h1v1h-1zM23 6h1v1h-1zM77 6h1v1h-1zM24 7h1v1h-1zM68 7h1v1h-1zM81 7h1v1h-1zM98 7h1v1h-1zM100 7h2v1h-2zM112 7h1v1h-1zM116 7h1v1h-1zM46 8h1v1h-1zM24 9h1v1h-1zM55 9h1v1h-1zM87 9h1v1h-1zM67 10h1v1h-1zM90 10h1v1h-1zM115 10h1v1h-1zM15 11h1v1h-1zM32 11h1v1h-1zM35 11h1v1h-1zM50 11h1v1h-1zM68 11h1v1h-1zM107 11h1v1h-1zM120 11h1v1h-1zM74 12h1v1h-1zM1 13h1v1h-1zM12 13h1v1h-1zM14 13h1v1h-1zM26 13h1v1h-1zM55 13h1v1h-1zM62 13h1v1h-1zM65 13h1v1h-1zM76 13h1v1h-1zM78 13h1v1h-1zM85 13h1v1h-1zM97 13h1v1h-1zM112 13h1v1h-1zM117 13h1v1h-1zM22 14h2v1h-2zM39 14h1v1h-1zM101 14h1v1h-1zM118 14h1v1h-1zM36 15h2v1h-2zM47 15h1v1h-1zM118 16h1v1h-1zM40 17h1v1h-1zM47 17h1v1h-1zM50 17h1v1h-1zM66 17h1v1h-1zM87 17h1v1h-1zM35 18h1v1h-1zM38 18h1v1h-1zM7 20h1v1h-1zM16 20h1v1h-1zM1 21h1v1h-1zM13 21h1v1h-1zM21 21h1v1h-1zM47 21h1v1h-1zM55 21h1v1h-1zM99 21h1v1h-1zM15 22h1v1h-1zM36 22h1v1h-1zM63 22h2v1h-2zM83 22h1v1h-1zM104 22h1v1h-1zM12 23h1v1h-1zM45 23h1v1h-1zM79 23h1v1h-1zM116 23h1v1h-1zM25 25h1v1h-1zM105 25h1v1h-1zM116 25h1v1h-1zM5 28h1v1h-1zM36 28h1v1h-1zM78 28h1v1h-1zM80 28h1v1h-1zM100 28h1v1h-1zM102 28h1v1h-1zM23 29h1v1h-1zM52 29h1v1h-1zM54 29h1v1h-1zM67 29h1v1h-1zM88 29h3v1h-3zM94 29h1v1h-1zM102 29h1v1h-1zM111 29h1v1h-1zM4 30h2v1h-2zM11 30h1v1h-1zM23 30h1v1h-1zM40 30h1v1h-1zM44 30h1v1h-1zM47 30h2v1h-2zM113 30h1v1h-1zM115 30h1v1h-1zM117 30h1v1h-1zM120 30h3v1h-3zM3 31h1v1h-1zM19 31h1v1h-1zM22 31h1v1h-1zM34 31h1v1h-1zM46 31h1v1h-1zM49 31h2v1h-2zM56 31h1v1h-1zM66 31h2v1h-2zM74 31h1v1h-1zM95 31h1v1h-1zM116 31h1v1h-1zM90 32h1v1h-1zM98 32h3v1h-3zM9 33h1v1h-1zM15 33h1v1h-1zM19 33h1v1h-1zM39 33h1v1h-1zM41 33h1v1h-1zM65 33h1v1h-1zM102 33h1v1h-1zM113 33h1v1h-1zM120 33h1v1h-1zM0 36h1v1h-1zM6 36h1v1h-1zM17 36h1v1h-1zM65 36h1v1h-1zM69 36h1v1h-1zM82 36h1v1h-1zM99 36h1v1h-1zM107 36h1v1h-1zM111 36h2v1h-2zM122 36h1v1h-1zM21 37h1v1h-1zM27 37h1v1h-1zM39 37h1v1h-1zM94 37h1v1h-1zM64 38h1v1h-1zM70 38h1v1h-1zM78 38h1v1h-1zM82 38h2v1h-2zM87 38h1v1h-1zM100 38h1v1h-1zM117 38h1v1h-1zM119 38h1v1h-1zM1 41h1v1h-1zM79 41h1v1h-1zM24 49h1v1h-1zM30 50h1v1h-1zM122 50h1v1h-1zM2 54h1v1h-1zM5 54h2v1h-2zM27 54h1v1h-1zM36 54h1v1h-1zM40 54h1v1h-1zM50 54h1v1h-1zM53 54h1v1h-1zM65 54h1v1h-1zM72 54h1v1h-1zM93 54h2v1h-2zM103 54h1v1h-1zM106 54h1v1h-1zM9 56h1v1h-1zM32 56h1v1h-1zM69 56h1v1h-1zM91 56h1v1h-1zM8 57h1v1h-1zM22 57h3v1h-3zM34 57h1v1h-1zM41 57h1v1h-1zM45 57h1v1h-1zM65 57h1v1h-1zM76 57h1v1h-1zM86 57h1v1h-1zM94 57h1v1h-1zM97 57h1v1h-1zM104 57h2v1h-2zM117 57h1v1h-1zM41 58h1v1h-1zM68 58h1v1h-1zM83 58h1v1h-1zM98 58h1v1h-1zM12 59h1v1h-1zM2 60h1v1h-1zM15 60h1v1h-1zM19 60h1v1h-1zM47 60h1v1h-1zM50 60h2v1h-2zM55 60h1v1h-1zM64 60h3v1h-3zM87 60h2v1h-2zM101 60h1v1h-1zM110 60h1v1h-1zM113 60h1v1h-1zM116 60h1v1h-1zM121 60h1v1h-1zM3 61h1v1h-1zM23 61h1v1h-1zM87 61h2v1h-2zM110 61h2v1h-2zM117 61h1v1h-1z"/>
<path fill="#ff8969" d="M10 1h1v1h-1zM45 1h1v1h-1zM66 1h1v1h-1zM70 1h1v1h-1zM77 1h1v1h-1zM101 1h2v1h-2zM119 1h1v1h-1zM7 2h1v1h-1zM13 2h1v1h-1zM19 2h1v1h-1zM97 2h2v1h-2zM102 2h1v1h-1zM121 2h1v1h-1zM2 3h2v1h-2zM14 3h1v1h-1zM23 3h2v1h-2zM29 3h1v1h-1zM32 3h1v1h-1zM64 3h1v1h-1zM68 3h1v1h-1zM75 3h1v1h-1zM78 3h1v1h-1zM115 3h1v1h-1zM19 4h2v1h-2zM73 4h1v1h-1zM97 4h1v1h-1zM120 4h1v1h-1zM68 5h1v1h-1zM94 5h1v1h-1zM18 6h1v1h-1zM22 6h1v1h-1zM60 6h1v1h-1zM91 6h1v1h-1zM108 6h1v1h-1zM23 7h1v1h-1zM75 7h1v1h-1zM77 7h1v1h-1zM95 7h1v1h-1zM110 7h2v1h-2zM45 8h1v1h-1zM86 8h1v1h-1zM88 8h1v1h-1zM20 9h1v1h-1zM32 9h1v1h-1zM65 9h1v1h-1zM109 9h2v1h-2zM21 10h1v1h-1zM56 10h1v1h-1zM85 10h1v1h-1zM34 11h1v1h-1zM40 11h1v1h-1zM54 11h1v1h-1zM63 11h1v1h-1zM66 11h1v1h-1zM75 11h1v1h-1zM77 11h1v1h-1zM89 11h4v1h-4zM95 11h1v1h-1zM97 11h1v1h-1zM100 11h1v1h-1zM113 11h1v1h-1zM122 11h1v1h-1zM22 12h1v1h-1zM102 12h1v1h-1zM25 13h1v1h-1zM42 13h1v1h-1zM59 13h1v1h-1zM113 13h1v1h-1zM81 14h1v1h-1zM10 15h1v1h-1zM27 15h1v1h-1zM38 15h1v1h-1zM42 15h1v1h-1zM95 15h2v1h-2zM14 17h1v1h-1zM44 17h1v1h-1zM33 18h1v1h-1zM51 18h1v1h-1zM39 20h1v1h-1zM42 20h1v1h-1zM55 20h1v1h-1zM116 20h1v1h-1zM2 21h1v1h-1zM20 21h1v1h-1zM24 21h1v1h-1zM30 21h1v1h-1zM36 21h1v1h-1zM46 21h1v1h-1zM57 21h1v1h-1zM62 21h1v1h-1zM71 21h1v1h-1zM83 21h2v1h-2zM91 21h1v1h-1zM107 21h1v1h-1zM113 21h1v1h-1zM0 22h1v1h-1zM62 22h1v1h-1zM65 22h1v1h-1zM96 22h1v1h-1zM0 23h1v1h-1zM7 23h1v1h-1zM13 23h1v1h-1zM21 23h1v1h-1zM46 23h1v1h-1zM62 23h1v1h-1zM65 23h1v1h-1zM77 23h1v1h-1zM89 23h1v1h-1zM112 23h2v1h-2zM7 24h2v1h-2zM12 27h1v1h-1zM86 27h1v1h-1zM0 28h1v1h-1zM6 28h1v1h-1zM19 28h1v1h-1zM25 28h2v1h-2zM56 28h1v1h-1zM116 28h1v1h-1zM16 29h1v1h-1zM25 29h1v1h-1zM30 29h1v1h-1zM43 29h1v1h-1zM50 29h1v1h-1zM87 29h1v1h-1zM96 29h1v1h-1zM119 29h1v1h-1zM1 30h1v1h-1zM45 30h1v1h-1zM57 30h1v1h-1zM110 30h1v1h-1zM119 30h1v1h-1zM0 31h1v1h-1zM17 31h1v1h-1zM21 31h1v1h-1zM29 31h1v1h-1zM43 31h2v1h-2zM53 31h1v1h-1zM59 31h1v1h-1zM117 31h1v1h-1zM18 32h1v1h-1zM91 32h2v1h-2zM2 33h1v1h-1zM4 33h2v1h-2zM34 33h1v1h-1zM40 33h1v1h-1zM50 33h2v1h-2zM56 33h1v1h-1zM66 33h1v1h-1zM74 33h2v1h-2zM97 33h1v1h-1zM108 33h1v1h-1zM112 33h1v1h-1zM115 33h1v1h-1zM4 36h1v1h-1zM38 36h1v1h-1zM43 36h1v1h-1zM66 36h1v1h-1zM78 36h1v1h-1zM57 37h1v1h-1zM68 37h1v1h-1zM102 37h1v1h-1zM7 38h1v1h-1zM50 38h2v1h-2zM58 38h1v1h-1zM76 38h2v1h-2zM84 38h1v1h-1zM96 38h4v1h-4zM101 38h1v1h-1zM116 38h1v1h-1zM7 41h1v1h-1zM105 43h2v1h-2zM44 49h1v1h-1zM102 49h1v1h-1zM5 50h1v1h-1zM27 50h1v1h-1zM44 50h1v1h-1zM69 50h1v1h-1zM116 50h1v1h-1zM7 54h3v1h-3zM20 54h1v1h-1zM23 54h1v1h-1zM49 54h1v1h-1zM51 54h1v1h-1zM68 54h1v1h-1zM70 54h1v1h-1zM79 54h1v1h-1zM92 54h1v1h-1zM105 54h1v1h-1zM120 54h1v1h-1zM122 54h1v1h-1zM3 56h1v1h-1zM18 56h1v1h-1zM28 56h1v1h-1zM51 56h1v1h-1zM60 56h1v1h-1zM77 56h1v1h-1zM90 56h1v1h-1zM96 56h1v1h-1zM116 56h1v1h-1zM0 57h1v1h-1zM7 57h1v1h-1zM9 57h1v1h-1zM19 57h1v1h-1zM21 57h1v1h-1zM26 57h1v1h-1zM53 57h1v1h-1zM57 57h1v1h-1zM59 57h2v1h-2zM62 57h1v1h-1zM98 57h1v1h-1zM102 57h1v1h-1zM115 57h2v1h-2zM19 58h1v1h-1zM38 58h1v1h-1zM42 58h2v1h-2zM57 58h1v1h-1zM73 58h1v1h-1zM108 58h1v1h-1zM35 59h1v1h-1zM48 59h1v1h-1zM53 59h1v1h-1zM74 59h1v1h-1zM112 59h1v1h-1zM0 60h1v1h-1zM14 60h1v1h-1zM46 60h1v1h-1zM63 60h1v1h-1zM73 60h1v1h-1zM114 60h1v1h-1zM1 61h2v1h-2zM10 61h1v1h-1zM12 61h1v1h-1zM20 61h1v1h-1zM22 61h1v1h-1zM43 61h1v1h-1zM57 61h1v1h-1zM73 61h2v1h-2zM94 61h1v1h-1zM100 61h1v1h-1zM103 61h1v1h-1zM112 61h1v1h-1zM122 61h1v1h-1z"/>
<path fill="#ff7e5e" d="M53 0h1v1h-1zM30 2h1v1h-1zM36 6h1v1h-1zM67 7h1v1h-1zM76 7h1v1h-1zM60 11h1v1h-1zM80 14h1v1h-1zM119 14h1v1h-1zM89 18h1v1h-1zM79 20h1v1h-1zM107 20h1v1h-1zM56 21h1v1h-1zM74 21h1v1h-1zM44 25h1v1h-1zM58 25h1v1h-1zM20 30h1v1h-1zM4 31h1v1h-1zM28 31h1v1h-1zM46 32h1v1h-1zM8 36h1v1h-1zM84 36h1v1h-1zM1 54h1v1h-1zM42 54h1v1h-1zM97 56h1v1h-1zM49 57h1v1h-1zM24 61h1v1h-1zM109 61h1v1h-1z"/>
<path fill="#ff4d2e" d="M14 0h1v1h-1zM15 2h1v1h-1zM35 2h1v1h-1zM11 3h1v1h-1zM57 3h1v1h-1zM105 3h1v1h-1zM114 5h1v1h-1zM26 6h1v1h-1zM87 6h1v1h-1zM41 7h1v1h-1zM46 7h1v1h-1zM69 7h1v1h-1zM4 12h1v1h-1zM37 12h1v1h-1zM80 12h1v1h-1zM25 15h2v1h-2zM70 15h1v1h-1zM98 15h1v1h-1zM68 17h1v1h-1zM77 17h1v1h-1zM73 18h1v1h-1zM23 19h1v1h-1zM34 21h1v1h-1zM114 21h1v1h-1zM36 24h1v1h-1zM112 25h1v1h-1zM37 26h1v1h-1zM87 27h1v1h-1zM34 28h1v1h-1zM73 28h1v1h-1zM76 28h1v1h-1zM61 29h1v1h-1zM78 29h1v1h-1zM86 31h1v1h-1zM106 31h1v1h-1zM26 32h1v1h-1zM91 33h1v1h-1zM54 36h1v1h-1zM8 38h1v1h-1zM26 39h1v1h-1zM76 39h1v1h-1zM10 41h1v1h-1zM12 41h1v1h-1zM27 41h1v1h-1zM4 42h1v1h-1zM45 44h1v1h-1zM59 45h1v1h-1zM90 45h1v1h-1zM96 45h1v1h-1zM65 47h1v1h-1zM43 49h1v1h-1zM71 49h1v1h-1zM91 49h1v1h-1zM108 49h1v1h-1zM36 50h1v1h-1zM43 50h1v1h-1zM46 50h2v1h-2zM63 51h1v1h-1zM18 53h1v1h-1zM26 56h1v1h-1zM41 56h1v1h-1zM89 56h1v1h-1zM110 56h1v1h-1zM74 57h1v1h-1zM52 58h1v1h-1zM105 58h1v1h-1zM1 59h1v1h-1zM11 59h1v1h-1zM30 59h1v1h-1zM50 59h1v1h-1zM64 59h1v1h-1zM107 60h1v1h-1zM117 60h1v1h-1zM6 61h1v1h-1zM92 61h1v1h-1zM108 61h1v1h-1z"/>
<path fill="#ff3e22" d="M71 1h1v1h-1zM85 2h1v1h-1zM65 3h1v1h-1zM122 4h1v1h-1zM121 5h1v1h-1zM18 7h1v1h-1zM30 7h1v1h-1zM39 7h1v1h-1zM51 7h1v1h-1zM101 8h1v1h-1zM20 10h1v1h-1zM71 10h1v1h-1zM86 10h2v1h-2zM5 12h1v1h-1zM38 12h1v1h-1zM43 13h1v1h-1zM50 13h1v1h-1zM79 13h1v1h-1zM114 13h1v1h-1zM27 14h1v1h-1zM36 14h1v1h-1zM70 14h1v1h-1zM0 15h1v1h-1zM72 15h1v1h-1zM77 15h1v1h-1zM85 15h1v1h-1zM94 15h1v1h-1zM121 15h2v1h-2zM64 16h1v1h-1zM114 17h1v1h-1zM9 18h1v1h-1zM67 18h1v1h-1zM83 19h1v1h-1zM95 19h1v1h-1zM67 20h1v1h-1zM117 20h1v1h-1zM22 21h1v1h-1zM95 21h1v1h-1zM120 21h1v1h-1zM58 22h1v1h-1zM74 22h1v1h-1zM92 22h1v1h-1zM24 23h1v1h-1zM40 23h2v1h-2zM84 23h1v1h-1zM108 23h1v1h-1zM110 24h1v1h-1zM40 25h1v1h-1zM117 25h1v1h-1zM68 26h1v1h-1zM19 27h1v1h-1zM65 27h1v1h-1zM89 27h1v1h-1zM102 27h1v1h-1zM45 28h1v1h-1zM49 28h1v1h-1zM52 28h1v1h-1zM77 28h1v1h-1zM83 28h1v1h-1zM89 28h1v1h-1zM45 29h1v1h-1zM82 29h1v1h-1zM114 29h1v1h-1zM59 30h1v1h-1zM63 31h1v1h-1zM115 32h1v1h-1zM12 33h1v1h-1zM77 33h1v1h-1zM93 33h1v1h-1zM103 33h1v1h-1zM110 33h1v1h-1zM51 36h1v1h-1zM53 36h1v1h-1zM86 36h1v1h-1zM92 36h1v1h-1zM109 36h1v1h-1zM119 36h1v1h-1zM8 37h1v1h-1zM56 37h1v1h-1zM79 37h2v1h-2zM82 37h1v1h-1zM9 38h1v1h-1zM55 38h1v1h-1zM14 39h1v1h-1zM78 39h1v1h-1zM97 39h1v1h-1zM111 39h1v1h-1zM114 39h1v1h-1zM107 40h2v1h-2zM23 41h1v1h-1zM25 41h1v1h-1zM101 41h2v1h-2zM3 42h1v1h-1zM40 42h1v1h-1zM87 42h1v1h-1zM121 42h1v1h-1zM39 43h1v1h-1zM109 43h1v1h-1zM13 44h1v1h-1zM15 44h1v1h-1zM73 44h1v1h-1zM69 45h1v1h-1zM9 46h1v1h-1zM31 46h1v1h-1zM47 46h1v1h-1zM55 46h1v1h-1zM97 46h2v1h-2zM19 47h1v1h-1zM100 47h1v1h-1zM114 47h1v1h-1zM117 47h1v1h-1zM12 48h1v1h-1zM57 48h1v1h-1zM93 48h1v1h-1zM35 49h1v1h-1zM49 49h1v1h-1zM53 49h1v1h-1zM62 49h1v1h-1zM74 49h2v1h-2zM81 49h1v1h-1zM90 49h1v1h-1zM93 49h1v1h-1zM101 49h1v1h-1zM110 49h1v1h-1zM12 50h1v1h-1zM22 50h1v1h-1zM40 50h1v1h-1zM62 50h1v1h-1zM112 50h1v1h-1zM27 51h2v1h-2zM73 51h1v1h-1zM76 51h1v1h-1zM0 52h1v1h-1zM23 52h1v1h-1zM81 52h1v1h-1zM87 52h1v1h-1zM117 52h1v1h-1zM54 53h1v1h-1zM103 53h1v1h-1zM95 54h1v1h-1zM73 55h1v1h-1zM97 55h1v1h-1zM31 56h1v1h-1zM39 56h1v1h-1zM45 56h1v1h-1zM67 56h1v1h-1zM70 56h1v1h-1zM39 57h1v1h-1zM44 57h1v1h-1zM85 57h1v1h-1zM109 57h1v1h-1zM116 58h1v1h-1zM18 59h1v1h-1zM20 59h1v1h-1zM31 59h1v1h-1zM43 59h1v1h-1zM54 59h1v1h-1zM100 59h1v1h-1zM115 59h1v1h-1zM12 60h1v1h-1zM22 60h1v1h-1zM35 60h1v1h-1zM30 61h1v1h-1zM38 61h1v1h-1zM90 61h1v1h-1zM95 61h1v1h-1zM99 61h1v1h-1z"/>
<path fill="#ff2913" d="M64 0h1v1h-1zM89 0h1v1h-1zM119 0h1v1h-1zM41 2h1v1h-1zM39 3h1v1h-1zM117 3h1v1h-1zM117 4h1v1h-1zM3 5h1v1h-1zM111 5h1v1h-1zM10 6h1v1h-1zM97 7h1v1h-1zM73 8h1v1h-1zM119 8h1v1h-1zM38 9h1v1h-1zM54 9h1v1h-1zM1 10h1v1h-1zM11 10h1v1h-1zM54 10h1v1h-1zM36 12h1v1h-1zM65 12h1v1h-1zM100 12h1v1h-1zM15 14h1v1h-1zM32 15h1v1h-1zM52 15h1v1h-1zM33 17h1v1h-1zM74 17h1v1h-1zM25 18h1v1h-1zM29 18h1v1h-1zM56 18h1v1h-1zM59 18h1v1h-1zM96 18h1v1h-1zM20 19h1v1h-1zM55 19h1v1h-1zM102 19h1v1h-1zM49 20h1v1h-1zM52 20h1v1h-1zM102 20h1v1h-1zM49 21h1v1h-1zM63 21h1v1h-1zM14 22h1v1h-1zM44 22h1v1h-1zM88 22h1v1h-1zM28 23h1v1h-1zM32 23h1v1h-1zM47 23h1v1h-1zM76 23h1v1h-1zM119 23h1v1h-1zM47 24h1v1h-1zM51 24h1v1h-1zM80 24h1v1h-1zM89 24h1v1h-1zM107 24h1v1h-1zM13 25h2v1h-2zM29 25h1v1h-1zM92 25h1v1h-1zM96 25h1v1h-1zM90 26h1v1h-1zM49 27h1v1h-1zM79 28h1v1h-1zM38 29h1v1h-1zM71 29h1v1h-1zM93 29h1v1h-1zM62 30h1v1h-1zM87 30h1v1h-1zM93 30h1v1h-1zM18 31h1v1h-1zM54 31h1v1h-1zM57 31h1v1h-1zM119 31h2v1h-2zM19 32h1v1h-1zM34 32h1v1h-1zM112 32h1v1h-1zM116 32h1v1h-1zM119 32h1v1h-1zM11 33h1v1h-1zM48 33h1v1h-1zM52 33h1v1h-1zM88 33h1v1h-1zM9 36h1v1h-1zM23 36h1v1h-1zM88 36h1v1h-1zM118 36h1v1h-1zM7 37h1v1h-1zM18 37h1v1h-1zM41 37h1v1h-1zM47 37h1v1h-1zM66 37h1v1h-1zM70 37h1v1h-1zM117 37h1v1h-1zM88 38h1v1h-1zM3 39h1v1h-1zM22 39h1v1h-1zM42 39h1v1h-1zM75 39h1v1h-1zM113 39h1v1h-1zM29 40h1v1h-1zM95 40h1v1h-1zM11 41h1v1h-1zM26 41h1v1h-1zM78 41h1v1h-1zM91 41h1v1h-1zM103 41h1v1h-1zM15 42h3v1h-3zM33 42h1v1h-1zM73 42h1v1h-1zM15 43h1v1h-1zM50 43h1v1h-1zM62 43h1v1h-1zM99 46h1v1h-1zM104 46h1v1h-1zM56 47h1v1h-1zM72 47h1v1h-1zM103 47h1v1h-1zM107 47h1v1h-1zM6 48h1v1h-1zM14 48h1v1h-1zM29 48h1v1h-1zM66 48h1v1h-1zM91 48h1v1h-1zM36 49h1v1h-1zM50 49h1v1h-1zM76 49h1v1h-1zM94 49h1v1h-1zM109 49h1v1h-1zM117 49h1v1h-1zM61 50h1v1h-1zM87 50h1v1h-1zM100 52h1v1h-1zM119 53h1v1h-1zM24 54h2v1h-2zM90 54h1v1h-1zM5 55h1v1h-1zM68 55h1v1h-1zM74 55h1v1h-1zM112 55h1v1h-1zM21 56h1v1h-1zM64 56h1v1h-1zM106 56h2v1h-2zM14 57h1v1h-1zM25 57h1v1h-1zM31 57h1v1h-1zM52 57h1v1h-1zM56 57h1v1h-1zM107 57h1v1h-1zM18 58h1v1h-1zM28 58h1v1h-1zM34 58h1v1h-1zM40 58h1v1h-1zM94 58h1v1h-1zM101 58h1v1h-1zM103 58h2v1h-2zM29 59h1v1h-1zM32 59h2v1h-2zM45 59h1v1h-1zM71 59h1v1h-1zM89 59h1v1h-1zM96 59h1v1h-1zM101 59h1v1h-1zM31 60h1v1h-1zM37 60h1v1h-1zM61 60h1v1h-1zM70 60h1v1h-1zM96 60h1v1h-1zM115 60h1v1h-1zM14 61h1v1h-1zM31 61h1v1h-1zM49 61h1v1h-1zM52 61h1v1h-1zM60 61h1v1h-1z"/>
<path fill="#ff0000" d="M45 0h1v1h-1zM12 4h1v1h-1zM63 4h1v1h-1zM35 6h1v1h-1zM38 8h1v1h-1zM71 12h1v1h-1zM107 12h1v1h-1zM30 13h1v1h-1zM11 15h1v1h-1zM61 15h1v1h-1zM89 15h1v1h-1zM112 16h1v1h-1zM24 18h1v1h-1zM91 18h1v1h-1zM8 19h1v1h-1zM11 20h1v1h-1zM26 21h1v1h-1zM79 22h1v1h-1zM91 22h1v1h-1zM48 23h1v1h-1zM110 23h1v1h-1zM13 24h1v1h-1zM18 25h1v1h-1zM66 25h1v1h-1zM80 25h1v1h-1zM0 26h1v1h-1zM63 26h1v1h-1zM69 27h1v1h-1zM61 28h1v1h-1zM56 29h1v1h-1zM121 29h1v1h-1zM46 30h1v1h-1zM47 31h1v1h-1zM64 31h1v1h-1zM20 33h1v1h-1zM12 37h1v1h-1zM85 37h1v1h-1zM105 40h1v1h-1zM119 40h1v1h-1zM19 41h1v1h-1zM52 41h1v1h-1zM100 41h1v1h-1zM116 41h1v1h-1zM7 42h1v1h-1zM66 42h1v1h-1zM89 43h1v1h-1zM35 44h1v1h-1zM10 46h1v1h-1zM31 47h1v1h-1zM76 47h1v1h-1zM98 47h1v1h-1zM104 47h1v1h-1zM23 48h1v1h-1zM100 48h1v1h-1zM31 49h1v1h-1zM64 49h1v1h-1zM67 49h1v1h-1zM111 49h1v1h-1zM29 50h1v1h-1zM34 50h1v1h-1zM73 50h1v1h-1zM122 52h1v1h-1zM38 53h1v1h-1zM42 53h1v1h-1zM85 53h1v1h-1zM18 54h1v1h-1zM71 54h1v1h-1zM98 54h1v1h-1zM7 56h1v1h-1zM33 56h1v1h-1zM36 56h1v1h-1zM44 56h1v1h-1zM98 56h1v1h-1zM1 57h1v1h-1zM30 57h1v1h-1zM71 57h1v1h-1zM110 57h1v1h-1zM20 58h1v1h-1zM44 58h1v1h-1zM97 58h1v1h-1zM109 58h1v1h-1zM21 59h1v1h-1zM34 59h1v1h-1zM58 59h1v1h-1zM16 60h1v1h-1zM23 60h1v1h-1zM77 60h1v1h-1zM83 60h1v1h-1zM25 61h1v1h-1zM27 61h1v1h-1zM72 61h1v1h-1zM75 61h1v1h-1z"/>
</svg>
<svg x="519.00" y="14.7" width="56.60" height="507.1" viewBox="0 0 47 62" preserveAspectRatio="none">
<path fill="#0000ff" d="M32 1h1v1h-1zM36 7h1v1h-1zM46 7h1v1h-1zM26 30h1v1h-1zM25 38h1v1h-1zM2 61h1v1h-1zM4 61h1v1h-1zM44 61h1v1h-1z"/>
<path fill="#381bff" d="M6 1h1v1h-1zM43 1h1v1h-1zM2 7h1v1h-1zM26 7h1v1h-1zM8 11h1v1h-1zM9 30h1v1h-1zM23 30h1v1h-1zM9 38h1v1h-1zM8 61h1v1h-1zM15 61h1v1h-1zM20 61h1v1h-1zM43 61h1v1h-1z"/>
<path fill="#502bff" d="M4 1h1v1h-1zM22 1h1v1h-1zM15 20h1v1h-1zM24 30h1v1h-1zM34 30h1v1h-1zM15 38h1v1h-1zM0 61h1v1h-1zM45 61h1v1h-1z"/>
<path fill="#6239ff" d="M7 30h1v1h-1z"/>
<path fill="#a074ff" d="M23 18h1v1h-1zM37 18h1v1h-1zM45 18h1v1h-1zM1 61h1v1h-1z"/>
<path fill="#aa80ff" d="M10 1h1v1h-1zM10 2h1v1h-1zM12 2h1v1h-1zM18 2h3v1h-3zM25 2h3v1h-3zM33 2h1v1h-1zM35 2h1v1h-1zM44 2h1v1h-1zM0 3h1v1h-1zM11 3h1v1h-1zM23 3h1v1h-1zM26 3h2v1h-2zM30 3h1v1h-1zM35 3h1v1h-1zM45 3h1v1h-1zM4 6h1v1h-1zM6 6h1v1h-1zM8 6h1v1h-1zM10 6h1v1h-1zM20 6h1v1h-1zM26 6h1v1h-1zM33 6h1v1h-1zM40 6h1v1h-1zM42 6h2v1h-2zM45 6h1v1h-1zM4 7h1v1h-1zM16 7h1v1h-1zM21 7h3v1h-3zM25 7h1v1h-1zM32 7h3v1h-3zM45 7h1v1h-1zM0 9h1v1h-1zM16 9h1v1h-1zM20 9h1v1h-1zM28 9h1v1h-1zM44 9h1v1h-1zM46 9h1v1h-1zM6 11h1v1h-1zM10 11h1v1h-1zM12 11h1v1h-1zM34 11h1v1h-1zM37 11h2v1h-2zM43 11h3v1h-3zM2 14h1v1h-1zM4 14h1v1h-1zM11 14h2v1h-2zM26 14h1v1h-1zM32 14h3v1h-3zM36 14h1v1h-1zM39 14h1v1h-1zM46 14h1v1h-1zM16 18h1v1h-1zM35 18h1v1h-1zM0 20h1v1h-1zM3 20h1v1h-1zM5 20h1v1h-1zM7 20h1v1h-1zM9 20h3v1h-3zM21 20h1v1h-1zM24 20h1v1h-1zM28 20h1v1h-1zM30 20h1v1h-1zM32 20h1v1h-1zM37 20h2v1h-2zM40 20h1v1h-1zM43 20h1v1h-1zM2 21h1v1h-1zM4 21h1v1h-1zM7 21h2v1h-2zM15 21h1v1h-1zM18 21h1v1h-1zM20 21h1v1h-1zM24 21h1v1h-1zM28 21h1v1h-1zM36 21h1v1h-1zM7 28h1v1h-1zM12 28h1v1h-1zM15 28h1v1h-1zM18 28h1v1h-1zM24 28h1v1h-1zM26 28h1v1h-1zM28 28h1v1h-1zM33 28h3v1h-3zM45 28h1v1h-1zM10 29h2v1h-2zM15 29h1v1h-1zM22 29h1v1h-1zM30 29h3v1h-3zM34 29h1v1h-1zM38 29h2v1h-2zM42 29h1v1h-1zM44 29h1v1h-1zM0 30h1v1h-1zM12 30h1v1h-1zM14 30h1v1h-1zM25 30h1v1h-1zM32 30h1v1h-1zM39 30h6v1h-6zM5 31h3v1h-3zM15 31h1v1h-1zM18 31h1v1h-1zM24 31h2v1h-2zM30 31h4v1h-4zM45 31h1v1h-1zM7 33h1v1h-1zM11 33h2v1h-2zM14 33h1v1h-1zM31 33h3v1h-3zM38 33h1v1h-1zM46 33h1v1h-1zM1 36h1v1h-1zM5 36h1v1h-1zM9 36h1v1h-1zM12 36h1v1h-1zM19 36h1v1h-1zM25 36h1v1h-1zM30 36h2v1h-2zM38 36h1v1h-1zM43 36h2v1h-2zM1 38h1v1h-1zM10 38h1v1h-1zM13 38h1v1h-1zM16 38h1v1h-1zM18 38h2v1h-2zM29 38h1v1h-1zM31 38h1v1h-1zM33 38h1v1h-1zM41 38h1v1h-1zM44 38h1v1h-1zM5 54h1v1h-1zM14 54h1v1h-1zM16 54h1v1h-1zM18 54h3v1h-3zM22 54h3v1h-3zM27 54h1v1h-1zM30 54h1v1h-1zM35 54h1v1h-1zM37 54h2v1h-2zM42 54h1v1h-1zM0 56h1v1h-1zM4 56h4v1h-4zM12 56h1v1h-1zM16 56h1v1h-1zM19 56h1v1h-1zM23 56h1v1h-1zM26 56h2v1h-2zM29 56h1v1h-1zM32 56h2v1h-2zM35 56h1v1h-1zM41 56h1v1h-1zM44 56h2v1h-2zM4 57h1v1h-1zM6 57h2v1h-2zM10 57h1v1h-1zM16 57h2v1h-2zM20 57h1v1h-1zM23 57h1v1h-1zM31 57h1v1h-1zM33 57h1v1h-1zM36 57h1v1h-1zM43 57h3v1h-3zM2 60h1v1h-1zM4 60h1v1h-1zM10 60h1v1h-1zM14 60h1v1h-1zM21 60h1v1h-1zM24 60h1v1h-1zM29 60h1v1h-1zM33 60h2v1h-2zM40 60h2v1h-2zM43 60h1v1h-1zM46 60h1v1h-1zM3 61h1v1h-1zM14 61h1v1h-1zM31 61h2v1h-2zM37 61h1v1h-1z"/>
<path fill="#b38bff" d="M3 2h4v1h-4zM8 2h2v1h-2zM14 2h1v1h-1zM23 2h2v1h-2zM31 2h2v1h-2zM36 2h5v1h-5zM46 2h1v1h-1zM1 3h2v1h-2zM7 3h1v1h-1zM9 3h1v1h-1zM17 3h3v1h-3zM24 3h2v1h-2zM34 3h1v1h-1zM37 3h1v1h-1zM42 3h2v1h-2zM1 6h2v1h-2zM7 6h1v1h-1zM12 6h2v1h-2zM15 6h3v1h-3zM21 6h2v1h-2zM25 6h1v1h-1zM30 6h1v1h-1zM34 6h1v1h-1zM0 7h1v1h-1zM3 7h1v1h-1zM12 7h4v1h-4zM17 7h4v1h-4zM24 7h1v1h-1zM27 7h3v1h-3zM37 7h1v1h-1zM39 7h1v1h-1zM43 7h1v1h-1zM1 9h1v1h-1zM5 9h2v1h-2zM8 9h1v1h-1zM11 9h2v1h-2zM14 9h2v1h-2zM21 9h2v1h-2zM25 9h3v1h-3zM33 9h1v1h-1zM40 9h1v1h-1zM5 11h1v1h-1zM7 11h1v1h-1zM11 11h1v1h-1zM13 11h1v1h-1zM17 11h1v1h-1zM23 11h2v1h-2zM29 11h1v1h-1zM36 11h1v1h-1zM39 11h1v1h-1zM41 11h2v1h-2zM1 14h1v1h-1zM3 14h1v1h-1zM13 14h1v1h-1zM17 14h2v1h-2zM21 14h4v1h-4zM29 14h1v1h-1zM13 18h1v1h-1zM15 18h1v1h-1zM20 18h1v1h-1zM34 18h1v1h-1zM1 20h2v1h-2zM4 20h1v1h-1zM6 20h1v1h-1zM14 20h1v1h-1zM16 20h1v1h-1zM18 20h3v1h-3zM22 20h2v1h-2zM25 20h3v1h-3zM31 20h1v1h-1zM34 20h3v1h-3zM39 20h1v1h-1zM41 20h1v1h-1zM44 20h1v1h-1zM46 20h1v1h-1zM0 21h2v1h-2zM3 21h1v1h-1zM5 21h2v1h-2zM10 21h2v1h-2zM16 21h2v1h-2zM19 21h1v1h-1zM21 21h1v1h-1zM23 21h1v1h-1zM25 21h1v1h-1zM32 21h2v1h-2zM37 21h2v1h-2zM41 21h1v1h-1zM1 28h3v1h-3zM5 28h2v1h-2zM8 28h2v1h-2zM13 28h1v1h-1zM16 28h2v1h-2zM21 28h1v1h-1zM23 28h1v1h-1zM27 28h1v1h-1zM30 28h2v1h-2zM40 28h2v1h-2zM0 29h4v1h-4zM5 29h3v1h-3zM12 29h1v1h-1zM16 29h3v1h-3zM20 29h2v1h-2zM23 29h4v1h-4zM29 29h1v1h-1zM33 29h1v1h-1zM35 29h3v1h-3zM41 29h1v1h-1zM43 29h1v1h-1zM45 29h1v1h-1zM1 30h3v1h-3zM6 30h1v1h-1zM10 30h1v1h-1zM13 30h1v1h-1zM15 30h2v1h-2zM19 30h2v1h-2zM29 30h3v1h-3zM33 30h1v1h-1zM35 30h4v1h-4zM0 31h2v1h-2zM4 31h1v1h-1zM8 31h2v1h-2zM16 31h1v1h-1zM19 31h1v1h-1zM21 31h2v1h-2zM26 31h1v1h-1zM34 31h1v1h-1zM36 31h4v1h-4zM44 31h1v1h-1zM1 33h4v1h-4zM9 33h2v1h-2zM13 33h1v1h-1zM18 33h1v1h-1zM20 33h2v1h-2zM26 33h4v1h-4zM34 33h2v1h-2zM37 33h1v1h-1zM39 33h1v1h-1zM41 33h1v1h-1zM43 33h3v1h-3zM0 36h1v1h-1zM3 36h2v1h-2zM8 36h1v1h-1zM10 36h1v1h-1zM14 36h2v1h-2zM20 36h3v1h-3zM29 36h1v1h-1zM32 36h3v1h-3zM40 36h1v1h-1zM46 36h1v1h-1zM5 38h2v1h-2zM8 38h1v1h-1zM11 38h2v1h-2zM14 38h1v1h-1zM17 38h1v1h-1zM20 38h1v1h-1zM23 38h1v1h-1zM27 38h1v1h-1zM30 38h1v1h-1zM34 38h2v1h-2zM37 38h4v1h-4zM45 38h2v1h-2zM0 54h5v1h-5zM6 54h1v1h-1zM9 54h3v1h-3zM13 54h1v1h-1zM15 54h1v1h-1zM17 54h1v1h-1zM21 54h1v1h-1zM25 54h2v1h-2zM29 54h1v1h-1zM31 54h4v1h-4zM36 54h1v1h-1zM39 54h3v1h-3zM43 54h4v1h-4zM1 56h1v1h-1zM3 56h1v1h-1zM8 56h4v1h-4zM15 56h1v1h-1zM17 56h2v1h-2zM20 56h3v1h-3zM25 56h1v1h-1zM28 56h1v1h-1zM31 56h1v1h-1zM36 56h2v1h-2zM40 56h1v1h-1zM42 56h2v1h-2zM0 57h1v1h-1zM2 57h2v1h-2zM5 57h1v1h-1zM8 57h2v1h-2zM11 57h1v1h-1zM13 57h3v1h-3zM19 57h1v1h-1zM21 57h1v1h-1zM24 57h2v1h-2zM27 57h2v1h-2zM30 57h1v1h-1zM32 57h1v1h-1zM34 57h2v1h-2zM37 57h1v1h-1zM39 57h3v1h-3zM0 60h1v1h-1zM3 60h1v1h-1zM5 60h2v1h-2zM11 60h1v1h-1zM15 60h3v1h-3zM19 60h1v1h-1zM22 60h2v1h-2zM25 60h4v1h-4zM30 60h3v1h-3zM35 60h3v1h-3zM44 60h2v1h-2zM5 61h1v1h-1zM11 61h1v1h-1zM30 61h1v1h-1zM33 61h1v1h-1zM39 61h1v1h-1z"/>
<path fill="#bc97ff" d="M6 18h1v1h-1zM12 18h1v1h-1zM29 18h1v1h-1zM33 18h1v1h-1zM38 61h1v1h-1z"/>
<path fill="#ccadff" d="M7 0h2v1h-2zM24 0h1v1h-1zM30 0h1v1h-1zM35 0h1v1h-1zM40 0h1v1h-1zM45 0h2v1h-2zM0 4h2v1h-2zM9 4h1v1h-1zM19 4h1v1h-1zM25 4h1v1h-1zM39 4h1v1h-1zM44 4h1v1h-1zM35 6h1v1h-1zM0 8h1v1h-1zM2 8h2v1h-2zM11 8h1v1h-1zM16 8h1v1h-1zM22 8h1v1h-1zM26 8h1v1h-1zM37 8h1v1h-1zM40 8h1v1h-1zM42 8h1v1h-1zM9 9h1v1h-1zM23 9h2v1h-2zM36 9h1v1h-1zM38 9h1v1h-1zM0 10h1v1h-1zM3 10h1v1h-1zM7 10h4v1h-4zM12 10h1v1h-1zM17 10h1v1h-1zM22 10h2v1h-2zM37 10h1v1h-1zM39 10h1v1h-1zM42 10h1v1h-1zM3 13h1v1h-1zM15 13h1v1h-1zM24 13h1v1h-1zM28 13h1v1h-1zM31 13h1v1h-1zM37 13h2v1h-2zM40 13h2v1h-2zM6 15h4v1h-4zM11 15h1v1h-1zM23 15h1v1h-1zM27 15h1v1h-1zM32 15h1v1h-1zM39 15h1v1h-1zM5 17h1v1h-1zM7 17h1v1h-1zM14 17h1v1h-1zM18 17h1v1h-1zM24 17h1v1h-1zM41 17h2v1h-2zM30 18h1v1h-1zM40 18h1v1h-1zM8 20h1v1h-1zM33 20h1v1h-1zM31 21h1v1h-1zM35 21h1v1h-1zM42 21h1v1h-1zM3 22h1v1h-1zM6 22h2v1h-2zM10 22h1v1h-1zM17 22h1v1h-1zM21 22h4v1h-4zM29 22h1v1h-1zM35 22h1v1h-1zM37 22h1v1h-1zM8 23h1v1h-1zM18 23h1v1h-1zM20 23h1v1h-1zM23 23h1v1h-1zM38 23h1v1h-1zM41 23h1v1h-1zM0 27h1v1h-1zM5 27h2v1h-2zM16 27h1v1h-1zM27 27h1v1h-1zM32 27h1v1h-1zM35 27h1v1h-1zM39 27h1v1h-1zM45 27h1v1h-1zM2 31h1v1h-1zM12 31h1v1h-1zM27 31h1v1h-1zM43 31h1v1h-1zM2 32h1v1h-1zM5 32h1v1h-1zM10 32h1v1h-1zM26 32h1v1h-1zM28 32h1v1h-1zM30 32h1v1h-1zM38 32h1v1h-1zM42 32h1v1h-1zM26 36h1v1h-1zM0 37h1v1h-1zM3 37h1v1h-1zM7 37h1v1h-1zM11 37h1v1h-1zM16 37h1v1h-1zM18 37h2v1h-2zM22 37h2v1h-2zM30 37h1v1h-1zM33 37h1v1h-1zM39 37h1v1h-1zM42 37h1v1h-1zM2 41h1v1h-1zM12 41h1v1h-1zM14 41h1v1h-1zM16 41h1v1h-1zM24 41h1v1h-1zM34 41h1v1h-1zM42 41h1v1h-1zM2 43h1v1h-1zM4 43h1v1h-1zM13 43h1v1h-1zM15 43h1v1h-1zM17 43h1v1h-1zM20 43h1v1h-1zM23 43h1v1h-1zM31 43h1v1h-1zM33 43h1v1h-1zM36 43h1v1h-1zM39 43h1v1h-1zM45 43h2v1h-2zM3 49h1v1h-1zM6 49h2v1h-2zM17 49h1v1h-1zM20 49h1v1h-1zM23 49h1v1h-1zM29 49h1v1h-1zM37 49h1v1h-1zM42 49h1v1h-1zM44 49h1v1h-1zM2 50h1v1h-1zM9 50h1v1h-1zM16 50h1v1h-1zM23 50h2v1h-2zM26 50h1v1h-1zM30 50h3v1h-3zM34 50h3v1h-3zM42 50h1v1h-1zM45 50h1v1h-1zM2 58h1v1h-1zM8 58h1v1h-1zM10 58h1v1h-1zM23 58h1v1h-1zM27 58h1v1h-1zM44 58h1v1h-1zM46 58h1v1h-1zM2 59h1v1h-1zM9 59h1v1h-1zM14 59h2v1h-2zM20 59h1v1h-1zM22 59h1v1h-1zM26 59h1v1h-1zM34 59h1v1h-1zM37 59h1v1h-1z"/>
<path fill="#d4b9ff" d="M0 0h1v1h-1zM2 0h3v1h-3zM6 0h1v1h-1zM9 0h2v1h-2zM12 0h3v1h-3zM18 0h6v1h-6zM25 0h3v1h-3zM31 0h1v1h-1zM33 0h2v1h-2zM36 0h1v1h-1zM39 0h1v1h-1zM41 0h4v1h-4zM0 1h1v1h-1zM42 2h2v1h-2zM5 3h1v1h-1zM13 3h1v1h-1zM20 3h1v1h-1zM2 4h3v1h-3zM7 4h2v1h-2zM10 4h6v1h-6zM17 4h2v1h-2zM20 4h4v1h-4zM28 4h1v1h-1zM30 4h3v1h-3zM34 4h5v1h-5zM42 4h2v1h-2zM46 4h1v1h-1zM28 6h2v1h-2zM4 8h1v1h-1zM10 8h1v1h-1zM15 8h1v1h-1zM19 8h3v1h-3zM23 8h3v1h-3zM32 8h2v1h-2zM35 8h2v1h-2zM39 8h1v1h-1zM43 8h4v1h-4zM41 9h1v1h-1zM1 10h2v1h-2zM5 10h2v1h-2zM15 10h2v1h-2zM18 10h1v1h-1zM21 10h1v1h-1zM24 10h1v1h-1zM29 10h2v1h-2zM32 10h4v1h-4zM40 10h2v1h-2zM43 10h2v1h-2zM46 10h1v1h-1zM0 13h3v1h-3zM4 13h1v1h-1zM6 13h4v1h-4zM11 13h2v1h-2zM22 13h2v1h-2zM25 13h1v1h-1zM27 13h1v1h-1zM32 13h3v1h-3zM36 13h1v1h-1zM43 13h2v1h-2zM8 14h2v1h-2zM27 14h1v1h-1zM1 15h5v1h-5zM10 15h1v1h-1zM12 15h1v1h-1zM18 15h1v1h-1zM20 15h2v1h-2zM26 15h1v1h-1zM28 15h1v1h-1zM30 15h2v1h-2zM35 15h1v1h-1zM38 15h1v1h-1zM41 15h1v1h-1zM43 15h4v1h-4zM0 17h1v1h-1zM2 17h1v1h-1zM6 17h1v1h-1zM8 17h1v1h-1zM11 17h2v1h-2zM15 17h1v1h-1zM17 17h1v1h-1zM19 17h4v1h-4zM25 17h10v1h-10zM36 17h4v1h-4zM43 17h1v1h-1zM45 17h2v1h-2zM7 18h1v1h-1zM31 18h1v1h-1zM45 20h1v1h-1zM13 21h1v1h-1zM27 21h1v1h-1zM0 22h1v1h-1zM2 22h1v1h-1zM4 22h2v1h-2zM8 22h1v1h-1zM11 22h6v1h-6zM20 22h1v1h-1zM25 22h1v1h-1zM30 22h5v1h-5zM36 22h1v1h-1zM38 22h7v1h-7zM46 22h1v1h-1zM0 23h1v1h-1zM2 23h2v1h-2zM5 23h3v1h-3zM9 23h1v1h-1zM13 23h3v1h-3zM17 23h1v1h-1zM19 23h1v1h-1zM21 23h2v1h-2zM24 23h2v1h-2zM31 23h1v1h-1zM37 23h1v1h-1zM39 23h2v1h-2zM43 23h4v1h-4zM2 27h3v1h-3zM7 27h9v1h-9zM17 27h7v1h-7zM26 27h1v1h-1zM28 27h4v1h-4zM33 27h2v1h-2zM36 27h1v1h-1zM40 27h4v1h-4zM46 27h1v1h-1zM42 31h1v1h-1zM0 32h2v1h-2zM3 32h2v1h-2zM6 32h2v1h-2zM11 32h1v1h-1zM14 32h3v1h-3zM20 32h3v1h-3zM24 32h2v1h-2zM27 32h1v1h-1zM31 32h1v1h-1zM33 32h5v1h-5zM39 32h3v1h-3zM44 32h3v1h-3zM16 33h1v1h-1zM40 33h1v1h-1zM4 37h3v1h-3zM8 37h3v1h-3zM12 37h4v1h-4zM17 37h1v1h-1zM25 37h5v1h-5zM31 37h2v1h-2zM36 37h3v1h-3zM40 37h2v1h-2zM46 37h1v1h-1zM0 41h1v1h-1zM3 41h8v1h-8zM13 41h1v1h-1zM15 41h1v1h-1zM17 41h3v1h-3zM22 41h2v1h-2zM25 41h9v1h-9zM35 41h1v1h-1zM37 41h5v1h-5zM43 41h4v1h-4zM0 43h2v1h-2zM3 43h1v1h-1zM5 43h8v1h-8zM14 43h1v1h-1zM16 43h1v1h-1zM18 43h2v1h-2zM22 43h1v1h-1zM24 43h1v1h-1zM26 43h5v1h-5zM32 43h1v1h-1zM34 43h2v1h-2zM37 43h2v1h-2zM40 43h4v1h-4zM0 49h3v1h-3zM4 49h2v1h-2zM8 49h9v1h-9zM18 49h2v1h-2zM21 49h2v1h-2zM24 49h5v1h-5zM30 49h7v1h-7zM38 49h2v1h-2zM41 49h1v1h-1zM43 49h1v1h-1zM45 49h2v1h-2zM0 50h1v1h-1zM3 50h5v1h-5zM10 50h6v1h-6zM17 50h6v1h-6zM25 50h1v1h-1zM27 50h3v1h-3zM33 50h1v1h-1zM37 50h5v1h-5zM43 50h2v1h-2zM46 50h1v1h-1zM0 58h2v1h-2zM3 58h5v1h-5zM9 58h1v1h-1zM11 58h3v1h-3zM17 58h1v1h-1zM19 58h4v1h-4zM28 58h3v1h-3zM32 58h5v1h-5zM38 58h1v1h-1zM40 58h4v1h-4zM45 58h1v1h-1zM0 59h2v1h-2zM3 59h3v1h-3zM7 59h2v1h-2zM10 59h4v1h-4zM16 59h4v1h-4zM21 59h1v1h-1zM23 59h3v1h-3zM27 59h7v1h-7zM36 59h1v1h-1zM38 59h9v1h-9z"/>
<path fill="#dcc4ff" d="M1 0h1v1h-1zM41 1h1v1h-1zM0 2h1v1h-1zM7 2h1v1h-1zM36 3h1v1h-1zM40 3h2v1h-2zM5 6h1v1h-1zM36 6h1v1h-1zM46 6h1v1h-1zM17 9h1v1h-1zM19 9h1v1h-1zM35 9h1v1h-1zM37 9h1v1h-1zM42 9h1v1h-1zM3 18h1v1h-1zM32 18h1v1h-1zM36 18h1v1h-1zM12 21h1v1h-1zM40 21h1v1h-1zM23 36h1v1h-1zM45 36h1v1h-1z"/>
<path fill="#e3d0ff" d="M1 5h1v1h-1zM3 5h6v1h-6zM11 5h1v1h-1zM14 5h1v1h-1zM17 5h2v1h-2zM26 5h1v1h-1zM29 5h2v1h-2zM32 5h1v1h-1zM34 5h4v1h-4zM42 5h1v1h-1zM44 5h1v1h-1zM46 5h1v1h-1zM0 12h3v1h-3zM4 12h3v1h-3zM8 12h6v1h-6zM15 12h4v1h-4zM21 12h1v1h-1zM23 12h3v1h-3zM27 12h9v1h-9zM38 12h9v1h-9zM0 16h1v1h-1zM2 16h2v1h-2zM5 16h4v1h-4zM10 16h3v1h-3zM16 16h3v1h-3zM21 16h4v1h-4zM26 16h4v1h-4zM31 16h2v1h-2zM34 16h8v1h-8zM43 16h4v1h-4zM0 19h3v1h-3zM7 19h2v1h-2zM11 19h4v1h-4zM16 19h9v1h-9zM27 19h6v1h-6zM35 19h3v1h-3zM39 19h2v1h-2zM42 19h2v1h-2zM0 24h2v1h-2zM8 24h5v1h-5zM14 24h2v1h-2zM17 24h1v1h-1zM19 24h1v1h-1zM21 24h1v1h-1zM23 24h4v1h-4zM28 24h4v1h-4zM33 24h12v1h-12zM46 24h1v1h-1zM2 25h6v1h-6zM10 25h1v1h-1zM12 25h3v1h-3zM19 25h4v1h-4zM26 25h1v1h-1zM30 25h7v1h-7zM38 25h2v1h-2zM41 25h2v1h-2zM44 25h1v1h-1zM46 25h1v1h-1zM0 26h2v1h-2zM3 26h1v1h-1zM5 26h2v1h-2zM9 26h5v1h-5zM15 26h2v1h-2zM18 26h1v1h-1zM21 26h1v1h-1zM23 26h4v1h-4zM28 26h1v1h-1zM32 26h4v1h-4zM38 26h2v1h-2zM41 26h2v1h-2zM44 26h1v1h-1zM46 26h1v1h-1zM2 39h2v1h-2zM5 39h4v1h-4zM10 39h1v1h-1zM12 39h4v1h-4zM17 39h1v1h-1zM19 39h1v1h-1zM21 39h2v1h-2zM24 39h1v1h-1zM26 39h3v1h-3zM30 39h1v1h-1zM34 39h5v1h-5zM40 39h1v1h-1zM42 39h2v1h-2zM0 40h17v1h-17zM18 40h1v1h-1zM20 40h1v1h-1zM22 40h1v1h-1zM24 40h5v1h-5zM30 40h4v1h-4zM35 40h1v1h-1zM37 40h4v1h-4zM42 40h5v1h-5zM1 42h2v1h-2zM4 42h10v1h-10zM18 42h6v1h-6zM25 42h9v1h-9zM35 42h11v1h-11zM0 46h4v1h-4zM5 46h2v1h-2zM8 46h2v1h-2zM11 46h4v1h-4zM18 46h1v1h-1zM21 46h3v1h-3zM25 46h1v1h-1zM27 46h3v1h-3zM32 46h10v1h-10zM44 46h3v1h-3zM0 47h3v1h-3zM5 47h5v1h-5zM11 47h3v1h-3zM16 47h1v1h-1zM19 47h2v1h-2zM22 47h1v1h-1zM24 47h2v1h-2zM27 47h4v1h-4zM32 47h3v1h-3zM36 47h6v1h-6zM43 47h3v1h-3zM0 51h1v1h-1zM3 51h7v1h-7zM11 51h1v1h-1zM13 51h3v1h-3zM18 51h9v1h-9zM28 51h1v1h-1zM30 51h12v1h-12zM43 51h1v1h-1zM46 51h1v1h-1z"/>
<path fill="#ebdcff" d="M28 0h1v1h-1zM0 5h1v1h-1zM2 5h1v1h-1zM9 5h1v1h-1zM21 5h2v1h-2zM25 5h1v1h-1zM27 5h1v1h-1zM31 5h1v1h-1zM41 5h1v1h-1zM3 12h1v1h-1zM7 12h1v1h-1zM14 12h1v1h-1zM22 12h1v1h-1zM26 12h1v1h-1zM36 12h2v1h-2zM1 16h1v1h-1zM4 16h1v1h-1zM9 16h1v1h-1zM13 16h3v1h-3zM19 16h1v1h-1zM25 16h1v1h-1zM30 16h1v1h-1zM33 16h1v1h-1zM3 19h1v1h-1zM5 19h2v1h-2zM9 19h2v1h-2zM15 19h1v1h-1zM25 19h2v1h-2zM41 19h1v1h-1zM44 19h3v1h-3zM3 24h5v1h-5zM13 24h1v1h-1zM16 24h1v1h-1zM18 24h1v1h-1zM20 24h1v1h-1zM32 24h1v1h-1zM45 24h1v1h-1zM0 25h2v1h-2zM8 25h2v1h-2zM11 25h1v1h-1zM15 25h2v1h-2zM23 25h2v1h-2zM27 25h1v1h-1zM37 25h1v1h-1zM40 25h1v1h-1zM43 25h1v1h-1zM45 25h1v1h-1zM4 26h1v1h-1zM7 26h1v1h-1zM14 26h1v1h-1zM20 26h1v1h-1zM22 26h1v1h-1zM27 26h1v1h-1zM29 26h1v1h-1zM36 26h2v1h-2zM40 26h1v1h-1zM43 26h1v1h-1zM45 26h1v1h-1zM0 39h2v1h-2zM4 39h1v1h-1zM11 39h1v1h-1zM16 39h1v1h-1zM18 39h1v1h-1zM23 39h1v1h-1zM25 39h1v1h-1zM29 39h1v1h-1zM31 39h3v1h-3zM39 39h1v1h-1zM41 39h1v1h-1zM45 39h2v1h-2zM17 40h1v1h-1zM19 40h1v1h-1zM21 40h1v1h-1zM23 40h1v1h-1zM29 40h1v1h-1zM34 40h1v1h-1zM41 40h1v1h-1zM0 42h1v1h-1zM3 42h1v1h-1zM14 42h1v1h-1zM16 42h2v1h-2zM34 42h1v1h-1zM46 42h1v1h-1zM1 44h2v1h-2zM4 44h2v1h-2zM12 44h1v1h-1zM15 44h1v1h-1zM17 44h1v1h-1zM19 44h1v1h-1zM21 44h1v1h-1zM24 44h1v1h-1zM26 44h2v1h-2zM30 44h1v1h-1zM32 44h1v1h-1zM37 44h2v1h-2zM41 44h2v1h-2zM2 45h1v1h-1zM20 45h1v1h-1zM22 45h1v1h-1zM30 45h1v1h-1zM35 45h2v1h-2zM4 46h1v1h-1zM10 46h1v1h-1zM15 46h3v1h-3zM19 46h2v1h-2zM24 46h1v1h-1zM26 46h1v1h-1zM30 46h2v1h-2zM43 46h1v1h-1zM3 47h2v1h-2zM10 47h1v1h-1zM14 47h2v1h-2zM17 47h2v1h-2zM21 47h1v1h-1zM26 47h1v1h-1zM31 47h1v1h-1zM35 47h1v1h-1zM0 48h1v1h-1zM10 48h1v1h-1zM12 48h2v1h-2zM16 48h1v1h-1zM18 48h1v1h-1zM22 48h2v1h-2zM25 48h1v1h-1zM27 48h1v1h-1zM29 48h2v1h-2zM36 48h1v1h-1zM40 48h1v1h-1zM43 48h2v1h-2zM46 48h1v1h-1zM1 51h2v1h-2zM10 51h1v1h-1zM12 51h1v1h-1zM16 51h2v1h-2zM27 51h1v1h-1zM29 51h1v1h-1zM42 51h1v1h-1zM44 51h2v1h-2zM2 52h1v1h-1zM7 52h2v1h-2zM16 52h1v1h-1zM23 52h1v1h-1zM32 52h1v1h-1zM34 52h2v1h-2zM37 52h1v1h-1zM40 52h1v1h-1zM44 52h1v1h-1zM2 53h1v1h-1zM7 53h1v1h-1zM9 53h1v1h-1zM14 53h1v1h-1zM16 53h4v1h-4zM25 53h1v1h-1zM33 53h1v1h-1zM0 55h1v1h-1zM7 55h1v1h-1zM14 55h1v1h-1zM18 55h1v1h-1zM21 55h1v1h-1zM28 55h1v1h-1zM40 55h2v1h-2zM43 55h2v1h-2z"/>
<path fill="#f2e7ff" d="M5 34h1v1h-1zM10 34h1v1h-1zM14 34h2v1h-2zM17 34h1v1h-1zM20 34h1v1h-1zM44 34h1v1h-1zM32 35h1v1h-1zM36 35h1v1h-1zM0 44h1v1h-1zM3 44h1v1h-1zM6 44h6v1h-6zM13 44h2v1h-2zM16 44h1v1h-1zM18 44h1v1h-1zM20 44h1v1h-1zM22 44h2v1h-2zM25 44h1v1h-1zM28 44h2v1h-2zM31 44h1v1h-1zM33 44h4v1h-4zM39 44h2v1h-2zM43 44h4v1h-4zM0 45h2v1h-2zM3 45h6v1h-6zM10 45h10v1h-10zM21 45h1v1h-1zM23 45h7v1h-7zM31 45h4v1h-4zM37 45h10v1h-10zM1 48h9v1h-9zM11 48h1v1h-1zM14 48h2v1h-2zM17 48h1v1h-1zM19 48h3v1h-3zM24 48h1v1h-1zM26 48h1v1h-1zM28 48h1v1h-1zM31 48h5v1h-5zM37 48h3v1h-3zM41 48h2v1h-2zM45 48h1v1h-1zM0 52h2v1h-2zM3 52h4v1h-4zM9 52h7v1h-7zM17 52h6v1h-6zM24 52h8v1h-8zM33 52h1v1h-1zM36 52h1v1h-1zM38 52h2v1h-2zM41 52h3v1h-3zM45 52h2v1h-2zM0 53h2v1h-2zM3 53h4v1h-4zM8 53h1v1h-1zM10 53h4v1h-4zM15 53h1v1h-1zM20 53h5v1h-5zM26 53h7v1h-7zM34 53h13v1h-13zM1 55h6v1h-6zM8 55h6v1h-6zM15 55h3v1h-3zM19 55h2v1h-2zM22 55h6v1h-6zM29 55h11v1h-11zM42 55h1v1h-1zM45 55h2v1h-2z"/>
<path fill="#f8f3ff" d="M15 1h1v1h-1zM17 1h1v1h-1zM2 2h1v1h-1zM10 3h1v1h-1zM26 4h1v1h-1zM41 4h1v1h-1zM45 4h1v1h-1zM9 6h1v1h-1zM24 6h1v1h-1zM44 6h1v1h-1zM41 8h1v1h-1zM4 11h1v1h-1zM9 11h1v1h-1zM30 13h1v1h-1zM39 13h1v1h-1zM46 13h1v1h-1zM35 14h1v1h-1zM19 15h1v1h-1zM10 17h1v1h-1zM2 18h1v1h-1zM4 18h1v1h-1zM33 19h2v1h-2zM14 21h1v1h-1zM26 23h1v1h-1zM28 25h2v1h-2zM31 26h1v1h-1zM24 27h1v1h-1zM38 28h1v1h-1zM11 30h1v1h-1zM8 32h1v1h-1zM0 34h5v1h-5zM7 34h3v1h-3zM11 34h2v1h-2zM16 34h1v1h-1zM18 34h1v1h-1zM21 34h22v1h-22zM45 34h2v1h-2zM0 35h22v1h-22zM23 35h9v1h-9zM33 35h3v1h-3zM38 35h9v1h-9zM2 36h1v1h-1zM6 36h1v1h-1zM39 36h1v1h-1zM20 37h1v1h-1zM45 37h1v1h-1zM9 39h1v1h-1zM11 41h1v1h-1zM39 56h1v1h-1zM22 57h1v1h-1zM42 57h1v1h-1zM7 61h1v1h-1zM17 61h2v1h-2zM26 61h1v1h-1zM41 61h2v1h-2zM46 61h1v1h-1z"/>
<path fill="#ffffff" d="M24 1h1v1h-1zM13 2h1v1h-1zM38 8h1v1h-1zM10 9h1v1h-1zM13 9h1v1h-1zM39 9h1v1h-1zM19 10h1v1h-1zM45 10h1v1h-1zM3 11h1v1h-1zM19 12h1v1h-1zM45 13h1v1h-1zM0 15h1v1h-1zM16 15h2v1h-2zM23 17h1v1h-1zM18 22h1v1h-1zM27 23h1v1h-1zM2 26h1v1h-1zM25 27h1v1h-1zM25 28h1v1h-1zM42 28h2v1h-2zM19 29h1v1h-1zM8 30h1v1h-1zM45 30h1v1h-1zM20 31h1v1h-1zM46 31h1v1h-1zM17 32h1v1h-1zM23 32h1v1h-1zM0 33h1v1h-1zM30 33h1v1h-1zM6 34h1v1h-1zM13 34h1v1h-1zM19 34h1v1h-1zM43 34h1v1h-1zM22 35h1v1h-1zM37 35h1v1h-1zM21 37h1v1h-1zM24 37h1v1h-1zM34 37h1v1h-1zM20 39h1v1h-1zM44 39h1v1h-1zM1 57h1v1h-1zM18 57h1v1h-1zM37 58h1v1h-1zM35 59h1v1h-1zM6 61h1v1h-1zM12 61h1v1h-1zM19 61h1v1h-1zM22 61h1v1h-1zM28 61h1v1h-1zM40 61h1v1h-1z"/>
<path fill="#fff5f2" d="M12 1h1v1h-1zM28 1h1v1h-1zM14 3h1v1h-1zM22 3h1v1h-1zM28 3h2v1h-2zM33 3h1v1h-1zM18 6h1v1h-1zM37 6h1v1h-1zM31 7h1v1h-1zM27 8h1v1h-1zM34 9h1v1h-1zM11 10h1v1h-1zM20 10h1v1h-1zM27 11h1v1h-1zM20 12h1v1h-1zM18 13h1v1h-1zM15 15h1v1h-1zM16 17h1v1h-1zM26 18h1v1h-1zM4 23h1v1h-1zM33 23h1v1h-1zM17 25h2v1h-2zM30 26h1v1h-1zM22 28h1v1h-1zM46 28h1v1h-1zM9 29h1v1h-1zM46 29h1v1h-1zM17 30h1v1h-1zM13 32h1v1h-1zM42 33h1v1h-1zM28 36h1v1h-1zM42 36h1v1h-1zM21 38h2v1h-2zM36 41h1v1h-1zM13 60h1v1h-1zM10 61h1v1h-1zM16 61h1v1h-1zM21 61h1v1h-1zM23 61h1v1h-1zM25 61h1v1h-1zM27 61h1v1h-1zM35 61h1v1h-1z"/>
<path fill="#ffd9cb" d="M11 2h1v1h-1zM39 5h1v1h-1zM32 9h1v1h-1zM2 11h1v1h-1zM24 15h1v1h-1zM19 32h1v1h-1zM2 38h1v1h-1zM43 38h1v1h-1zM24 42h1v1h-1z"/>
<path fill="#ffcfbf" d="M37 0h1v1h-1zM8 1h1v1h-1zM11 1h1v1h-1zM13 1h1v1h-1zM16 1h1v1h-1zM31 1h1v1h-1zM33 1h1v1h-1zM37 1h1v1h-1zM40 1h1v1h-1zM44 1h1v1h-1zM21 2h1v1h-1zM30 2h1v1h-1zM46 3h1v1h-1zM11 6h1v1h-1zM38 7h1v1h-1zM42 7h1v1h-1zM3 9h1v1h-1zM25 10h2v1h-2zM25 11h1v1h-1zM35 11h1v1h-1zM40 11h1v1h-1zM35 13h1v1h-1zM44 14h2v1h-2zM25 18h1v1h-1zM39 18h1v1h-1zM19 22h1v1h-1zM18 30h1v1h-1zM29 32h1v1h-1zM6 33h1v1h-1zM11 36h1v1h-1zM37 36h1v1h-1zM43 37h1v1h-1zM3 38h1v1h-1zM26 38h1v1h-1zM46 47h1v1h-1zM8 54h1v1h-1zM26 57h1v1h-1zM34 61h1v1h-1zM36 61h1v1h-1z"/>
<path fill="#ffc6b2" d="M1 1h2v1h-2zM18 1h1v1h-1zM21 1h1v1h-1zM25 1h3v1h-3zM30 1h1v1h-1zM34 1h1v1h-1zM36 1h1v1h-1zM42 1h1v1h-1zM34 2h1v1h-1zM15 3h1v1h-1zM10 5h1v1h-1zM35 7h1v1h-1zM30 8h1v1h-1zM7 9h1v1h-1zM1 11h1v1h-1zM13 13h1v1h-1zM14 14h2v1h-2zM8 18h1v1h-1zM14 18h1v1h-1zM17 18h1v1h-1zM44 18h1v1h-1zM44 21h1v1h-1zM10 23h1v1h-1zM37 27h1v1h-1zM17 31h1v1h-1zM29 31h1v1h-1zM12 32h1v1h-1zM35 36h1v1h-1zM0 38h1v1h-1zM32 38h1v1h-1zM15 42h1v1h-1zM42 47h1v1h-1zM7 54h1v1h-1zM12 54h1v1h-1zM13 56h1v1h-1zM46 57h1v1h-1zM16 58h1v1h-1zM39 58h1v1h-1zM7 60h1v1h-1zM9 61h1v1h-1zM24 61h1v1h-1z"/>
<path fill="#ffbca6" d="M29 1h1v1h-1zM29 4h1v1h-1zM3 6h1v1h-1zM9 8h1v1h-1zM15 11h1v1h-1zM25 15h1v1h-1zM18 18h1v1h-1zM43 18h1v1h-1zM17 20h1v1h-1zM45 21h1v1h-1zM39 28h1v1h-1zM8 33h1v1h-1zM23 33h1v1h-1zM21 43h1v1h-1zM18 58h1v1h-1zM31 58h1v1h-1zM13 61h1v1h-1z"/>
<path fill="#ff9e81" d="M14 1h1v1h-1zM23 1h1v1h-1zM38 1h1v1h-1zM1 2h1v1h-1zM17 2h1v1h-1zM8 3h1v1h-1zM12 3h1v1h-1zM38 3h1v1h-1zM30 7h1v1h-1zM13 8h1v1h-1zM17 8h1v1h-1zM16 11h1v1h-1zM30 11h1v1h-1zM32 11h2v1h-2zM17 13h1v1h-1zM6 14h2v1h-2zM10 14h1v1h-1zM28 14h1v1h-1zM13 15h1v1h-1zM37 15h1v1h-1zM3 17h1v1h-1zM10 18h2v1h-2zM28 30h1v1h-1zM23 31h1v1h-1zM24 33h1v1h-1zM24 36h1v1h-1zM28 38h1v1h-1zM36 38h1v1h-1zM30 56h1v1h-1zM12 57h1v1h-1z"/>
<path fill="#ff9475" d="M3 1h1v1h-1zM9 1h1v1h-1zM19 1h1v1h-1zM46 1h1v1h-1zM15 2h1v1h-1zM21 3h1v1h-1zM39 3h1v1h-1zM40 5h1v1h-1zM0 6h1v1h-1zM1 7h1v1h-1zM5 7h2v1h-2zM6 8h1v1h-1zM4 9h1v1h-1zM18 9h1v1h-1zM43 9h1v1h-1zM20 11h3v1h-3zM31 11h1v1h-1zM5 13h1v1h-1zM20 13h1v1h-1zM29 13h1v1h-1zM14 15h1v1h-1zM33 15h1v1h-1zM40 15h1v1h-1zM42 15h1v1h-1zM1 17h1v1h-1zM1 18h1v1h-1zM19 18h1v1h-1zM42 18h1v1h-1zM22 21h1v1h-1zM26 22h1v1h-1zM28 22h1v1h-1zM28 23h1v1h-1zM32 23h1v1h-1zM20 28h1v1h-1zM13 29h1v1h-1zM21 30h1v1h-1zM27 30h1v1h-1zM3 31h1v1h-1zM13 31h1v1h-1zM40 31h1v1h-1zM17 33h1v1h-1zM25 33h1v1h-1zM17 36h1v1h-1zM41 36h1v1h-1zM28 54h1v1h-1zM24 56h1v1h-1zM46 56h1v1h-1zM29 57h1v1h-1zM38 60h2v1h-2z"/>
<path fill="#ff8969" d="M5 1h1v1h-1zM7 1h1v1h-1zM35 1h1v1h-1zM16 2h1v1h-1zM28 2h2v1h-2zM41 2h1v1h-1zM45 2h1v1h-1zM4 3h1v1h-1zM23 6h1v1h-1zM27 6h1v1h-1zM38 6h2v1h-2zM7 7h1v1h-1zM9 7h3v1h-3zM40 7h1v1h-1zM1 8h1v1h-1zM5 8h1v1h-1zM34 8h1v1h-1zM2 9h1v1h-1zM45 9h1v1h-1zM4 10h1v1h-1zM31 10h1v1h-1zM0 11h1v1h-1zM10 13h1v1h-1zM14 13h1v1h-1zM16 13h1v1h-1zM42 13h1v1h-1zM36 15h1v1h-1zM0 18h1v1h-1zM21 18h1v1h-1zM27 18h1v1h-1zM38 18h1v1h-1zM41 18h1v1h-1zM13 20h1v1h-1zM11 23h1v1h-1zM16 23h1v1h-1zM30 23h1v1h-1zM8 29h1v1h-1zM11 31h1v1h-1zM18 36h1v1h-1zM14 56h1v1h-1zM38 57h1v1h-1zM8 60h2v1h-2zM29 61h1v1h-1z"/>
<path fill="#ff7e5e" d="M38 0h1v1h-1zM22 2h1v1h-1zM22 33h1v1h-1z"/>
<path fill="#ff4d2e" d="M16 0h1v1h-1zM39 1h1v1h-1zM31 3h1v1h-1zM5 4h2v1h-2zM24 4h1v1h-1zM45 5h1v1h-1zM31 6h1v1h-1zM8 8h1v1h-1zM14 11h1v1h-1zM18 11h1v1h-1zM19 14h1v1h-1zM31 14h1v1h-1zM38 14h1v1h-1zM41 14h1v1h-1zM29 15h1v1h-1zM13 17h1v1h-1zM35 17h1v1h-1zM42 20h1v1h-1zM9 21h1v1h-1zM43 21h1v1h-1zM34 23h1v1h-1zM22 24h1v1h-1zM8 26h1v1h-1zM36 28h1v1h-1zM14 31h1v1h-1zM13 36h1v1h-1zM42 38h1v1h-1zM21 41h1v1h-1zM25 43h1v1h-1zM23 47h1v1h-1zM24 58h2v1h-2zM42 60h1v1h-1z"/>
<path fill="#ff3e22" d="M5 0h1v1h-1zM29 0h1v1h-1zM6 3h1v1h-1zM16 3h1v1h-1zM16 4h1v1h-1zM12 5h1v1h-1zM20 5h1v1h-1zM33 5h1v1h-1zM38 5h1v1h-1zM43 5h1v1h-1zM32 6h1v1h-1zM41 6h1v1h-1zM44 7h1v1h-1zM7 8h1v1h-1zM14 8h1v1h-1zM29 9h1v1h-1zM14 10h1v1h-1zM28 10h1v1h-1zM36 10h1v1h-1zM38 10h1v1h-1zM19 11h1v1h-1zM26 11h1v1h-1zM21 13h1v1h-1zM20 14h1v1h-1zM30 14h1v1h-1zM40 14h1v1h-1zM42 14h2v1h-2zM22 15h1v1h-1zM42 16h1v1h-1zM40 17h1v1h-1zM44 17h1v1h-1zM5 18h1v1h-1zM22 18h1v1h-1zM28 18h1v1h-1zM38 19h1v1h-1zM12 20h1v1h-1zM29 20h1v1h-1zM26 21h1v1h-1zM29 21h1v1h-1zM39 21h1v1h-1zM9 22h1v1h-1zM27 22h1v1h-1zM45 22h1v1h-1zM36 23h1v1h-1zM19 26h1v1h-1zM44 27h1v1h-1zM10 28h2v1h-2zM14 28h1v1h-1zM29 28h1v1h-1zM44 28h1v1h-1zM46 30h1v1h-1zM19 33h1v1h-1zM36 36h1v1h-1zM24 38h1v1h-1zM36 40h1v1h-1zM20 41h1v1h-1zM42 46h1v1h-1zM40 49h1v1h-1zM1 50h1v1h-1zM8 50h1v1h-1zM2 56h1v1h-1zM34 56h1v1h-1zM14 58h2v1h-2zM6 59h1v1h-1zM12 60h1v1h-1zM18 60h1v1h-1zM20 60h1v1h-1z"/>
<path fill="#ff2913" d="M17 0h1v1h-1zM32 0h1v1h-1zM20 1h1v1h-1zM45 1h1v1h-1zM3 3h1v1h-1zM32 3h1v1h-1zM44 3h1v1h-1zM27 4h1v1h-1zM33 4h1v1h-1zM40 4h1v1h-1zM13 5h1v1h-1zM15 5h2v1h-2zM24 5h1v1h-1zM28 5h1v1h-1zM14 6h1v1h-1zM19 6h1v1h-1zM8 7h1v1h-1zM41 7h1v1h-1zM12 8h1v1h-1zM18 8h1v1h-1zM28 8h2v1h-2zM31 8h1v1h-1zM13 10h1v1h-1zM27 10h1v1h-1zM28 11h1v1h-1zM46 11h1v1h-1zM19 13h1v1h-1zM0 14h1v1h-1zM5 14h1v1h-1zM16 14h1v1h-1zM25 14h1v1h-1zM34 15h1v1h-1zM20 16h1v1h-1zM4 17h1v1h-1zM9 17h1v1h-1zM24 18h1v1h-1zM46 18h1v1h-1zM30 21h1v1h-1zM34 21h1v1h-1zM46 21h1v1h-1zM1 23h1v1h-1zM12 23h1v1h-1zM35 23h1v1h-1zM42 23h1v1h-1zM2 24h1v1h-1zM25 25h1v1h-1zM38 27h1v1h-1zM0 28h1v1h-1zM4 28h1v1h-1zM19 28h1v1h-1zM37 28h1v1h-1zM4 29h1v1h-1zM14 29h1v1h-1zM27 29h1v1h-1zM40 29h1v1h-1zM5 30h1v1h-1zM22 30h1v1h-1zM28 31h1v1h-1zM35 31h1v1h-1zM18 32h1v1h-1zM43 32h1v1h-1zM5 33h1v1h-1zM36 33h1v1h-1zM7 36h1v1h-1zM27 36h1v1h-1zM2 37h1v1h-1zM44 37h1v1h-1zM4 38h1v1h-1zM1 41h1v1h-1zM44 43h1v1h-1zM9 45h1v1h-1zM38 56h1v1h-1zM1 60h1v1h-1z"/>
<path fill="#ff0000" d="M11 0h1v1h-1zM15 0h1v1h-1zM19 5h1v1h-1zM23 5h1v1h-1zM30 9h2v1h-2zM26 13h1v1h-1zM37 14h1v1h-1zM9 18h1v1h-1zM4 19h1v1h-1zM1 22h1v1h-1zM29 23h1v1h-1zM27 24h1v1h-1zM17 26h1v1h-1zM1 27h1v1h-1zM32 28h1v1h-1zM28 29h1v1h-1zM4 30h1v1h-1zM10 31h1v1h-1zM41 31h1v1h-1zM9 32h1v1h-1zM32 32h1v1h-1zM15 33h1v1h-1zM16 36h1v1h-1zM1 37h1v1h-1zM35 37h1v1h-1zM7 38h1v1h-1zM7 46h1v1h-1zM26 58h1v1h-1z"/>
</svg>
<svg x="576.30" y="14.7" width="67.50" height="507.1" viewBox="0 0 56 62" preserveAspectRatio="none">
<path fill="#0000ff" d="M42 61h1v1h-1z"/>
<path fill="#381bff" d="M4 30h1v1h-1zM22 30h1v1h-1zM2 61h1v1h-1zM14 61h1v1h-1zM18 61h1v1h-1zM36 61h1v1h-1z"/>
<path fill="#502bff" d="M31 20h1v1h-1zM27 30h1v1h-1zM52 30h1v1h-1zM34 61h1v1h-1zM40 61h1v1h-1z"/>
<path fill="#6239ff" d="M2 30h1v1h-1zM49 30h1v1h-1zM6 61h1v1h-1zM11 61h1v1h-1zM32 61h1v1h-1zM43 61h1v1h-1zM48 61h1v1h-1z"/>
<path fill="#a074ff" d="M25 11h1v1h-1zM35 14h1v1h-1z"/>
<path fill="#aa80ff" d="M8 6h1v1h-1zM31 6h1v1h-1zM36 6h1v1h-1zM7 7h1v1h-1zM54 7h2v1h-2zM18 9h1v1h-1zM25 9h1v1h-1zM31 9h1v1h-1zM36 9h1v1h-1zM10 11h1v1h-1zM44 11h1v1h-1zM52 11h1v1h-1zM7 14h1v1h-1zM13 14h1v1h-1zM20 14h1v1h-1zM47 14h1v1h-1zM26 18h1v1h-1zM0 20h2v1h-2zM9 20h2v1h-2zM12 20h2v1h-2zM17 20h1v1h-1zM19 20h4v1h-4zM34 20h2v1h-2zM44 20h2v1h-2zM2 21h2v1h-2zM5 21h1v1h-1zM8 21h1v1h-1zM10 21h2v1h-2zM13 21h1v1h-1zM17 21h1v1h-1zM27 21h1v1h-1zM31 21h1v1h-1zM42 21h1v1h-1zM48 21h1v1h-1zM53 21h3v1h-3zM2 28h1v1h-1zM6 28h1v1h-1zM16 28h1v1h-1zM36 28h1v1h-1zM42 28h1v1h-1zM47 28h1v1h-1zM0 29h1v1h-1zM7 29h2v1h-2zM13 29h1v1h-1zM17 29h1v1h-1zM20 29h1v1h-1zM27 29h2v1h-2zM33 29h1v1h-1zM36 29h2v1h-2zM41 29h1v1h-1zM48 29h1v1h-1zM51 29h1v1h-1zM5 30h1v1h-1zM21 30h1v1h-1zM26 30h1v1h-1zM32 30h3v1h-3zM38 30h2v1h-2zM46 30h1v1h-1zM9 31h1v1h-1zM19 31h1v1h-1zM22 31h1v1h-1zM28 31h2v1h-2zM33 31h1v1h-1zM41 31h1v1h-1zM52 31h2v1h-2zM55 31h1v1h-1zM4 33h1v1h-1zM9 33h2v1h-2zM16 33h1v1h-1zM20 33h3v1h-3zM24 33h1v1h-1zM28 33h3v1h-3zM41 33h1v1h-1zM45 33h1v1h-1zM49 33h1v1h-1zM52 33h1v1h-1zM3 36h1v1h-1zM19 36h1v1h-1zM22 36h1v1h-1zM24 36h1v1h-1zM31 36h1v1h-1zM36 36h1v1h-1zM41 36h1v1h-1zM43 36h1v1h-1zM47 36h1v1h-1zM51 36h1v1h-1zM7 38h1v1h-1zM17 38h1v1h-1zM19 38h1v1h-1zM22 38h1v1h-1zM25 38h1v1h-1zM27 38h1v1h-1zM29 38h1v1h-1zM32 38h2v1h-2zM37 38h1v1h-1zM43 38h1v1h-1zM55 38h1v1h-1zM3 54h2v1h-2zM6 54h1v1h-1zM9 54h1v1h-1zM19 54h3v1h-3zM24 54h3v1h-3zM29 54h2v1h-2zM35 54h1v1h-1zM38 54h4v1h-4zM48 54h1v1h-1zM50 54h3v1h-3zM0 56h4v1h-4zM7 56h2v1h-2zM10 56h1v1h-1zM16 56h2v1h-2zM20 56h1v1h-1zM28 56h2v1h-2zM31 56h1v1h-1zM33 56h1v1h-1zM40 56h2v1h-2zM45 56h1v1h-1zM2 57h2v1h-2zM9 57h1v1h-1zM11 57h1v1h-1zM18 57h1v1h-1zM21 57h1v1h-1zM23 57h1v1h-1zM29 57h2v1h-2zM32 57h1v1h-1zM37 57h1v1h-1zM43 57h1v1h-1zM48 57h1v1h-1zM51 57h1v1h-1zM55 57h1v1h-1zM7 60h1v1h-1zM9 60h1v1h-1zM11 60h1v1h-1zM24 60h1v1h-1zM28 60h2v1h-2zM34 60h1v1h-1zM36 60h1v1h-1zM47 60h1v1h-1zM54 60h2v1h-2zM7 61h1v1h-1zM17 61h1v1h-1zM49 61h1v1h-1z"/>
<path fill="#b38bff" d="M5 6h1v1h-1zM35 6h1v1h-1zM38 6h1v1h-1zM45 6h1v1h-1zM15 7h1v1h-1zM31 7h1v1h-1zM53 7h1v1h-1zM22 9h1v1h-1zM39 9h1v1h-1zM42 9h1v1h-1zM52 9h1v1h-1zM0 11h1v1h-1zM13 11h1v1h-1zM19 11h1v1h-1zM4 14h1v1h-1zM6 14h1v1h-1zM53 14h1v1h-1zM10 18h2v1h-2zM18 18h1v1h-1zM24 18h1v1h-1zM43 18h1v1h-1zM2 20h2v1h-2zM5 20h1v1h-1zM8 20h1v1h-1zM11 20h1v1h-1zM16 20h1v1h-1zM23 20h2v1h-2zM32 20h2v1h-2zM37 20h1v1h-1zM41 20h1v1h-1zM47 20h1v1h-1zM50 20h4v1h-4zM55 20h1v1h-1zM4 21h1v1h-1zM19 21h2v1h-2zM29 21h2v1h-2zM40 21h1v1h-1zM43 21h2v1h-2zM46 21h1v1h-1zM49 21h2v1h-2zM4 28h2v1h-2zM13 28h2v1h-2zM17 28h1v1h-1zM19 28h1v1h-1zM23 28h8v1h-8zM33 28h1v1h-1zM35 28h1v1h-1zM37 28h1v1h-1zM39 28h1v1h-1zM41 28h1v1h-1zM50 28h1v1h-1zM53 28h1v1h-1zM1 29h2v1h-2zM12 29h1v1h-1zM16 29h1v1h-1zM18 29h1v1h-1zM22 29h1v1h-1zM38 29h1v1h-1zM40 29h1v1h-1zM43 29h1v1h-1zM46 29h2v1h-2zM49 29h2v1h-2zM52 29h1v1h-1zM54 29h1v1h-1zM0 30h1v1h-1zM6 30h1v1h-1zM16 30h1v1h-1zM35 30h1v1h-1zM37 30h1v1h-1zM41 30h1v1h-1zM44 30h2v1h-2zM47 30h1v1h-1zM53 30h1v1h-1zM2 31h1v1h-1zM4 31h2v1h-2zM12 31h2v1h-2zM15 31h3v1h-3zM20 31h2v1h-2zM23 31h1v1h-1zM25 31h3v1h-3zM30 31h1v1h-1zM32 31h1v1h-1zM34 31h1v1h-1zM38 31h1v1h-1zM40 31h1v1h-1zM42 31h1v1h-1zM49 31h1v1h-1zM0 33h1v1h-1zM2 33h2v1h-2zM8 33h1v1h-1zM11 33h1v1h-1zM13 33h1v1h-1zM18 33h1v1h-1zM23 33h1v1h-1zM25 33h3v1h-3zM33 33h2v1h-2zM43 33h1v1h-1zM50 33h2v1h-2zM53 33h1v1h-1zM55 33h1v1h-1zM1 36h2v1h-2zM4 36h2v1h-2zM7 36h1v1h-1zM9 36h3v1h-3zM16 36h3v1h-3zM23 36h1v1h-1zM29 36h2v1h-2zM33 36h1v1h-1zM35 36h1v1h-1zM40 36h1v1h-1zM46 36h1v1h-1zM49 36h2v1h-2zM1 38h6v1h-6zM9 38h2v1h-2zM13 38h2v1h-2zM20 38h2v1h-2zM23 38h2v1h-2zM26 38h1v1h-1zM28 38h1v1h-1zM34 38h1v1h-1zM36 38h1v1h-1zM38 38h1v1h-1zM41 38h1v1h-1zM44 38h2v1h-2zM48 38h3v1h-3zM54 38h1v1h-1zM0 54h3v1h-3zM8 54h1v1h-1zM10 54h4v1h-4zM15 54h4v1h-4zM22 54h1v1h-1zM27 54h2v1h-2zM31 54h2v1h-2zM37 54h1v1h-1zM42 54h6v1h-6zM49 54h1v1h-1zM53 54h1v1h-1zM4 56h3v1h-3zM9 56h1v1h-1zM12 56h1v1h-1zM14 56h2v1h-2zM18 56h2v1h-2zM21 56h3v1h-3zM30 56h1v1h-1zM32 56h1v1h-1zM35 56h5v1h-5zM42 56h1v1h-1zM46 56h2v1h-2zM50 56h6v1h-6zM0 57h1v1h-1zM4 57h2v1h-2zM7 57h2v1h-2zM10 57h1v1h-1zM14 57h4v1h-4zM19 57h2v1h-2zM22 57h1v1h-1zM27 57h2v1h-2zM31 57h1v1h-1zM33 57h2v1h-2zM36 57h1v1h-1zM38 57h5v1h-5zM44 57h1v1h-1zM46 57h2v1h-2zM49 57h2v1h-2zM53 57h2v1h-2zM0 60h1v1h-1zM2 60h5v1h-5zM8 60h1v1h-1zM12 60h1v1h-1zM16 60h3v1h-3zM21 60h2v1h-2zM30 60h1v1h-1zM33 60h1v1h-1zM35 60h1v1h-1zM38 60h2v1h-2zM46 60h1v1h-1zM48 60h6v1h-6zM15 61h1v1h-1zM24 61h1v1h-1zM47 61h1v1h-1zM51 61h2v1h-2z"/>
<path fill="#bc97ff" d="M8 3h1v1h-1zM20 3h1v1h-1zM27 3h1v1h-1zM0 9h1v1h-1zM12 11h1v1h-1zM27 11h1v1h-1zM51 11h1v1h-1zM8 14h1v1h-1zM50 14h1v1h-1zM33 18h1v1h-1zM8 61h1v1h-1z"/>
<path fill="#c4a2ff" d="M55 3h1v1h-1zM14 6h1v1h-1zM10 10h1v1h-1zM15 13h1v1h-1z"/>
<path fill="#ccadff" d="M13 0h2v1h-2zM18 0h1v1h-1zM52 0h1v1h-1zM51 2h1v1h-1zM34 3h1v1h-1zM2 4h1v1h-1zM4 4h1v1h-1zM40 4h1v1h-1zM52 4h1v1h-1zM11 6h1v1h-1zM16 6h1v1h-1zM34 6h1v1h-1zM41 6h1v1h-1zM2 7h1v1h-1zM22 8h1v1h-1zM39 8h1v1h-1zM52 8h2v1h-2zM19 9h1v1h-1zM33 9h1v1h-1zM17 10h2v1h-2zM38 10h1v1h-1zM41 10h1v1h-1zM54 10h1v1h-1zM17 11h1v1h-1zM42 11h1v1h-1zM2 13h1v1h-1zM20 13h2v1h-2zM27 13h1v1h-1zM31 13h1v1h-1zM39 13h1v1h-1zM50 13h1v1h-1zM2 14h1v1h-1zM12 15h1v1h-1zM29 15h1v1h-1zM36 15h1v1h-1zM48 15h1v1h-1zM4 17h1v1h-1zM9 17h2v1h-2zM13 17h1v1h-1zM35 17h3v1h-3zM42 17h1v1h-1zM52 17h1v1h-1zM14 18h1v1h-1zM37 18h1v1h-1zM52 18h1v1h-1zM26 21h1v1h-1zM1 22h1v1h-1zM13 22h1v1h-1zM31 22h2v1h-2zM38 22h1v1h-1zM46 22h2v1h-2zM49 22h1v1h-1zM3 23h3v1h-3zM7 23h1v1h-1zM13 23h1v1h-1zM18 23h1v1h-1zM20 23h1v1h-1zM37 23h1v1h-1zM2 27h1v1h-1zM6 27h1v1h-1zM9 27h1v1h-1zM19 27h2v1h-2zM22 27h1v1h-1zM24 27h2v1h-2zM42 27h1v1h-1zM50 27h1v1h-1zM25 32h2v1h-2zM36 32h1v1h-1zM43 32h1v1h-1zM52 32h1v1h-1zM55 32h1v1h-1zM22 37h1v1h-1zM33 37h1v1h-1zM35 37h4v1h-4zM44 37h1v1h-1zM49 37h1v1h-1zM0 41h1v1h-1zM3 41h1v1h-1zM13 41h2v1h-2zM26 41h1v1h-1zM30 41h2v1h-2zM35 41h1v1h-1zM42 41h1v1h-1zM44 41h3v1h-3zM54 41h1v1h-1zM2 43h1v1h-1zM4 43h1v1h-1zM6 43h1v1h-1zM12 43h1v1h-1zM23 43h1v1h-1zM36 43h1v1h-1zM38 43h1v1h-1zM40 43h1v1h-1zM43 43h2v1h-2zM47 43h1v1h-1zM0 49h1v1h-1zM8 49h1v1h-1zM16 49h1v1h-1zM23 49h1v1h-1zM27 49h1v1h-1zM31 49h1v1h-1zM42 49h2v1h-2zM48 49h1v1h-1zM50 49h1v1h-1zM52 49h1v1h-1zM4 50h1v1h-1zM25 50h1v1h-1zM27 50h2v1h-2zM31 50h1v1h-1zM33 50h1v1h-1zM35 50h1v1h-1zM38 50h2v1h-2zM41 50h3v1h-3zM49 50h1v1h-1zM51 50h2v1h-2zM55 50h1v1h-1zM8 58h1v1h-1zM13 58h1v1h-1zM18 58h1v1h-1zM28 58h1v1h-1zM32 58h2v1h-2zM39 58h1v1h-1zM48 58h1v1h-1zM1 59h1v1h-1zM12 59h1v1h-1zM14 59h1v1h-1zM16 59h2v1h-2zM32 59h1v1h-1z"/>
<path fill="#d4b9ff" d="M12 0h1v1h-1zM23 0h1v1h-1zM39 0h1v1h-1zM54 0h1v1h-1zM1 3h1v1h-1zM10 3h1v1h-1zM29 3h1v1h-1zM5 4h2v1h-2zM9 4h2v1h-2zM14 4h7v1h-7zM22 4h1v1h-1zM35 4h1v1h-1zM39 4h1v1h-1zM42 4h1v1h-1zM45 4h2v1h-2zM51 4h1v1h-1zM53 4h1v1h-1zM37 6h1v1h-1zM4 7h1v1h-1zM51 7h1v1h-1zM2 8h1v1h-1zM8 8h1v1h-1zM26 8h1v1h-1zM30 8h1v1h-1zM36 8h1v1h-1zM38 8h1v1h-1zM25 10h1v1h-1zM30 10h2v1h-2zM35 10h1v1h-1zM37 10h1v1h-1zM40 10h1v1h-1zM55 10h1v1h-1zM23 11h1v1h-1zM11 13h1v1h-1zM18 13h1v1h-1zM43 13h1v1h-1zM55 13h1v1h-1zM5 15h1v1h-1zM18 15h2v1h-2zM21 15h3v1h-3zM30 15h6v1h-6zM46 15h2v1h-2zM49 15h3v1h-3zM55 15h1v1h-1zM3 17h1v1h-1zM5 17h1v1h-1zM16 17h1v1h-1zM22 17h3v1h-3zM26 17h2v1h-2zM29 17h1v1h-1zM31 17h4v1h-4zM38 17h1v1h-1zM40 17h2v1h-2zM43 17h2v1h-2zM47 17h1v1h-1zM50 17h2v1h-2zM53 17h1v1h-1zM28 21h1v1h-1zM52 21h1v1h-1zM5 22h5v1h-5zM11 22h2v1h-2zM17 22h3v1h-3zM24 22h1v1h-1zM27 22h1v1h-1zM34 22h2v1h-2zM37 22h1v1h-1zM40 22h2v1h-2zM48 22h1v1h-1zM53 22h2v1h-2zM6 23h1v1h-1zM10 23h3v1h-3zM17 23h1v1h-1zM19 23h1v1h-1zM23 23h1v1h-1zM25 23h1v1h-1zM28 23h6v1h-6zM38 23h1v1h-1zM42 23h4v1h-4zM49 23h1v1h-1zM53 23h2v1h-2zM0 27h2v1h-2zM3 27h2v1h-2zM7 27h1v1h-1zM10 27h1v1h-1zM12 27h3v1h-3zM16 27h3v1h-3zM21 27h1v1h-1zM23 27h1v1h-1zM28 27h3v1h-3zM32 27h2v1h-2zM37 27h5v1h-5zM44 27h2v1h-2zM49 27h1v1h-1zM51 27h1v1h-1zM55 27h1v1h-1zM0 32h5v1h-5zM6 32h1v1h-1zM11 32h9v1h-9zM22 32h1v1h-1zM27 32h1v1h-1zM29 32h4v1h-4zM34 32h2v1h-2zM39 32h1v1h-1zM41 32h1v1h-1zM48 32h4v1h-4zM53 32h2v1h-2zM1 37h3v1h-3zM5 37h2v1h-2zM8 37h1v1h-1zM10 37h4v1h-4zM15 37h3v1h-3zM19 37h3v1h-3zM24 37h1v1h-1zM27 37h1v1h-1zM29 37h1v1h-1zM31 37h2v1h-2zM34 37h1v1h-1zM39 37h2v1h-2zM42 37h2v1h-2zM45 37h1v1h-1zM50 37h3v1h-3zM1 41h2v1h-2zM4 41h9v1h-9zM15 41h1v1h-1zM17 41h4v1h-4zM22 41h4v1h-4zM28 41h2v1h-2zM32 41h3v1h-3zM36 41h6v1h-6zM43 41h1v1h-1zM47 41h7v1h-7zM55 41h1v1h-1zM0 43h2v1h-2zM5 43h1v1h-1zM7 43h4v1h-4zM13 43h1v1h-1zM15 43h8v1h-8zM25 43h2v1h-2zM28 43h8v1h-8zM37 43h1v1h-1zM39 43h1v1h-1zM42 43h1v1h-1zM45 43h2v1h-2zM48 43h8v1h-8zM1 49h7v1h-7zM9 49h1v1h-1zM12 49h1v1h-1zM14 49h2v1h-2zM17 49h4v1h-4zM22 49h1v1h-1zM24 49h1v1h-1zM26 49h1v1h-1zM28 49h3v1h-3zM32 49h4v1h-4zM38 49h4v1h-4zM44 49h4v1h-4zM49 49h1v1h-1zM51 49h1v1h-1zM53 49h1v1h-1zM55 49h1v1h-1zM0 50h4v1h-4zM5 50h13v1h-13zM19 50h6v1h-6zM26 50h1v1h-1zM29 50h2v1h-2zM32 50h1v1h-1zM34 50h1v1h-1zM40 50h1v1h-1zM44 50h4v1h-4zM50 50h1v1h-1zM53 50h2v1h-2zM2 58h3v1h-3zM6 58h2v1h-2zM10 58h3v1h-3zM16 58h2v1h-2zM19 58h2v1h-2zM22 58h2v1h-2zM25 58h3v1h-3zM29 58h3v1h-3zM34 58h2v1h-2zM37 58h2v1h-2zM40 58h4v1h-4zM45 58h2v1h-2zM49 58h7v1h-7zM2 59h10v1h-10zM13 59h1v1h-1zM15 59h1v1h-1zM18 59h14v1h-14zM33 59h11v1h-11zM45 59h5v1h-5zM52 59h2v1h-2z"/>
<path fill="#dcc4ff" d="M0 0h1v1h-1zM17 0h1v1h-1zM11 3h1v1h-1zM15 3h1v1h-1zM40 6h1v1h-1zM4 8h1v1h-1zM23 8h1v1h-1zM40 8h1v1h-1zM2 10h1v1h-1zM4 10h1v1h-1zM12 10h1v1h-1zM36 10h1v1h-1zM1 13h1v1h-1zM5 13h1v1h-1zM7 13h1v1h-1zM22 13h1v1h-1zM44 13h1v1h-1zM18 21h1v1h-1zM32 21h1v1h-1zM42 33h1v1h-1z"/>
<path fill="#e3d0ff" d="M1 5h1v1h-1zM8 5h2v1h-2zM13 5h1v1h-1zM15 5h1v1h-1zM18 5h1v1h-1zM20 5h6v1h-6zM29 5h4v1h-4zM35 5h3v1h-3zM39 5h2v1h-2zM42 5h6v1h-6zM55 5h1v1h-1zM0 12h5v1h-5zM7 12h4v1h-4zM17 12h3v1h-3zM24 12h4v1h-4zM30 12h3v1h-3zM34 12h2v1h-2zM38 12h3v1h-3zM42 12h2v1h-2zM45 12h1v1h-1zM49 12h3v1h-3zM55 12h1v1h-1zM0 16h6v1h-6zM7 16h1v1h-1zM10 16h1v1h-1zM12 16h1v1h-1zM14 16h1v1h-1zM18 16h3v1h-3zM22 16h8v1h-8zM31 16h5v1h-5zM37 16h2v1h-2zM40 16h1v1h-1zM43 16h1v1h-1zM45 16h3v1h-3zM54 16h2v1h-2zM1 19h1v1h-1zM4 19h1v1h-1zM9 19h4v1h-4zM18 19h4v1h-4zM25 19h3v1h-3zM29 19h1v1h-1zM31 19h8v1h-8zM40 19h2v1h-2zM46 19h6v1h-6zM53 19h3v1h-3zM0 24h8v1h-8zM13 24h1v1h-1zM15 24h1v1h-1zM19 24h1v1h-1zM22 24h3v1h-3zM26 24h2v1h-2zM30 24h2v1h-2zM34 24h1v1h-1zM36 24h10v1h-10zM49 24h3v1h-3zM54 24h2v1h-2zM0 25h6v1h-6zM8 25h3v1h-3zM12 25h1v1h-1zM15 25h1v1h-1zM18 25h2v1h-2zM21 25h2v1h-2zM24 25h5v1h-5zM31 25h2v1h-2zM35 25h1v1h-1zM40 25h2v1h-2zM44 25h2v1h-2zM47 25h7v1h-7zM1 26h3v1h-3zM6 26h5v1h-5zM12 26h7v1h-7zM22 26h1v1h-1zM25 26h3v1h-3zM30 26h1v1h-1zM33 26h2v1h-2zM39 26h4v1h-4zM45 26h3v1h-3zM49 26h2v1h-2zM53 26h2v1h-2zM3 39h4v1h-4zM8 39h3v1h-3zM12 39h5v1h-5zM18 39h6v1h-6zM27 39h6v1h-6zM34 39h3v1h-3zM38 39h5v1h-5zM44 39h2v1h-2zM48 39h3v1h-3zM52 39h1v1h-1zM54 39h1v1h-1zM0 40h1v1h-1zM2 40h1v1h-1zM5 40h1v1h-1zM7 40h4v1h-4zM13 40h1v1h-1zM15 40h7v1h-7zM23 40h3v1h-3zM27 40h1v1h-1zM29 40h5v1h-5zM35 40h5v1h-5zM41 40h1v1h-1zM43 40h2v1h-2zM48 40h3v1h-3zM52 40h3v1h-3zM0 42h3v1h-3zM4 42h6v1h-6zM11 42h2v1h-2zM14 42h1v1h-1zM16 42h1v1h-1zM18 42h4v1h-4zM23 42h1v1h-1zM25 42h5v1h-5zM33 42h5v1h-5zM39 42h7v1h-7zM47 42h1v1h-1zM49 42h3v1h-3zM53 42h2v1h-2zM0 46h2v1h-2zM4 46h1v1h-1zM8 46h1v1h-1zM10 46h11v1h-11zM24 46h2v1h-2zM27 46h2v1h-2zM31 46h4v1h-4zM36 46h3v1h-3zM40 46h4v1h-4zM45 46h3v1h-3zM49 46h2v1h-2zM52 46h3v1h-3zM0 47h1v1h-1zM2 47h5v1h-5zM8 47h2v1h-2zM11 47h2v1h-2zM14 47h1v1h-1zM16 47h4v1h-4zM21 47h4v1h-4zM26 47h3v1h-3zM30 47h1v1h-1zM33 47h9v1h-9zM43 47h4v1h-4zM48 47h1v1h-1zM50 47h6v1h-6zM1 51h4v1h-4zM6 51h2v1h-2zM9 51h1v1h-1zM11 51h2v1h-2zM14 51h5v1h-5zM20 51h3v1h-3zM24 51h1v1h-1zM26 51h2v1h-2zM29 51h5v1h-5zM35 51h8v1h-8zM44 51h2v1h-2zM47 51h2v1h-2zM50 51h1v1h-1zM52 51h1v1h-1zM54 51h1v1h-1z"/>
<path fill="#ebdcff" d="M7 5h1v1h-1zM26 5h1v1h-1zM28 5h1v1h-1zM38 5h1v1h-1zM41 5h1v1h-1zM53 5h2v1h-2zM11 12h1v1h-1zM23 12h1v1h-1zM28 12h1v1h-1zM44 12h1v1h-1zM13 16h1v1h-1zM16 16h2v1h-2zM21 16h1v1h-1zM36 16h1v1h-1zM39 16h1v1h-1zM42 16h1v1h-1zM48 16h2v1h-2zM2 19h1v1h-1zM8 19h1v1h-1zM13 19h1v1h-1zM42 19h1v1h-1zM44 19h1v1h-1zM52 19h1v1h-1zM8 24h1v1h-1zM11 24h1v1h-1zM16 24h1v1h-1zM18 24h1v1h-1zM21 24h1v1h-1zM46 24h3v1h-3zM52 24h1v1h-1zM11 25h1v1h-1zM13 25h2v1h-2zM23 25h1v1h-1zM29 25h2v1h-2zM33 25h2v1h-2zM37 25h1v1h-1zM42 25h2v1h-2zM54 25h1v1h-1zM4 26h2v1h-2zM11 26h1v1h-1zM19 26h2v1h-2zM28 26h2v1h-2zM35 26h1v1h-1zM44 26h1v1h-1zM48 26h1v1h-1zM51 26h2v1h-2zM55 26h1v1h-1zM0 39h3v1h-3zM7 39h1v1h-1zM11 39h1v1h-1zM17 39h1v1h-1zM24 39h1v1h-1zM33 39h1v1h-1zM37 39h1v1h-1zM43 39h1v1h-1zM46 39h1v1h-1zM55 39h1v1h-1zM1 40h1v1h-1zM6 40h1v1h-1zM11 40h2v1h-2zM26 40h1v1h-1zM28 40h1v1h-1zM34 40h1v1h-1zM40 40h1v1h-1zM42 40h1v1h-1zM45 40h3v1h-3zM51 40h1v1h-1zM55 40h1v1h-1zM3 42h1v1h-1zM10 42h1v1h-1zM13 42h1v1h-1zM15 42h1v1h-1zM17 42h1v1h-1zM22 42h1v1h-1zM24 42h1v1h-1zM30 42h3v1h-3zM46 42h1v1h-1zM48 42h1v1h-1zM52 42h1v1h-1zM55 42h1v1h-1zM1 44h1v1h-1zM3 44h4v1h-4zM9 44h1v1h-1zM15 44h3v1h-3zM19 44h1v1h-1zM22 44h1v1h-1zM26 44h2v1h-2zM34 44h2v1h-2zM37 44h1v1h-1zM39 44h1v1h-1zM41 44h2v1h-2zM50 44h1v1h-1zM4 45h1v1h-1zM6 45h1v1h-1zM11 45h1v1h-1zM17 45h2v1h-2zM20 45h1v1h-1zM27 45h1v1h-1zM32 45h2v1h-2zM44 45h2v1h-2zM48 45h1v1h-1zM50 45h2v1h-2zM2 46h2v1h-2zM5 46h2v1h-2zM9 46h1v1h-1zM21 46h3v1h-3zM26 46h1v1h-1zM35 46h1v1h-1zM39 46h1v1h-1zM44 46h1v1h-1zM48 46h1v1h-1zM51 46h1v1h-1zM55 46h1v1h-1zM1 47h1v1h-1zM7 47h1v1h-1zM10 47h1v1h-1zM13 47h1v1h-1zM15 47h1v1h-1zM20 47h1v1h-1zM25 47h1v1h-1zM31 47h1v1h-1zM42 47h1v1h-1zM47 47h1v1h-1zM49 47h1v1h-1zM9 48h2v1h-2zM15 48h1v1h-1zM21 48h1v1h-1zM23 48h3v1h-3zM31 48h1v1h-1zM39 48h1v1h-1zM41 48h1v1h-1zM52 48h1v1h-1zM0 51h1v1h-1zM5 51h1v1h-1zM8 51h1v1h-1zM10 51h1v1h-1zM13 51h1v1h-1zM23 51h1v1h-1zM25 51h1v1h-1zM28 51h1v1h-1zM34 51h1v1h-1zM43 51h1v1h-1zM46 51h1v1h-1zM49 51h1v1h-1zM51 51h1v1h-1zM53 51h1v1h-1zM55 51h1v1h-1zM1 52h1v1h-1zM11 52h1v1h-1zM17 52h1v1h-1zM21 52h1v1h-1zM31 52h1v1h-1zM34 52h1v1h-1zM36 52h1v1h-1zM46 52h3v1h-3zM54 52h1v1h-1zM4 53h1v1h-1zM14 53h2v1h-2zM23 53h3v1h-3zM28 53h1v1h-1zM30 53h1v1h-1zM32 53h1v1h-1zM34 53h1v1h-1zM36 53h2v1h-2zM44 53h1v1h-1zM47 53h1v1h-1zM50 53h1v1h-1zM53 53h1v1h-1zM55 53h1v1h-1zM1 55h1v1h-1zM3 55h1v1h-1zM8 55h1v1h-1zM11 55h3v1h-3zM15 55h1v1h-1zM20 55h1v1h-1zM27 55h1v1h-1zM30 55h1v1h-1zM33 55h1v1h-1zM36 55h1v1h-1zM46 55h1v1h-1zM49 55h2v1h-2zM52 55h1v1h-1z"/>
<path fill="#f2e7ff" d="M16 34h1v1h-1zM18 34h1v1h-1zM28 34h1v1h-1zM47 34h1v1h-1zM3 35h1v1h-1zM8 35h1v1h-1zM18 35h1v1h-1zM41 35h1v1h-1zM43 35h1v1h-1zM46 35h1v1h-1zM0 44h1v1h-1zM2 44h1v1h-1zM7 44h2v1h-2zM10 44h5v1h-5zM18 44h1v1h-1zM20 44h2v1h-2zM23 44h3v1h-3zM28 44h6v1h-6zM36 44h1v1h-1zM38 44h1v1h-1zM40 44h1v1h-1zM43 44h7v1h-7zM51 44h5v1h-5zM0 45h4v1h-4zM5 45h1v1h-1zM7 45h4v1h-4zM12 45h5v1h-5zM19 45h1v1h-1zM21 45h6v1h-6zM28 45h4v1h-4zM34 45h10v1h-10zM46 45h2v1h-2zM49 45h1v1h-1zM52 45h4v1h-4zM0 48h9v1h-9zM11 48h4v1h-4zM16 48h5v1h-5zM22 48h1v1h-1zM26 48h5v1h-5zM32 48h7v1h-7zM40 48h1v1h-1zM42 48h4v1h-4zM47 48h5v1h-5zM53 48h3v1h-3zM0 52h1v1h-1zM2 52h9v1h-9zM12 52h5v1h-5zM18 52h3v1h-3zM22 52h9v1h-9zM32 52h2v1h-2zM35 52h1v1h-1zM37 52h9v1h-9zM49 52h5v1h-5zM55 52h1v1h-1zM0 53h4v1h-4zM5 53h9v1h-9zM16 53h7v1h-7zM26 53h2v1h-2zM29 53h1v1h-1zM31 53h1v1h-1zM33 53h1v1h-1zM35 53h1v1h-1zM38 53h6v1h-6zM45 53h2v1h-2zM48 53h2v1h-2zM51 53h2v1h-2zM54 53h1v1h-1zM0 55h1v1h-1zM2 55h1v1h-1zM4 55h4v1h-4zM9 55h2v1h-2zM14 55h1v1h-1zM16 55h4v1h-4zM21 55h6v1h-6zM28 55h2v1h-2zM31 55h2v1h-2zM34 55h2v1h-2zM37 55h9v1h-9zM47 55h2v1h-2zM51 55h1v1h-1zM53 55h3v1h-3z"/>
<path fill="#f8f3ff" d="M2 0h1v1h-1zM48 0h1v1h-1zM1 1h1v1h-1zM38 1h1v1h-1zM41 1h1v1h-1zM8 2h1v1h-1zM12 3h1v1h-1zM14 3h1v1h-1zM32 3h1v1h-1zM11 4h1v1h-1zM25 4h1v1h-1zM44 4h1v1h-1zM22 7h1v1h-1zM43 7h1v1h-1zM10 8h1v1h-1zM31 8h1v1h-1zM4 9h1v1h-1zM10 9h1v1h-1zM32 9h1v1h-1zM38 9h1v1h-1zM54 9h2v1h-2zM45 10h1v1h-1zM49 11h1v1h-1zM15 12h1v1h-1zM20 12h1v1h-1zM27 14h1v1h-1zM33 14h1v1h-1zM51 14h1v1h-1zM13 15h1v1h-1zM24 15h1v1h-1zM44 15h1v1h-1zM8 16h1v1h-1zM45 17h2v1h-2zM21 18h1v1h-1zM40 18h3v1h-3zM44 18h1v1h-1zM26 20h1v1h-1zM43 20h1v1h-1zM25 22h1v1h-1zM28 22h2v1h-2zM50 22h1v1h-1zM0 23h1v1h-1zM27 23h1v1h-1zM29 24h1v1h-1zM43 26h1v1h-1zM0 28h1v1h-1zM20 28h1v1h-1zM30 29h1v1h-1zM12 30h1v1h-1zM35 31h1v1h-1zM46 32h1v1h-1zM14 33h1v1h-1zM0 34h16v1h-16zM17 34h1v1h-1zM19 34h9v1h-9zM29 34h16v1h-16zM48 34h6v1h-6zM55 34h1v1h-1zM0 35h3v1h-3zM5 35h3v1h-3zM10 35h3v1h-3zM14 35h4v1h-4zM19 35h13v1h-13zM33 35h2v1h-2zM36 35h5v1h-5zM42 35h1v1h-1zM44 35h2v1h-2zM47 35h3v1h-3zM51 35h5v1h-5zM42 36h1v1h-1zM52 36h1v1h-1zM0 37h1v1h-1zM18 37h1v1h-1zM53 37h1v1h-1zM11 38h1v1h-1zM39 38h1v1h-1zM44 59h1v1h-1zM0 61h2v1h-2zM23 61h1v1h-1zM26 61h1v1h-1zM31 61h1v1h-1zM55 61h1v1h-1z"/>
<path fill="#ffffff" d="M40 0h1v1h-1zM44 1h1v1h-1zM26 3h1v1h-1zM0 4h2v1h-2zM23 4h1v1h-1zM23 7h1v1h-1zM11 8h1v1h-1zM43 11h1v1h-1zM55 11h1v1h-1zM5 12h2v1h-2zM14 12h1v1h-1zM16 12h1v1h-1zM21 12h1v1h-1zM54 12h1v1h-1zM4 13h1v1h-1zM16 13h1v1h-1zM28 13h1v1h-1zM9 14h1v1h-1zM14 14h2v1h-2zM38 14h1v1h-1zM52 15h1v1h-1zM9 16h1v1h-1zM52 16h2v1h-2zM0 17h1v1h-1zM49 17h1v1h-1zM36 18h1v1h-1zM45 18h1v1h-1zM49 18h1v1h-1zM6 19h1v1h-1zM16 19h1v1h-1zM29 20h1v1h-1zM39 20h1v1h-1zM42 20h1v1h-1zM25 21h1v1h-1zM51 22h2v1h-2zM1 23h1v1h-1zM7 25h1v1h-1zM21 26h1v1h-1zM23 26h1v1h-1zM5 27h1v1h-1zM1 28h1v1h-1zM31 28h1v1h-1zM44 28h2v1h-2zM51 28h1v1h-1zM23 29h2v1h-2zM55 29h1v1h-1zM23 30h1v1h-1zM55 30h1v1h-1zM8 31h1v1h-1zM5 32h1v1h-1zM45 34h2v1h-2zM54 34h1v1h-1zM4 35h1v1h-1zM9 35h1v1h-1zM13 35h1v1h-1zM32 35h1v1h-1zM35 35h1v1h-1zM50 35h1v1h-1zM28 36h1v1h-1zM47 37h1v1h-1zM0 38h1v1h-1zM8 38h1v1h-1zM15 38h1v1h-1zM52 38h1v1h-1zM49 56h1v1h-1zM1 60h1v1h-1zM44 60h1v1h-1zM4 61h2v1h-2zM25 61h1v1h-1zM38 61h1v1h-1z"/>
<path fill="#fff5f2" d="M5 0h1v1h-1zM18 1h1v1h-1zM42 1h1v1h-1zM3 2h1v1h-1zM17 2h1v1h-1zM34 2h1v1h-1zM43 2h1v1h-1zM31 3h1v1h-1zM39 3h1v1h-1zM42 3h1v1h-1zM7 4h1v1h-1zM41 4h1v1h-1zM1 6h1v1h-1zM25 7h2v1h-2zM49 8h1v1h-1zM7 10h2v1h-2zM1 11h1v1h-1zM37 11h1v1h-1zM47 12h2v1h-2zM53 12h1v1h-1zM34 13h1v1h-1zM47 13h1v1h-1zM52 13h1v1h-1zM12 14h1v1h-1zM21 14h1v1h-1zM41 14h1v1h-1zM45 14h1v1h-1zM52 14h1v1h-1zM51 16h1v1h-1zM18 17h1v1h-1zM20 17h1v1h-1zM54 17h2v1h-2zM5 18h1v1h-1zM20 18h1v1h-1zM46 18h1v1h-1zM7 19h1v1h-1zM18 20h1v1h-1zM28 20h1v1h-1zM38 20h1v1h-1zM9 21h1v1h-1zM21 21h1v1h-1zM22 22h1v1h-1zM15 23h1v1h-1zM16 25h1v1h-1zM38 26h1v1h-1zM26 27h1v1h-1zM21 28h1v1h-1zM32 28h1v1h-1zM43 28h1v1h-1zM11 29h1v1h-1zM29 29h1v1h-1zM35 29h1v1h-1zM10 30h2v1h-2zM13 30h2v1h-2zM28 30h1v1h-1zM40 30h1v1h-1zM48 30h1v1h-1zM50 30h2v1h-2zM11 31h1v1h-1zM36 31h2v1h-2zM9 32h1v1h-1zM28 32h1v1h-1zM31 33h2v1h-2zM6 36h1v1h-1zM53 36h1v1h-1zM46 37h1v1h-1zM30 38h1v1h-1zM42 38h1v1h-1zM10 49h1v1h-1zM13 49h1v1h-1zM44 56h1v1h-1zM48 56h1v1h-1zM25 60h2v1h-2zM28 61h3v1h-3zM33 61h1v1h-1zM35 61h1v1h-1zM37 61h1v1h-1zM50 61h1v1h-1z"/>
<path fill="#ffd9cb" d="M21 0h1v1h-1zM41 0h1v1h-1zM36 1h2v1h-2zM48 1h1v1h-1zM1 2h1v1h-1zM15 2h1v1h-1zM18 2h1v1h-1zM43 4h1v1h-1zM24 6h1v1h-1zM32 6h1v1h-1zM43 6h1v1h-1zM48 6h1v1h-1zM52 6h1v1h-1zM28 7h1v1h-1zM41 8h1v1h-1zM27 10h1v1h-1zM26 13h1v1h-1zM54 13h1v1h-1zM1 17h1v1h-1zM14 17h2v1h-2zM21 17h1v1h-1zM7 18h1v1h-1zM6 31h1v1h-1zM12 36h1v1h-1zM22 40h1v1h-1zM38 42h1v1h-1zM24 57h1v1h-1z"/>
<path fill="#ffcfbf" d="M6 0h1v1h-1zM22 0h1v1h-1zM29 0h1v1h-1zM31 0h1v1h-1zM34 0h1v1h-1zM37 0h1v1h-1zM45 0h1v1h-1zM49 0h1v1h-1zM0 1h1v1h-1zM2 1h2v1h-2zM7 1h1v1h-1zM10 1h1v1h-1zM15 1h2v1h-2zM24 1h1v1h-1zM28 1h1v1h-1zM39 1h1v1h-1zM2 2h1v1h-1zM6 2h1v1h-1zM10 2h1v1h-1zM27 2h1v1h-1zM29 2h1v1h-1zM31 2h1v1h-1zM41 2h1v1h-1zM52 2h1v1h-1zM7 3h1v1h-1zM9 3h1v1h-1zM23 3h1v1h-1zM35 3h1v1h-1zM41 3h1v1h-1zM46 3h1v1h-1zM50 4h1v1h-1zM55 4h1v1h-1zM3 6h1v1h-1zM12 6h1v1h-1zM15 6h1v1h-1zM21 6h2v1h-2zM50 6h1v1h-1zM6 7h1v1h-1zM19 7h3v1h-3zM33 7h1v1h-1zM29 8h1v1h-1zM50 8h1v1h-1zM54 8h1v1h-1zM7 9h1v1h-1zM14 9h2v1h-2zM24 9h1v1h-1zM27 9h1v1h-1zM48 9h1v1h-1zM23 10h1v1h-1zM34 10h1v1h-1zM43 10h2v1h-2zM51 10h1v1h-1zM6 11h1v1h-1zM11 11h1v1h-1zM21 11h1v1h-1zM45 11h2v1h-2zM8 13h1v1h-1zM12 13h3v1h-3zM17 13h1v1h-1zM19 13h1v1h-1zM24 13h1v1h-1zM49 13h1v1h-1zM51 13h1v1h-1zM24 14h1v1h-1zM37 14h1v1h-1zM26 15h1v1h-1zM41 15h2v1h-2zM1 18h1v1h-1zM15 19h1v1h-1zM27 20h1v1h-1zM16 22h1v1h-1zM43 22h1v1h-1zM12 24h1v1h-1zM31 26h1v1h-1zM10 28h1v1h-1zM5 29h1v1h-1zM14 29h1v1h-1zM34 29h1v1h-1zM44 29h1v1h-1zM14 31h1v1h-1zM48 31h1v1h-1zM24 32h1v1h-1zM32 36h1v1h-1zM10 60h1v1h-1zM31 60h1v1h-1zM3 61h1v1h-1zM13 61h1v1h-1zM19 61h2v1h-2zM54 61h1v1h-1z"/>
<path fill="#ffc6b2" d="M9 0h1v1h-1zM15 0h1v1h-1zM30 0h1v1h-1zM43 0h1v1h-1zM46 0h1v1h-1zM50 0h1v1h-1zM23 1h1v1h-1zM25 1h3v1h-3zM29 1h2v1h-2zM32 1h2v1h-2zM49 1h1v1h-1zM51 1h2v1h-2zM4 2h1v1h-1zM12 2h1v1h-1zM21 2h1v1h-1zM35 2h2v1h-2zM39 2h2v1h-2zM46 2h1v1h-1zM49 2h2v1h-2zM53 2h1v1h-1zM18 3h1v1h-1zM51 3h1v1h-1zM27 4h1v1h-1zM31 4h1v1h-1zM12 5h1v1h-1zM16 5h1v1h-1zM18 6h1v1h-1zM20 6h1v1h-1zM54 6h1v1h-1zM10 7h1v1h-1zM29 7h1v1h-1zM42 7h1v1h-1zM47 7h1v1h-1zM6 8h1v1h-1zM9 8h1v1h-1zM14 8h1v1h-1zM17 8h2v1h-2zM32 8h1v1h-1zM6 9h1v1h-1zM8 9h1v1h-1zM12 9h1v1h-1zM23 9h1v1h-1zM35 9h1v1h-1zM41 9h1v1h-1zM46 9h1v1h-1zM51 9h1v1h-1zM0 10h1v1h-1zM5 10h1v1h-1zM14 10h1v1h-1zM19 10h1v1h-1zM21 10h1v1h-1zM24 10h1v1h-1zM29 10h1v1h-1zM39 10h1v1h-1zM48 10h1v1h-1zM50 10h1v1h-1zM2 11h2v1h-2zM5 11h1v1h-1zM7 11h1v1h-1zM14 11h1v1h-1zM20 11h1v1h-1zM35 11h1v1h-1zM47 11h2v1h-2zM54 11h1v1h-1zM36 12h1v1h-1zM23 13h1v1h-1zM37 13h2v1h-2zM42 13h1v1h-1zM46 13h1v1h-1zM53 13h1v1h-1zM28 14h1v1h-1zM36 14h1v1h-1zM37 15h1v1h-1zM0 18h1v1h-1zM2 18h2v1h-2zM9 18h1v1h-1zM15 18h1v1h-1zM28 18h1v1h-1zM39 18h1v1h-1zM48 18h1v1h-1zM49 20h1v1h-1zM54 20h1v1h-1zM22 21h1v1h-1zM24 21h1v1h-1zM38 21h1v1h-1zM15 22h1v1h-1zM30 22h1v1h-1zM42 22h1v1h-1zM45 22h1v1h-1zM16 23h1v1h-1zM34 23h1v1h-1zM39 25h1v1h-1zM32 26h1v1h-1zM52 27h3v1h-3zM9 28h1v1h-1zM49 28h1v1h-1zM10 29h1v1h-1zM1 30h1v1h-1zM7 30h1v1h-1zM42 30h1v1h-1zM18 31h1v1h-1zM47 31h1v1h-1zM19 33h1v1h-1zM35 33h1v1h-1zM37 36h1v1h-1zM44 36h2v1h-2zM3 40h1v1h-1zM27 43h1v1h-1zM46 48h1v1h-1zM23 54h1v1h-1zM43 56h1v1h-1zM12 57h1v1h-1zM9 61h1v1h-1zM16 61h1v1h-1zM22 61h1v1h-1zM39 61h1v1h-1zM45 61h1v1h-1z"/>
<path fill="#ffbca6" d="M26 0h1v1h-1zM32 0h1v1h-1zM35 0h1v1h-1zM47 0h1v1h-1zM0 2h1v1h-1zM7 2h1v1h-1zM14 2h1v1h-1zM22 2h1v1h-1zM54 2h1v1h-1zM13 6h1v1h-1zM1 8h1v1h-1zM34 8h2v1h-2zM44 8h1v1h-1zM46 8h1v1h-1zM11 9h1v1h-1zM40 9h1v1h-1zM44 9h2v1h-2zM20 10h1v1h-1zM42 10h1v1h-1zM30 11h4v1h-4zM39 11h1v1h-1zM50 11h1v1h-1zM12 12h1v1h-1zM0 14h1v1h-1zM28 17h1v1h-1zM48 17h1v1h-1zM4 18h1v1h-1zM8 18h1v1h-1zM16 18h1v1h-1zM47 18h1v1h-1zM22 19h1v1h-1zM23 21h1v1h-1zM0 22h1v1h-1zM44 22h1v1h-1zM22 23h1v1h-1zM28 24h1v1h-1zM33 24h1v1h-1zM20 25h1v1h-1zM22 28h1v1h-1zM42 29h1v1h-1zM29 30h1v1h-1zM7 32h1v1h-1zM10 32h1v1h-1zM48 37h1v1h-1zM18 38h1v1h-1zM4 40h1v1h-1zM24 43h1v1h-1zM7 46h1v1h-1zM29 46h2v1h-2zM5 58h1v1h-1zM10 61h1v1h-1zM41 61h1v1h-1zM46 61h1v1h-1z"/>
<path fill="#ff9e81" d="M8 0h1v1h-1zM19 0h1v1h-1zM42 0h1v1h-1zM4 1h1v1h-1zM20 1h1v1h-1zM48 2h1v1h-1zM55 2h1v1h-1zM2 3h1v1h-1zM22 3h1v1h-1zM25 3h1v1h-1zM28 3h1v1h-1zM52 3h2v1h-2zM52 5h1v1h-1zM2 6h1v1h-1zM10 6h1v1h-1zM23 6h1v1h-1zM30 6h1v1h-1zM51 6h1v1h-1zM55 6h1v1h-1zM11 7h1v1h-1zM16 7h1v1h-1zM38 7h2v1h-2zM45 7h1v1h-1zM49 7h1v1h-1zM21 8h1v1h-1zM25 8h1v1h-1zM37 8h1v1h-1zM5 9h1v1h-1zM20 9h1v1h-1zM3 10h1v1h-1zM11 10h1v1h-1zM49 10h1v1h-1zM4 11h1v1h-1zM18 11h1v1h-1zM36 11h1v1h-1zM0 13h1v1h-1zM6 13h1v1h-1zM29 13h2v1h-2zM36 13h1v1h-1zM40 13h1v1h-1zM45 13h1v1h-1zM10 14h1v1h-1zM46 14h1v1h-1zM48 14h1v1h-1zM9 15h1v1h-1zM15 15h1v1h-1zM39 15h1v1h-1zM45 15h1v1h-1zM53 15h1v1h-1zM2 17h1v1h-1zM17 17h1v1h-1zM19 18h1v1h-1zM23 18h1v1h-1zM25 18h1v1h-1zM32 18h1v1h-1zM38 18h1v1h-1zM51 18h1v1h-1zM23 19h1v1h-1zM15 20h1v1h-1zM30 20h1v1h-1zM6 21h1v1h-1zM14 21h1v1h-1zM3 22h1v1h-1zM24 23h1v1h-1zM46 23h1v1h-1zM47 27h2v1h-2zM52 28h1v1h-1zM55 28h1v1h-1zM4 29h1v1h-1zM9 29h1v1h-1zM8 30h1v1h-1zM10 31h1v1h-1zM21 32h1v1h-1zM39 33h1v1h-1zM44 33h1v1h-1zM48 33h1v1h-1zM14 36h1v1h-1zM14 37h1v1h-1zM26 37h1v1h-1zM54 37h1v1h-1zM16 38h1v1h-1zM37 50h1v1h-1zM5 54h1v1h-1zM55 54h1v1h-1zM11 56h1v1h-1zM25 56h1v1h-1zM34 56h1v1h-1zM26 57h1v1h-1zM19 60h1v1h-1zM42 60h1v1h-1zM27 61h1v1h-1z"/>
<path fill="#ff9475" d="M10 0h1v1h-1zM27 0h2v1h-2zM51 0h1v1h-1zM6 1h1v1h-1zM12 1h2v1h-2zM19 1h1v1h-1zM43 1h1v1h-1zM45 1h1v1h-1zM53 1h1v1h-1zM9 2h1v1h-1zM13 2h1v1h-1zM16 2h1v1h-1zM23 2h2v1h-2zM26 2h1v1h-1zM33 2h1v1h-1zM37 2h1v1h-1zM42 2h1v1h-1zM5 3h1v1h-1zM13 3h1v1h-1zM30 3h1v1h-1zM36 3h1v1h-1zM38 3h1v1h-1zM44 3h1v1h-1zM47 3h2v1h-2zM13 4h1v1h-1zM48 4h2v1h-2zM14 5h1v1h-1zM33 5h1v1h-1zM51 5h1v1h-1zM7 6h1v1h-1zM25 6h2v1h-2zM28 6h1v1h-1zM33 6h1v1h-1zM39 6h1v1h-1zM44 6h1v1h-1zM46 6h1v1h-1zM49 6h1v1h-1zM53 6h1v1h-1zM8 7h1v1h-1zM13 7h2v1h-2zM36 7h1v1h-1zM41 7h1v1h-1zM44 7h1v1h-1zM50 7h1v1h-1zM0 8h1v1h-1zM16 8h1v1h-1zM24 8h1v1h-1zM48 8h1v1h-1zM51 8h1v1h-1zM2 9h1v1h-1zM17 9h1v1h-1zM28 9h1v1h-1zM30 9h1v1h-1zM34 9h1v1h-1zM47 9h1v1h-1zM49 9h1v1h-1zM53 9h1v1h-1zM15 10h1v1h-1zM26 10h1v1h-1zM28 10h1v1h-1zM52 10h1v1h-1zM15 11h1v1h-1zM38 11h1v1h-1zM3 13h1v1h-1zM10 13h1v1h-1zM25 13h1v1h-1zM32 13h1v1h-1zM35 13h1v1h-1zM3 14h1v1h-1zM11 14h1v1h-1zM19 14h1v1h-1zM40 14h1v1h-1zM42 14h1v1h-1zM44 14h1v1h-1zM54 14h1v1h-1zM10 15h1v1h-1zM16 15h1v1h-1zM25 15h1v1h-1zM27 15h2v1h-2zM25 17h1v1h-1zM39 17h1v1h-1zM22 18h1v1h-1zM29 18h1v1h-1zM34 18h1v1h-1zM54 18h1v1h-1zM4 20h1v1h-1zM33 21h1v1h-1zM35 21h1v1h-1zM37 21h1v1h-1zM10 22h1v1h-1zM23 22h1v1h-1zM33 22h1v1h-1zM2 23h1v1h-1zM8 23h2v1h-2zM47 23h1v1h-1zM11 27h1v1h-1zM35 27h1v1h-1zM3 28h1v1h-1zM8 28h1v1h-1zM34 28h1v1h-1zM54 28h1v1h-1zM26 29h1v1h-1zM31 29h1v1h-1zM45 29h1v1h-1zM3 30h1v1h-1zM18 30h2v1h-2zM30 30h1v1h-1zM31 31h1v1h-1zM54 31h1v1h-1zM6 33h1v1h-1zM37 33h1v1h-1zM46 33h1v1h-1zM20 36h1v1h-1zM26 36h1v1h-1zM55 36h1v1h-1zM25 37h1v1h-1zM46 38h1v1h-1zM53 38h1v1h-1zM37 49h1v1h-1zM36 50h1v1h-1zM14 54h1v1h-1zM34 54h1v1h-1zM25 57h1v1h-1zM35 57h1v1h-1zM52 57h1v1h-1zM14 60h1v1h-1zM37 60h1v1h-1zM40 60h1v1h-1zM12 61h1v1h-1z"/>
<path fill="#ff8969" d="M4 0h1v1h-1zM7 0h1v1h-1zM53 0h1v1h-1zM8 1h2v1h-2zM22 1h1v1h-1zM46 1h1v1h-1zM50 1h1v1h-1zM55 1h1v1h-1zM5 2h1v1h-1zM11 2h1v1h-1zM19 2h2v1h-2zM32 2h1v1h-1zM38 2h1v1h-1zM45 2h1v1h-1zM47 2h1v1h-1zM6 3h1v1h-1zM16 3h2v1h-2zM19 3h1v1h-1zM24 3h1v1h-1zM54 3h1v1h-1zM26 4h1v1h-1zM33 4h1v1h-1zM11 5h1v1h-1zM49 5h1v1h-1zM6 6h1v1h-1zM29 6h1v1h-1zM0 7h1v1h-1zM9 7h1v1h-1zM17 7h1v1h-1zM35 7h1v1h-1zM40 7h1v1h-1zM7 8h1v1h-1zM42 8h1v1h-1zM47 8h1v1h-1zM55 8h1v1h-1zM1 9h1v1h-1zM3 9h1v1h-1zM9 9h1v1h-1zM16 9h1v1h-1zM37 9h1v1h-1zM50 9h1v1h-1zM6 10h1v1h-1zM22 10h1v1h-1zM33 10h1v1h-1zM53 10h1v1h-1zM24 11h1v1h-1zM26 11h1v1h-1zM28 11h2v1h-2zM41 11h1v1h-1zM16 14h2v1h-2zM22 14h1v1h-1zM25 14h1v1h-1zM30 14h1v1h-1zM32 14h1v1h-1zM55 14h1v1h-1zM3 15h2v1h-2zM38 15h1v1h-1zM40 15h1v1h-1zM8 17h1v1h-1zM11 17h1v1h-1zM30 17h1v1h-1zM12 18h1v1h-1zM27 18h1v1h-1zM30 18h2v1h-2zM35 18h1v1h-1zM53 18h1v1h-1zM55 18h1v1h-1zM24 19h1v1h-1zM28 19h1v1h-1zM30 19h1v1h-1zM43 19h1v1h-1zM6 20h2v1h-2zM14 20h1v1h-1zM25 20h1v1h-1zM0 21h1v1h-1zM34 21h1v1h-1zM36 21h1v1h-1zM47 21h1v1h-1zM39 22h1v1h-1zM55 22h1v1h-1zM41 23h1v1h-1zM46 27h1v1h-1zM18 28h1v1h-1zM40 28h1v1h-1zM3 29h1v1h-1zM6 29h1v1h-1zM21 29h1v1h-1zM25 29h1v1h-1zM39 29h1v1h-1zM53 29h1v1h-1zM24 30h2v1h-2zM43 30h1v1h-1zM0 31h2v1h-2zM43 31h2v1h-2zM33 32h1v1h-1zM44 32h1v1h-1zM1 33h1v1h-1zM7 33h1v1h-1zM36 33h1v1h-1zM38 33h1v1h-1zM40 33h1v1h-1zM47 33h1v1h-1zM21 36h1v1h-1zM34 36h1v1h-1zM54 36h1v1h-1zM55 37h1v1h-1zM31 38h1v1h-1zM35 38h1v1h-1zM27 41h1v1h-1zM11 49h1v1h-1zM36 49h1v1h-1zM54 54h1v1h-1zM24 56h1v1h-1zM27 56h1v1h-1zM1 57h1v1h-1zM20 60h1v1h-1zM41 60h1v1h-1zM21 61h1v1h-1zM44 61h1v1h-1zM53 61h1v1h-1z"/>
<path fill="#ff7e5e" d="M3 0h1v1h-1zM11 1h1v1h-1zM25 2h1v1h-1zM29 9h1v1h-1zM43 9h1v1h-1zM26 14h1v1h-1zM13 18h1v1h-1zM15 21h1v1h-1zM13 36h1v1h-1zM15 36h1v1h-1zM27 36h1v1h-1z"/>
<path fill="#ff4d2e" d="M1 0h1v1h-1zM21 1h1v1h-1zM30 2h1v1h-1zM4 3h1v1h-1zM33 3h1v1h-1zM40 3h1v1h-1zM43 3h1v1h-1zM2 5h1v1h-1zM6 5h1v1h-1zM4 6h1v1h-1zM27 6h1v1h-1zM34 7h1v1h-1zM9 11h1v1h-1zM53 11h1v1h-1zM22 12h1v1h-1zM29 12h1v1h-1zM52 12h1v1h-1zM33 13h1v1h-1zM48 13h1v1h-1zM18 14h1v1h-1zM31 14h1v1h-1zM2 15h1v1h-1zM17 15h1v1h-1zM7 17h1v1h-1zM12 17h1v1h-1zM0 19h1v1h-1zM5 19h1v1h-1zM39 19h1v1h-1zM40 20h1v1h-1zM48 20h1v1h-1zM7 21h1v1h-1zM14 22h1v1h-1zM21 22h1v1h-1zM6 25h1v1h-1zM36 26h2v1h-2zM8 27h1v1h-1zM12 28h1v1h-1zM15 29h1v1h-1zM15 30h1v1h-1zM37 32h1v1h-1zM47 32h1v1h-1zM15 33h1v1h-1zM8 36h1v1h-1zM7 37h1v1h-1zM40 38h1v1h-1zM21 49h1v1h-1zM36 54h1v1h-1zM6 57h1v1h-1zM9 58h1v1h-1zM47 58h1v1h-1zM50 59h1v1h-1zM15 60h1v1h-1zM23 60h1v1h-1zM43 60h1v1h-1z"/>
<path fill="#ff3e22" d="M11 0h1v1h-1zM33 0h1v1h-1zM55 0h1v1h-1zM17 1h1v1h-1zM31 1h1v1h-1zM35 1h1v1h-1zM40 1h1v1h-1zM28 2h1v1h-1zM44 2h1v1h-1zM0 3h1v1h-1zM45 3h1v1h-1zM49 3h2v1h-2zM12 4h1v1h-1zM24 4h1v1h-1zM28 4h2v1h-2zM38 4h1v1h-1zM47 4h1v1h-1zM9 6h1v1h-1zM42 6h1v1h-1zM1 7h1v1h-1zM24 7h1v1h-1zM27 7h1v1h-1zM30 7h1v1h-1zM32 7h1v1h-1zM48 7h1v1h-1zM52 7h1v1h-1zM12 8h1v1h-1zM15 8h1v1h-1zM19 8h2v1h-2zM28 8h1v1h-1zM33 8h1v1h-1zM43 8h1v1h-1zM13 9h1v1h-1zM26 9h1v1h-1zM32 10h1v1h-1zM46 10h1v1h-1zM34 11h1v1h-1zM13 12h1v1h-1zM37 12h1v1h-1zM46 12h1v1h-1zM9 13h1v1h-1zM1 14h1v1h-1zM5 14h1v1h-1zM43 14h1v1h-1zM8 15h1v1h-1zM14 15h1v1h-1zM6 16h1v1h-1zM30 16h1v1h-1zM41 16h1v1h-1zM44 16h1v1h-1zM19 17h1v1h-1zM17 18h1v1h-1zM50 18h1v1h-1zM3 19h1v1h-1zM45 19h1v1h-1zM36 20h1v1h-1zM46 20h1v1h-1zM41 21h1v1h-1zM4 22h1v1h-1zM20 22h1v1h-1zM14 23h1v1h-1zM35 23h1v1h-1zM48 23h1v1h-1zM50 23h1v1h-1zM9 24h2v1h-2zM20 24h1v1h-1zM35 24h1v1h-1zM38 25h1v1h-1zM55 25h1v1h-1zM31 27h1v1h-1zM36 27h1v1h-1zM7 28h1v1h-1zM38 28h1v1h-1zM46 28h1v1h-1zM9 30h1v1h-1zM20 30h1v1h-1zM36 30h1v1h-1zM24 31h1v1h-1zM46 31h1v1h-1zM51 31h1v1h-1zM23 32h1v1h-1zM38 32h1v1h-1zM42 32h1v1h-1zM17 33h1v1h-1zM54 33h1v1h-1zM0 36h1v1h-1zM38 36h1v1h-1zM9 37h1v1h-1zM28 37h1v1h-1zM30 37h1v1h-1zM12 38h1v1h-1zM47 38h1v1h-1zM26 39h1v1h-1zM21 41h1v1h-1zM11 43h1v1h-1zM32 47h1v1h-1zM18 50h1v1h-1zM7 54h1v1h-1zM13 57h1v1h-1zM15 58h1v1h-1zM21 58h1v1h-1zM36 58h1v1h-1zM44 58h1v1h-1zM0 59h1v1h-1zM54 59h1v1h-1zM13 60h1v1h-1z"/>
<path fill="#ff2913" d="M16 0h1v1h-1zM20 0h1v1h-1zM24 0h2v1h-2zM36 0h1v1h-1zM38 0h1v1h-1zM5 1h1v1h-1zM14 1h1v1h-1zM34 1h1v1h-1zM47 1h1v1h-1zM54 1h1v1h-1zM3 3h1v1h-1zM3 4h1v1h-1zM8 4h1v1h-1zM21 4h1v1h-1zM30 4h1v1h-1zM32 4h1v1h-1zM34 4h1v1h-1zM54 4h1v1h-1zM0 5h1v1h-1zM3 5h3v1h-3zM10 5h1v1h-1zM17 5h1v1h-1zM19 5h1v1h-1zM34 5h1v1h-1zM50 5h1v1h-1zM17 6h1v1h-1zM19 6h1v1h-1zM47 6h1v1h-1zM3 7h1v1h-1zM18 7h1v1h-1zM37 7h1v1h-1zM46 7h1v1h-1zM5 8h1v1h-1zM13 8h1v1h-1zM27 8h1v1h-1zM1 10h1v1h-1zM9 10h1v1h-1zM13 10h1v1h-1zM16 10h1v1h-1zM8 11h1v1h-1zM16 11h1v1h-1zM40 11h1v1h-1zM41 13h1v1h-1zM23 14h1v1h-1zM29 14h1v1h-1zM39 14h1v1h-1zM49 14h1v1h-1zM6 15h2v1h-2zM11 15h1v1h-1zM20 15h1v1h-1zM15 16h1v1h-1zM50 16h1v1h-1zM6 17h1v1h-1zM14 19h1v1h-1zM1 21h1v1h-1zM12 21h1v1h-1zM16 21h1v1h-1zM39 21h1v1h-1zM45 21h1v1h-1zM26 22h1v1h-1zM26 23h1v1h-1zM36 23h1v1h-1zM39 23h2v1h-2zM14 24h1v1h-1zM17 24h1v1h-1zM25 24h1v1h-1zM53 24h1v1h-1zM36 25h1v1h-1zM46 25h1v1h-1zM0 26h1v1h-1zM27 27h1v1h-1zM43 27h1v1h-1zM48 28h1v1h-1zM32 29h1v1h-1zM31 30h1v1h-1zM54 30h1v1h-1zM3 31h1v1h-1zM7 31h1v1h-1zM39 31h1v1h-1zM45 31h1v1h-1zM8 32h1v1h-1zM45 32h1v1h-1zM5 33h1v1h-1zM12 33h1v1h-1zM25 36h1v1h-1zM48 36h1v1h-1zM23 37h1v1h-1zM41 37h1v1h-1zM51 38h1v1h-1zM25 39h1v1h-1zM51 39h1v1h-1zM16 41h1v1h-1zM14 43h1v1h-1zM29 47h1v1h-1zM48 50h1v1h-1zM33 54h1v1h-1zM13 56h1v1h-1zM0 58h1v1h-1zM14 58h1v1h-1zM24 58h1v1h-1zM51 59h1v1h-1zM55 59h1v1h-1zM27 60h1v1h-1zM32 60h1v1h-1zM45 60h1v1h-1z"/>
<path fill="#ff0000" d="M44 0h1v1h-1zM21 3h1v1h-1zM37 3h1v1h-1zM36 4h2v1h-2zM27 5h1v1h-1zM48 5h1v1h-1zM0 6h1v1h-1zM5 7h1v1h-1zM12 7h1v1h-1zM3 8h1v1h-1zM45 8h1v1h-1zM21 9h1v1h-1zM47 10h1v1h-1zM22 11h1v1h-1zM33 12h1v1h-1zM41 12h1v1h-1zM34 14h1v1h-1zM0 15h2v1h-2zM43 15h1v1h-1zM54 15h1v1h-1zM11 16h1v1h-1zM6 18h1v1h-1zM17 19h1v1h-1zM51 21h1v1h-1zM2 22h1v1h-1zM36 22h1v1h-1zM21 23h1v1h-1zM51 23h2v1h-2zM55 23h1v1h-1zM32 24h1v1h-1zM17 25h1v1h-1zM24 26h1v1h-1zM15 27h1v1h-1zM34 27h1v1h-1zM11 28h1v1h-1zM15 28h1v1h-1zM19 29h1v1h-1zM17 30h1v1h-1zM50 31h1v1h-1zM20 32h1v1h-1zM40 32h1v1h-1zM39 36h1v1h-1zM4 37h1v1h-1zM47 39h1v1h-1zM53 39h1v1h-1zM14 40h1v1h-1zM3 43h1v1h-1zM41 43h1v1h-1zM25 49h1v1h-1zM54 49h1v1h-1zM19 51h1v1h-1zM26 56h1v1h-1zM45 57h1v1h-1zM1 58h1v1h-1z"/>
</svg>
<text x="644.8" y="21.79" font-size="8.3" fill="#222">CG32204</text>
<text x="644.8" y="29.97" font-size="8.3" fill="#222">jdp</text>
<text x="644.8" y="38.15" font-size="8.3" fill="#222">sNPF</text>
<text x="644.8" y="46.33" font-size="8.3" fill="#222">sdt</text>
<text x="644.8" y="54.51" font-size="8.3" fill="#222">dac</text>
<text x="644.8" y="62.68" font-size="8.3" fill="#222">a</text>
<text x="644.8" y="70.86" font-size="8.3" fill="#222">Plc21C</text>
<text x="644.8" y="79.04" font-size="8.3" fill="#222">CG17816</text>
<text x="644.8" y="87.22" font-size="8.3" fill="#222">qm</text>
<text x="644.8" y="95.40" font-size="8.3" fill="#222">Pka-R1</text>
<text x="644.8" y="103.58" font-size="8.3" fill="#222">CG42339</text>
<text x="644.8" y="111.76" font-size="8.3" fill="#222">CG3625</text>
<text x="644.8" y="119.94" font-size="8.3" fill="#222">Hr38</text>
<text x="644.8" y="128.12" font-size="8.3" fill="#222">Ppcs</text>
<text x="644.8" y="136.30" font-size="8.3" fill="#222">Rbp</text>
<text x="644.8" y="144.47" font-size="8.3" fill="#222">Octbeta3R</text>
<text x="644.8" y="152.65" font-size="8.3" fill="#222">Lgr1</text>
<text x="644.8" y="160.83" font-size="8.3" fill="#222">CG13784</text>
<text x="644.8" y="169.01" font-size="8.3" fill="#222">CG31221</text>
<text x="644.8" y="177.19" font-size="8.3" fill="#222">hec</text>
<text x="644.8" y="185.37" font-size="8.3" fill="#222">amon</text>
<text x="644.8" y="193.55" font-size="8.3" fill="#222">CG42795</text>
<text x="644.8" y="201.73" font-size="8.3" fill="#222">CG2865</text>
<text x="644.8" y="209.91" font-size="8.3" fill="#222">spab</text>
<text x="644.8" y="218.09" font-size="8.3" fill="#222">ome</text>
<text x="644.8" y="226.27" font-size="8.3" fill="#222">subdued</text>
<text x="644.8" y="234.44" font-size="8.3" fill="#222">sr</text>
<text x="644.8" y="242.62" font-size="8.3" fill="#222">meng</text>
<text x="644.8" y="250.80" font-size="8.3" fill="#222">beat-VII</text>
<text x="644.8" y="258.98" font-size="8.3" fill="#222">CG8500</text>
<text x="644.8" y="267.16" font-size="8.3" fill="#222">CG44247</text>
<text x="644.8" y="275.34" font-size="8.3" fill="#222">Mid1</text>
<text x="644.8" y="283.52" font-size="8.3" fill="#222">sty</text>
<text x="644.8" y="291.70" font-size="8.3" fill="#222">CG4577</text>
<text x="644.8" y="299.88" font-size="8.3" fill="#222">CG8665</text>
<text x="644.8" y="308.06" font-size="8.3" fill="#222">MFS9</text>
<text x="644.8" y="316.23" font-size="8.3" fill="#222">CG12531</text>
<text x="644.8" y="324.41" font-size="8.3" fill="#222">ChT</text>
<text x="644.8" y="332.59" font-size="8.3" fill="#222">Syngr</text>
<text x="644.8" y="340.77" font-size="8.3" fill="#222">CG42346</text>
<text x="644.8" y="348.95" font-size="8.3" fill="#222">CrebA</text>
<text x="644.8" y="357.13" font-size="8.3" fill="#222">msk</text>
<text x="644.8" y="365.31" font-size="8.3" fill="#222">CG16743</text>
<text x="644.8" y="373.49" font-size="8.3" fill="#222">Rgl</text>
<text x="644.8" y="381.67" font-size="8.3" fill="#222">Myo31DF</text>
<text x="644.8" y="389.85" font-size="8.3" fill="#222">dl</text>
<text x="644.8" y="398.03" font-size="8.3" fill="#222">Cdc7</text>
<text x="644.8" y="406.20" font-size="8.3" fill="#222">Nop60B</text>
<text x="644.8" y="414.38" font-size="8.3" fill="#222">CG13185</text>
<text x="644.8" y="422.56" font-size="8.3" fill="#222">CG14186</text>
<text x="644.8" y="430.74" font-size="8.3" fill="#222">Dmtn</text>
<text x="644.8" y="438.92" font-size="8.3" fill="#222">nvy</text>
<text x="644.8" y="447.10" font-size="8.3" fill="#222">srl</text>
<text x="644.8" y="455.28" font-size="8.3" fill="#222">Apoltp</text>
<text x="644.8" y="463.46" font-size="8.3" fill="#222">CG5065</text>
<text x="644.8" y="471.64" font-size="8.3" fill="#222">CROT</text>
<text x="644.8" y="479.82" font-size="8.3" fill="#222">jeb</text>
<text x="644.8" y="487.99" font-size="8.3" fill="#222">svr</text>
<text x="644.8" y="496.17" font-size="8.3" fill="#222">Dgk</text>
<text x="644.8" y="504.35" font-size="8.3" fill="#222">MsrA</text>
<text x="644.8" y="512.53" font-size="8.3" fill="#222">Hex-A</text>
<text x="644.8" y="520.71" font-size="8.3" fill="#222">IA-2</text>
<rect x="371.0" y="523.2" width="49.30" height="6.7" fill="#7cae00"/>
<rect x="420.3" y="523.2" width="4.50" height="6.7" fill="#c77cff"/>
<rect x="424.8" y="523.2" width="1.30" height="6.7" fill="#00bfc4"/>
<rect x="426.1" y="523.2" width="11.30" height="6.7" fill="#f8766d"/>
<rect x="437.4" y="523.2" width="80.80" height="6.7" fill="#c77cff"/>
<rect x="519.0" y="523.2" width="11.60" height="6.7" fill="#7cae00"/>
<rect x="530.6" y="523.2" width="14.30" height="6.7" fill="#00bfc4"/>
<rect x="544.9" y="523.2" width="28.80" height="6.7" fill="#f8766d"/>
<rect x="573.7" y="523.2" width="1.90" height="6.7" fill="#00bfc4"/>
<rect x="576.6" y="523.2" width="8.70" height="6.7" fill="#7cae00"/>
<rect x="585.3" y="523.2" width="4.70" height="6.7" fill="#00bfc4"/>
<rect x="590.0" y="523.2" width="12.80" height="6.7" fill="#f8766d"/>
<rect x="602.8" y="523.2" width="24.40" height="6.7" fill="#00bfc4"/>
<rect x="627.2" y="523.2" width="2.00" height="6.7" fill="#c77cff"/>
<rect x="629.2" y="523.2" width="5.60" height="6.7" fill="#00bfc4"/>
<rect x="634.8" y="523.2" width="1.40" height="6.7" fill="#c77cff"/>
<rect x="636.2" y="523.2" width="7.60" height="6.7" fill="#00bfc4"/>
<text x="644.9" y="528.9" font-size="7.5" font-weight="bold" fill="#111">Condition</text>
<text x="380.5" y="544.2" font-size="11.5" font-weight="bold" fill="#111">Condition</text>
<rect x="443.9" y="534.8" width="8.6" height="11" fill="#7cae00" stroke="#000" stroke-width="1.5"/>
<text x="455.8" y="544.6" font-size="11.6" fill="#111">Naive</text>
<rect x="492.9" y="534.8" width="8.6" height="11" fill="#f8766d" stroke="#000" stroke-width="1.5"/>
<text x="503.4" y="544.6" font-size="11.6" fill="#111">Adcy1</text>
<rect x="542.1" y="534.8" width="8.6" height="11" fill="#00bfc4" stroke="#000" stroke-width="1.5"/>
<text x="551.8" y="544.6" font-size="11.6" fill="#111">WTT-1</text>
<rect x="593.8" y="534.8" width="8.6" height="11" fill="#c77cff" stroke="#000" stroke-width="1.5"/>
<text x="605.2" y="544.6" font-size="11.6" fill="#111">WTT-2</text>
</svg></body></html>
